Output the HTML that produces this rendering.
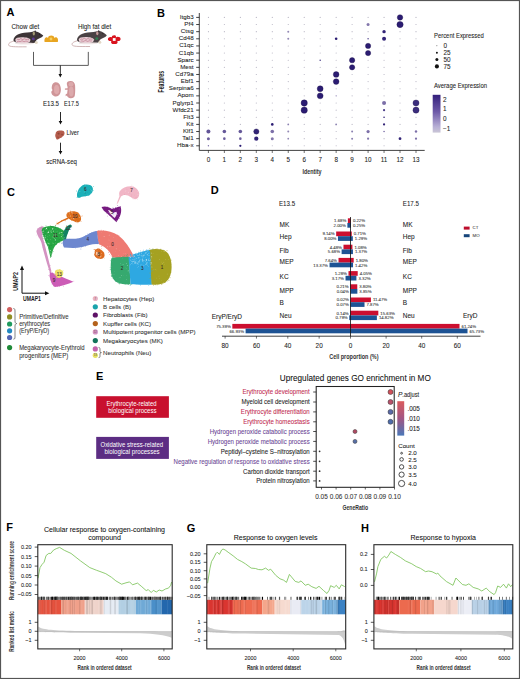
<!DOCTYPE html>
<html><head><meta charset="utf-8"><style>
html,body{margin:0;padding:0;background:#fff;}
svg{display:block;}
text{font-family:"Liberation Sans",sans-serif;}
</style></head><body>
<svg width="520" height="679" viewBox="0 0 520 679">
<rect x="0" y="0" width="520" height="679" fill="#fff"/>
<rect x="0.5" y="0.5" width="519" height="678" fill="none" stroke="#555" stroke-width="1.2"/>
<text x="6.40" y="16.38" font-size="11" text-anchor="start" fill="#000" font-weight="bold">A</text>
<text x="156.90" y="16.88" font-size="11" text-anchor="start" fill="#000" font-weight="bold">B</text>
<text x="7.10" y="195.58" font-size="11" text-anchor="start" fill="#000" font-weight="bold">C</text>
<text x="210.80" y="193.88" font-size="11" text-anchor="start" fill="#000" font-weight="bold">D</text>
<text x="96.00" y="380.18" font-size="11" text-anchor="start" fill="#000" font-weight="bold">E</text>
<text x="6.30" y="530.88" font-size="11" text-anchor="start" fill="#000" font-weight="bold">F</text>
<text x="186.70" y="531.68" font-size="11" text-anchor="start" fill="#000" font-weight="bold">G</text>
<text x="360.90" y="531.68" font-size="11" text-anchor="start" fill="#000" font-weight="bold">H</text>
<g transform="translate(0,0)">
<path d="M13.9,41.1 C10,42 8,43.5 8.7,45.3 C9.5,46.8 14,46.9 26.6,46.8" fill="none" stroke="#c4a2a2" stroke-width="0.8"/>
<path d="M13.5,40.5 C13.5,37.5 16,35 19,34 C22,33 26,32.5 30,32.3 C32,32 34,31 36,31.4 C38.5,31.8 41,33.5 43.3,35.5 C42.5,36.8 41,37.8 39.6,38.2 C38.5,38.6 37.5,39.2 36.5,40 L35,42.8 C31,43.6 25,43.8 20,43.3 C16.5,42.9 14,41.8 13.5,40.5 Z" fill="#3d3436" stroke="none" stroke-width="0.6"/>
<ellipse cx="24.5" cy="43.5" rx="9.5" ry="1.0" fill="#efe6e6"/>
<path d="M15.4,39.6 C15.5,37.9 18,37.2 22,37.2 C26,37.2 29.5,37.9 30.3,39.6 C30.8,41.3 29.5,43 26,43.3 C22,43.6 17.5,43.3 16,42.3 C15.5,41.6 15.4,40.6 15.4,39.6 Z" fill="#e8d0d6" stroke="none" stroke-width="0.6"/>
<path d="M16.8,39.8 C17.8,38.3 19.3,40.8 20.3,38.8 C21.3,37.8 22.3,40.8 23.8,39.1 C24.8,38.1 25.8,40.3 27.3,39.3 C28,38.9 28.6,39.8 29,39.6 M17.2,41.6 C18.7,40.4 19.7,42.6 21.2,41.1 C22.7,40.1 23.7,42.6 25.2,41.3 C26.2,40.6 27.2,41.9 28.4,41.1" fill="none" stroke="#b05a72" stroke-width="0.55"/>
<ellipse cx="33.8" cy="33.6" rx="1.15" ry="2.0" fill="#a39a72"/>
<circle cx="35.20" cy="31.20" r="0.70" fill="#2a2224"/>
<ellipse cx="33.3" cy="38.9" rx="1.5" ry="1.4" fill="#5a3a90"/>
<circle cx="39.40" cy="34.10" r="0.45" fill="#000"/>
<ellipse cx="36.3" cy="42.6" rx="1.5" ry="1.5" fill="#e2d8c6"/>
</g>
<g transform="translate(63.5,-0.3)">
<path d="M13.9,41.1 C10,42 8,43.5 8.7,45.3 C9.5,46.8 14,46.9 26.6,46.8" fill="none" stroke="#c4a2a2" stroke-width="0.8"/>
<path d="M13.5,40.5 C13.5,37.5 16,35 19,34 C22,33 26,32.5 30,32.3 C32,32 34,31 36,31.4 C38.5,31.8 41,33.5 43.3,35.5 C42.5,36.8 41,37.8 39.6,38.2 C38.5,38.6 37.5,39.2 36.5,40 L35,42.8 C31,43.6 25,43.8 20,43.3 C16.5,42.9 14,41.8 13.5,40.5 Z" fill="#4a4244" stroke="none" stroke-width="0.6"/>
<ellipse cx="24.5" cy="43.5" rx="9.5" ry="1.0" fill="#efe6e6"/>
<path d="M15.4,39.6 C15.5,37.9 18,37.2 22,37.2 C26,37.2 29.5,37.9 30.3,39.6 C30.8,41.3 29.5,43 26,43.3 C22,43.6 17.5,43.3 16,42.3 C15.5,41.6 15.4,40.6 15.4,39.6 Z" fill="#e8d0d6" stroke="none" stroke-width="0.6"/>
<path d="M16.8,39.8 C17.8,38.3 19.3,40.8 20.3,38.8 C21.3,37.8 22.3,40.8 23.8,39.1 C24.8,38.1 25.8,40.3 27.3,39.3 C28,38.9 28.6,39.8 29,39.6 M17.2,41.6 C18.7,40.4 19.7,42.6 21.2,41.1 C22.7,40.1 23.7,42.6 25.2,41.3 C26.2,40.6 27.2,41.9 28.4,41.1" fill="none" stroke="#b05a72" stroke-width="0.55"/>
<ellipse cx="33.8" cy="33.6" rx="1.15" ry="2.0" fill="#c49a98"/>
<circle cx="35.20" cy="31.20" r="0.70" fill="#2a2224"/>
<ellipse cx="33.3" cy="38.9" rx="1.5" ry="1.4" fill="#2e7d4e"/>
<circle cx="39.40" cy="34.10" r="0.45" fill="#000"/>
<ellipse cx="36.3" cy="42.6" rx="1.5" ry="1.5" fill="#e2d8c6"/>
</g>
<path d="M44.6,42 C44.2,40.5 44.4,38.3 45.8,37.6 C46.8,37.1 47.6,37.4 48,37.9 C48.2,36.3 49.6,35.5 51.2,35.5 C52.8,35.5 54.2,36.3 54.3,37.9 C54.8,37.4 55.8,37.1 56.8,37.6 C58.1,38.3 58.3,40.5 57.8,42 Z" fill="#e8a521" stroke="none" stroke-width="0.6"/>
<circle cx="51.00" cy="39.00" r="1.40" fill="#f6cf62"/>
<path d="M112,37.4 C111,35.2 116,34.6 116,36.5 L115.8,37.4 C117.5,36.2 120.8,37 120.6,39.2 C120.4,40.8 118.5,41.3 117.3,40.9 C118.2,42.6 117.3,44.2 114.2,44.1 C111.3,44.1 110.6,42.6 111.3,40.9 C110,41.4 107.8,40.7 107.9,39 C108.1,37 110.8,36.4 112,37.4 Z" fill="#d9141f" stroke="none" stroke-width="0.6"/>
<rect x="112.80" y="38.10" width="2.80" height="2.80" fill="#fff"/>
<text x="11.50" y="28.90" font-size="6.4" text-anchor="start" fill="#222" stroke="#222" stroke-width="0.07" textLength="27.70" lengthAdjust="spacingAndGlyphs">Chow diet</text>
<text x="78.00" y="28.90" font-size="6.4" text-anchor="start" fill="#222" stroke="#222" stroke-width="0.07" textLength="33.20" lengthAdjust="spacingAndGlyphs">High fat diet</text>
<path d="M33.5,51.9 L33.5,65.4 L88.3,65.4 L88.3,51.9" fill="none" stroke="#4a4a4a" stroke-width="0.9"/>
<line x1="60.30" y1="65.40" x2="60.30" y2="75.00" stroke="#111" stroke-width="0.9"/>
<path d="M58.5,74.1 L60.3,77.5 L62.099999999999994,74.1 Z" fill="#111" stroke="none" stroke-width="0.6"/>
<line x1="60.50" y1="112.00" x2="60.50" y2="122.00" stroke="#111" stroke-width="0.9"/>
<path d="M58.7,121.1 L60.5,124.5 L62.3,121.1 Z" fill="#111" stroke="none" stroke-width="0.6"/>
<line x1="60.50" y1="142.70" x2="60.50" y2="152.00" stroke="#111" stroke-width="0.9"/>
<path d="M58.7,151.1 L60.5,154.5 L62.3,151.1 Z" fill="#111" stroke="none" stroke-width="0.6"/>
<path d="M56,82.3 C59,82.3 60.9,85.5 60.9,89.5 C60.9,93.5 59,96.5 56,96.5 C53,96.5 51.1,94 51.3,91.5 C52.5,91 52.8,89.5 51.8,88.8 C51.5,85 53,82.3 56,82.3 Z" fill="#cf9598" stroke="none" stroke-width="0.6"/>
<ellipse cx="56.6" cy="89.6" rx="2.6" ry="4.6" fill="#dfaaac"/>
<path d="M66.8,84 C66.5,81.8 68.5,80.8 70.5,80.9 C73,80.8 75,82.5 75.1,85.5 C75.3,89 75.3,93 74.8,95.5 C74.5,97.5 72.5,98.4 70.5,98.2 C68.5,98 67.2,97 67,95.5 L65.6,96.2 L65.7,94.3 L67.2,93.5 C67.3,92 67.5,90.5 67.6,89.8 L64.9,89.7 L64.9,88.4 L67.6,88.3 C67.8,87.5 67.2,86 66.8,84 Z" fill="#cf9598" stroke="none" stroke-width="0.6"/>
<ellipse cx="71.3" cy="91.5" rx="2.3" ry="5" fill="#dcaaac"/>
<ellipse cx="71" cy="84.2" rx="2.4" ry="2.2" fill="#dcaaac"/>
<text x="43.00" y="105.84" font-size="6.5" text-anchor="start" fill="#222" stroke="#222" stroke-width="0.07" textLength="16.00" lengthAdjust="spacingAndGlyphs">E13.5</text>
<text x="64.10" y="105.84" font-size="6.5" text-anchor="start" fill="#222" stroke="#222" stroke-width="0.07" textLength="14.70" lengthAdjust="spacingAndGlyphs">E17.5</text>
<path d="M56.5,131.8 C57.5,130.6 59.5,130.5 61,130.6 C62.8,130.4 64.3,131 64.5,132.8 C64.8,134.6 63.8,136 62.5,136.6 C61.8,137.6 60.8,138.2 59.8,138.3 C59,139 58,139.8 57,139.5 C56,139.2 56.2,138 55.6,137.2 C55,136 55.2,134.5 55.7,133.5 C55.6,132.8 55.9,132.2 56.5,131.8 Z" fill="#b45c4c" stroke="none" stroke-width="0.6"/>
<path d="M57.5,133 C58.5,132.2 60,132.8 59.5,134 C59,135 57.8,134.8 57.5,133 Z M61.5,133.8 C62.5,133.4 63.3,134.5 62.6,135.3 C61.9,135.8 61,135 61.5,133.8 Z M57.6,136.6 C58.4,136.3 59,137.3 58.4,138 C57.7,138.3 57.2,137.3 57.6,136.6 Z" fill="#8e4436" stroke="none" stroke-width="0.6"/>
<text x="66.50" y="135.18" font-size="6.6" text-anchor="start" fill="#222" stroke="#222" stroke-width="0.07" textLength="12.40" lengthAdjust="spacingAndGlyphs">Liver</text>
<text x="46.20" y="163.90" font-size="6.4" text-anchor="start" fill="#222" stroke="#222" stroke-width="0.07" textLength="30.70" lengthAdjust="spacingAndGlyphs">scRNA-seq</text>
<line x1="199.30" y1="13.00" x2="199.30" y2="150.40" stroke="#111" stroke-width="0.8"/>
<line x1="199.30" y1="150.40" x2="424.70" y2="150.40" stroke="#111" stroke-width="0.8"/>
<line x1="196.20" y1="17.40" x2="199.30" y2="17.40" stroke="#111" stroke-width="0.8"/>
<text x="193.60" y="18.93" font-size="6.2" text-anchor="end" fill="#222" stroke="#222" stroke-width="0.07">Itgb3</text>
<line x1="196.20" y1="24.53" x2="199.30" y2="24.53" stroke="#111" stroke-width="0.8"/>
<text x="193.60" y="26.07" font-size="6.2" text-anchor="end" fill="#222" stroke="#222" stroke-width="0.07">Pf4</text>
<line x1="196.20" y1="31.67" x2="199.30" y2="31.67" stroke="#111" stroke-width="0.8"/>
<text x="193.60" y="33.20" font-size="6.2" text-anchor="end" fill="#222" stroke="#222" stroke-width="0.07">Ctsg</text>
<line x1="196.20" y1="38.80" x2="199.30" y2="38.80" stroke="#111" stroke-width="0.8"/>
<text x="193.60" y="40.33" font-size="6.2" text-anchor="end" fill="#222" stroke="#222" stroke-width="0.07">Cd48</text>
<line x1="196.20" y1="45.93" x2="199.30" y2="45.93" stroke="#111" stroke-width="0.8"/>
<text x="193.60" y="47.47" font-size="6.2" text-anchor="end" fill="#222" stroke="#222" stroke-width="0.07">C1qc</text>
<line x1="196.20" y1="53.07" x2="199.30" y2="53.07" stroke="#111" stroke-width="0.8"/>
<text x="193.60" y="54.60" font-size="6.2" text-anchor="end" fill="#222" stroke="#222" stroke-width="0.07">C1qb</text>
<line x1="196.20" y1="60.20" x2="199.30" y2="60.20" stroke="#111" stroke-width="0.8"/>
<text x="193.60" y="61.73" font-size="6.2" text-anchor="end" fill="#222" stroke="#222" stroke-width="0.07">Sparc</text>
<line x1="196.20" y1="67.33" x2="199.30" y2="67.33" stroke="#111" stroke-width="0.8"/>
<text x="193.60" y="68.87" font-size="6.2" text-anchor="end" fill="#222" stroke="#222" stroke-width="0.07">Mest</text>
<line x1="196.20" y1="74.47" x2="199.30" y2="74.47" stroke="#111" stroke-width="0.8"/>
<text x="193.60" y="76.00" font-size="6.2" text-anchor="end" fill="#222" stroke="#222" stroke-width="0.07">Cd79a</text>
<line x1="196.20" y1="81.60" x2="199.30" y2="81.60" stroke="#111" stroke-width="0.8"/>
<text x="193.60" y="83.13" font-size="6.2" text-anchor="end" fill="#222" stroke="#222" stroke-width="0.07">Ebf1</text>
<line x1="196.20" y1="88.73" x2="199.30" y2="88.73" stroke="#111" stroke-width="0.8"/>
<text x="193.60" y="90.27" font-size="6.2" text-anchor="end" fill="#222" stroke="#222" stroke-width="0.07">Serpina6</text>
<line x1="196.20" y1="95.87" x2="199.30" y2="95.87" stroke="#111" stroke-width="0.8"/>
<text x="193.60" y="97.40" font-size="6.2" text-anchor="end" fill="#222" stroke="#222" stroke-width="0.07">Apom</text>
<line x1="196.20" y1="103.00" x2="199.30" y2="103.00" stroke="#111" stroke-width="0.8"/>
<text x="193.60" y="104.53" font-size="6.2" text-anchor="end" fill="#222" stroke="#222" stroke-width="0.07">Pglyrp1</text>
<line x1="196.20" y1="110.13" x2="199.30" y2="110.13" stroke="#111" stroke-width="0.8"/>
<text x="193.60" y="111.67" font-size="6.2" text-anchor="end" fill="#222" stroke="#222" stroke-width="0.07">Wfdc21</text>
<line x1="196.20" y1="117.27" x2="199.30" y2="117.27" stroke="#111" stroke-width="0.8"/>
<text x="193.60" y="118.80" font-size="6.2" text-anchor="end" fill="#222" stroke="#222" stroke-width="0.07">Flt3</text>
<line x1="196.20" y1="124.40" x2="199.30" y2="124.40" stroke="#111" stroke-width="0.8"/>
<text x="193.60" y="125.93" font-size="6.2" text-anchor="end" fill="#222" stroke="#222" stroke-width="0.07">Kit</text>
<line x1="196.20" y1="131.53" x2="199.30" y2="131.53" stroke="#111" stroke-width="0.8"/>
<text x="193.60" y="133.07" font-size="6.2" text-anchor="end" fill="#222" stroke="#222" stroke-width="0.07">Klf1</text>
<line x1="196.20" y1="138.67" x2="199.30" y2="138.67" stroke="#111" stroke-width="0.8"/>
<text x="193.60" y="140.20" font-size="6.2" text-anchor="end" fill="#222" stroke="#222" stroke-width="0.07">Tal1</text>
<line x1="196.20" y1="145.80" x2="199.30" y2="145.80" stroke="#111" stroke-width="0.8"/>
<text x="193.60" y="147.33" font-size="6.2" text-anchor="end" fill="#222" stroke="#222" stroke-width="0.07">Hba-x</text>
<line x1="208.40" y1="150.40" x2="208.40" y2="153.00" stroke="#111" stroke-width="0.6"/>
<text x="208.40" y="161.97" font-size="6.3" text-anchor="middle" fill="#222" stroke="#222" stroke-width="0.07">0</text>
<line x1="224.37" y1="150.40" x2="224.37" y2="153.00" stroke="#111" stroke-width="0.6"/>
<text x="224.37" y="161.97" font-size="6.3" text-anchor="middle" fill="#222" stroke="#222" stroke-width="0.07">1</text>
<line x1="240.34" y1="150.40" x2="240.34" y2="153.00" stroke="#111" stroke-width="0.6"/>
<text x="240.34" y="161.97" font-size="6.3" text-anchor="middle" fill="#222" stroke="#222" stroke-width="0.07">2</text>
<line x1="256.31" y1="150.40" x2="256.31" y2="153.00" stroke="#111" stroke-width="0.6"/>
<text x="256.31" y="161.97" font-size="6.3" text-anchor="middle" fill="#222" stroke="#222" stroke-width="0.07">3</text>
<line x1="272.28" y1="150.40" x2="272.28" y2="153.00" stroke="#111" stroke-width="0.6"/>
<text x="272.28" y="161.97" font-size="6.3" text-anchor="middle" fill="#222" stroke="#222" stroke-width="0.07">4</text>
<line x1="288.25" y1="150.40" x2="288.25" y2="153.00" stroke="#111" stroke-width="0.6"/>
<text x="288.25" y="161.97" font-size="6.3" text-anchor="middle" fill="#222" stroke="#222" stroke-width="0.07">5</text>
<line x1="304.22" y1="150.40" x2="304.22" y2="153.00" stroke="#111" stroke-width="0.6"/>
<text x="304.22" y="161.97" font-size="6.3" text-anchor="middle" fill="#222" stroke="#222" stroke-width="0.07">6</text>
<line x1="320.18" y1="150.40" x2="320.18" y2="153.00" stroke="#111" stroke-width="0.6"/>
<text x="320.18" y="161.97" font-size="6.3" text-anchor="middle" fill="#222" stroke="#222" stroke-width="0.07">7</text>
<line x1="336.15" y1="150.40" x2="336.15" y2="153.00" stroke="#111" stroke-width="0.6"/>
<text x="336.15" y="161.97" font-size="6.3" text-anchor="middle" fill="#222" stroke="#222" stroke-width="0.07">8</text>
<line x1="352.12" y1="150.40" x2="352.12" y2="153.00" stroke="#111" stroke-width="0.6"/>
<text x="352.12" y="161.97" font-size="6.3" text-anchor="middle" fill="#222" stroke="#222" stroke-width="0.07">9</text>
<line x1="368.09" y1="150.40" x2="368.09" y2="153.00" stroke="#111" stroke-width="0.6"/>
<text x="368.09" y="161.97" font-size="6.3" text-anchor="middle" fill="#222" stroke="#222" stroke-width="0.07">10</text>
<line x1="384.06" y1="150.40" x2="384.06" y2="153.00" stroke="#111" stroke-width="0.6"/>
<text x="384.06" y="161.97" font-size="6.3" text-anchor="middle" fill="#222" stroke="#222" stroke-width="0.07">11</text>
<line x1="400.03" y1="150.40" x2="400.03" y2="153.00" stroke="#111" stroke-width="0.6"/>
<text x="400.03" y="161.97" font-size="6.3" text-anchor="middle" fill="#222" stroke="#222" stroke-width="0.07">12</text>
<line x1="416.00" y1="150.40" x2="416.00" y2="153.00" stroke="#111" stroke-width="0.6"/>
<text x="416.00" y="161.97" font-size="6.3" text-anchor="middle" fill="#222" stroke="#222" stroke-width="0.07">13</text>
<text x="302.50" y="173.60" font-size="7.3" text-anchor="start" fill="#333" font-weight="bold" textLength="19.10" lengthAdjust="spacingAndGlyphs">Identity</text>
<text transform="translate(164.4,81.7) rotate(-90)" font-size="8.6" font-weight="bold" text-anchor="middle" fill="#222" textLength="21.6" lengthAdjust="spacingAndGlyphs">Features</text>
<circle cx="208.40" cy="17.40" r="0.55" fill="#b4b1c0"/>
<circle cx="224.37" cy="17.40" r="0.55" fill="#b4b1c0"/>
<circle cx="240.34" cy="17.40" r="0.55" fill="#b4b1c0"/>
<circle cx="256.31" cy="17.40" r="0.55" fill="#b4b1c0"/>
<circle cx="272.28" cy="17.40" r="0.55" fill="#b4b1c0"/>
<circle cx="288.25" cy="17.40" r="0.55" fill="#b4b1c0"/>
<circle cx="304.22" cy="17.40" r="0.55" fill="#b4b1c0"/>
<circle cx="320.18" cy="17.40" r="0.55" fill="#b4b1c0"/>
<circle cx="336.15" cy="17.40" r="0.55" fill="#b4b1c0"/>
<circle cx="352.12" cy="17.40" r="0.55" fill="#b4b1c0"/>
<circle cx="368.09" cy="17.40" r="0.55" fill="#b4b1c0"/>
<circle cx="384.06" cy="17.40" r="0.55" fill="#b4b1c0"/>
<circle cx="400.03" cy="17.40" r="2.75" fill="#2b1c72" stroke="#1c1248" stroke-width="0.35"/>
<circle cx="416.00" cy="17.40" r="0.55" fill="#b4b1c0"/>
<circle cx="208.40" cy="24.53" r="0.55" fill="#b4b1c0"/>
<circle cx="224.37" cy="24.53" r="0.55" fill="#b4b1c0"/>
<circle cx="240.34" cy="24.53" r="0.55" fill="#b4b1c0"/>
<circle cx="256.31" cy="24.53" r="0.55" fill="#b4b1c0"/>
<circle cx="272.28" cy="24.53" r="0.55" fill="#b4b1c0"/>
<circle cx="288.25" cy="24.53" r="0.55" fill="#b4b1c0"/>
<circle cx="304.22" cy="24.53" r="0.55" fill="#b4b1c0"/>
<circle cx="320.18" cy="24.53" r="0.55" fill="#b4b1c0"/>
<circle cx="336.15" cy="24.53" r="0.55" fill="#b4b1c0"/>
<circle cx="352.12" cy="24.53" r="0.55" fill="#b4b1c0"/>
<circle cx="368.09" cy="24.53" r="1.50" fill="#8377ac"/>
<circle cx="384.06" cy="24.53" r="0.55" fill="#b4b1c0"/>
<circle cx="400.03" cy="24.53" r="3.15" fill="#2b1c72" stroke="#1c1248" stroke-width="0.35"/>
<circle cx="416.00" cy="24.53" r="0.55" fill="#b4b1c0"/>
<circle cx="208.40" cy="31.67" r="0.55" fill="#b4b1c0"/>
<circle cx="224.37" cy="31.67" r="0.55" fill="#b4b1c0"/>
<circle cx="240.34" cy="31.67" r="0.55" fill="#b4b1c0"/>
<circle cx="256.31" cy="31.67" r="0.55" fill="#b4b1c0"/>
<circle cx="272.28" cy="31.67" r="0.55" fill="#b4b1c0"/>
<circle cx="288.25" cy="31.67" r="1.00" fill="#9288b4"/>
<circle cx="304.22" cy="31.67" r="0.55" fill="#b4b1c0"/>
<circle cx="320.18" cy="31.67" r="0.55" fill="#b4b1c0"/>
<circle cx="336.15" cy="31.67" r="0.55" fill="#b4b1c0"/>
<circle cx="352.12" cy="31.67" r="0.55" fill="#b4b1c0"/>
<circle cx="368.09" cy="31.67" r="0.55" fill="#b4b1c0"/>
<circle cx="384.06" cy="31.67" r="1.70" fill="#332477"/>
<circle cx="400.03" cy="31.67" r="0.55" fill="#b4b1c0"/>
<circle cx="416.00" cy="31.67" r="0.55" fill="#b4b1c0"/>
<circle cx="208.40" cy="38.80" r="0.55" fill="#b4b1c0"/>
<circle cx="224.37" cy="38.80" r="0.55" fill="#b4b1c0"/>
<circle cx="240.34" cy="38.80" r="0.55" fill="#b4b1c0"/>
<circle cx="256.31" cy="38.80" r="0.55" fill="#b4b1c0"/>
<circle cx="272.28" cy="38.80" r="0.55" fill="#b4b1c0"/>
<circle cx="288.25" cy="38.80" r="1.00" fill="#9288b4"/>
<circle cx="304.22" cy="38.80" r="0.55" fill="#b4b1c0"/>
<circle cx="320.18" cy="38.80" r="0.55" fill="#b4b1c0"/>
<circle cx="336.15" cy="38.80" r="1.30" fill="#2b1c72"/>
<circle cx="352.12" cy="38.80" r="0.55" fill="#b4b1c0"/>
<circle cx="368.09" cy="38.80" r="0.80" fill="#5c4e92"/>
<circle cx="384.06" cy="38.80" r="2.00" fill="#332477"/>
<circle cx="400.03" cy="38.80" r="0.55" fill="#b4b1c0"/>
<circle cx="416.00" cy="38.80" r="0.55" fill="#b4b1c0"/>
<circle cx="208.40" cy="45.93" r="0.55" fill="#b4b1c0"/>
<circle cx="224.37" cy="45.93" r="0.55" fill="#b4b1c0"/>
<circle cx="240.34" cy="45.93" r="0.55" fill="#b4b1c0"/>
<circle cx="256.31" cy="45.93" r="0.55" fill="#b4b1c0"/>
<circle cx="272.28" cy="45.93" r="0.55" fill="#b4b1c0"/>
<circle cx="288.25" cy="45.93" r="0.55" fill="#b4b1c0"/>
<circle cx="304.22" cy="45.93" r="0.55" fill="#b4b1c0"/>
<circle cx="320.18" cy="45.93" r="0.55" fill="#b4b1c0"/>
<circle cx="336.15" cy="45.93" r="0.55" fill="#b4b1c0"/>
<circle cx="352.12" cy="45.93" r="0.55" fill="#b4b1c0"/>
<circle cx="368.09" cy="45.93" r="2.65" fill="#2b1c72" stroke="#1c1248" stroke-width="0.35"/>
<circle cx="384.06" cy="45.93" r="0.55" fill="#b4b1c0"/>
<circle cx="400.03" cy="45.93" r="0.55" fill="#b4b1c0"/>
<circle cx="416.00" cy="45.93" r="0.55" fill="#b4b1c0"/>
<circle cx="208.40" cy="53.07" r="0.55" fill="#b4b1c0"/>
<circle cx="224.37" cy="53.07" r="0.55" fill="#b4b1c0"/>
<circle cx="240.34" cy="53.07" r="0.55" fill="#b4b1c0"/>
<circle cx="256.31" cy="53.07" r="0.55" fill="#b4b1c0"/>
<circle cx="272.28" cy="53.07" r="0.55" fill="#b4b1c0"/>
<circle cx="288.25" cy="53.07" r="0.55" fill="#b4b1c0"/>
<circle cx="304.22" cy="53.07" r="0.55" fill="#b4b1c0"/>
<circle cx="320.18" cy="53.07" r="0.55" fill="#b4b1c0"/>
<circle cx="336.15" cy="53.07" r="0.55" fill="#b4b1c0"/>
<circle cx="352.12" cy="53.07" r="0.55" fill="#b4b1c0"/>
<circle cx="368.09" cy="53.07" r="2.65" fill="#2b1c72" stroke="#1c1248" stroke-width="0.35"/>
<circle cx="384.06" cy="53.07" r="0.55" fill="#b4b1c0"/>
<circle cx="400.03" cy="53.07" r="0.55" fill="#b4b1c0"/>
<circle cx="416.00" cy="53.07" r="0.55" fill="#b4b1c0"/>
<circle cx="208.40" cy="60.20" r="0.55" fill="#b4b1c0"/>
<circle cx="224.37" cy="60.20" r="0.55" fill="#b4b1c0"/>
<circle cx="240.34" cy="60.20" r="0.55" fill="#b4b1c0"/>
<circle cx="256.31" cy="60.20" r="0.55" fill="#b4b1c0"/>
<circle cx="272.28" cy="60.20" r="0.55" fill="#b4b1c0"/>
<circle cx="288.25" cy="60.20" r="0.55" fill="#b4b1c0"/>
<circle cx="304.22" cy="60.20" r="0.55" fill="#b4b1c0"/>
<circle cx="320.18" cy="60.20" r="0.70" fill="#3b2d7d"/>
<circle cx="336.15" cy="60.20" r="0.55" fill="#b4b1c0"/>
<circle cx="352.12" cy="60.20" r="2.65" fill="#2b1c72" stroke="#1c1248" stroke-width="0.35"/>
<circle cx="368.09" cy="60.20" r="0.55" fill="#b4b1c0"/>
<circle cx="384.06" cy="60.20" r="0.55" fill="#b4b1c0"/>
<circle cx="400.03" cy="60.20" r="0.55" fill="#b4b1c0"/>
<circle cx="416.00" cy="60.20" r="0.55" fill="#b4b1c0"/>
<circle cx="208.40" cy="67.33" r="0.55" fill="#b4b1c0"/>
<circle cx="224.37" cy="67.33" r="0.55" fill="#b4b1c0"/>
<circle cx="240.34" cy="67.33" r="0.55" fill="#b4b1c0"/>
<circle cx="256.31" cy="67.33" r="0.55" fill="#b4b1c0"/>
<circle cx="272.28" cy="67.33" r="0.55" fill="#b4b1c0"/>
<circle cx="288.25" cy="67.33" r="0.55" fill="#b4b1c0"/>
<circle cx="304.22" cy="67.33" r="0.55" fill="#b4b1c0"/>
<circle cx="320.18" cy="67.33" r="0.55" fill="#b4b1c0"/>
<circle cx="336.15" cy="67.33" r="0.55" fill="#b4b1c0"/>
<circle cx="352.12" cy="67.33" r="2.65" fill="#2b1c72" stroke="#1c1248" stroke-width="0.35"/>
<circle cx="368.09" cy="67.33" r="0.55" fill="#b4b1c0"/>
<circle cx="384.06" cy="67.33" r="0.55" fill="#b4b1c0"/>
<circle cx="400.03" cy="67.33" r="0.55" fill="#b4b1c0"/>
<circle cx="416.00" cy="67.33" r="0.55" fill="#b4b1c0"/>
<circle cx="208.40" cy="74.47" r="0.55" fill="#b4b1c0"/>
<circle cx="224.37" cy="74.47" r="0.55" fill="#b4b1c0"/>
<circle cx="240.34" cy="74.47" r="0.55" fill="#b4b1c0"/>
<circle cx="256.31" cy="74.47" r="0.55" fill="#b4b1c0"/>
<circle cx="272.28" cy="74.47" r="0.55" fill="#b4b1c0"/>
<circle cx="288.25" cy="74.47" r="0.55" fill="#b4b1c0"/>
<circle cx="304.22" cy="74.47" r="0.55" fill="#b4b1c0"/>
<circle cx="320.18" cy="74.47" r="0.55" fill="#b4b1c0"/>
<circle cx="336.15" cy="74.47" r="2.85" fill="#2b1c72" stroke="#1c1248" stroke-width="0.35"/>
<circle cx="352.12" cy="74.47" r="0.55" fill="#b4b1c0"/>
<circle cx="368.09" cy="74.47" r="0.55" fill="#b4b1c0"/>
<circle cx="384.06" cy="74.47" r="0.55" fill="#b4b1c0"/>
<circle cx="400.03" cy="74.47" r="0.55" fill="#b4b1c0"/>
<circle cx="416.00" cy="74.47" r="0.55" fill="#b4b1c0"/>
<circle cx="208.40" cy="81.60" r="0.55" fill="#b4b1c0"/>
<circle cx="224.37" cy="81.60" r="0.55" fill="#b4b1c0"/>
<circle cx="240.34" cy="81.60" r="0.55" fill="#b4b1c0"/>
<circle cx="256.31" cy="81.60" r="0.55" fill="#b4b1c0"/>
<circle cx="272.28" cy="81.60" r="0.55" fill="#b4b1c0"/>
<circle cx="288.25" cy="81.60" r="0.55" fill="#b4b1c0"/>
<circle cx="304.22" cy="81.60" r="0.55" fill="#b4b1c0"/>
<circle cx="320.18" cy="81.60" r="0.55" fill="#b4b1c0"/>
<circle cx="336.15" cy="81.60" r="2.85" fill="#2b1c72" stroke="#1c1248" stroke-width="0.35"/>
<circle cx="352.12" cy="81.60" r="0.55" fill="#b4b1c0"/>
<circle cx="368.09" cy="81.60" r="0.55" fill="#b4b1c0"/>
<circle cx="384.06" cy="81.60" r="0.55" fill="#b4b1c0"/>
<circle cx="400.03" cy="81.60" r="0.55" fill="#b4b1c0"/>
<circle cx="416.00" cy="81.60" r="0.55" fill="#b4b1c0"/>
<circle cx="208.40" cy="88.73" r="0.55" fill="#b4b1c0"/>
<circle cx="224.37" cy="88.73" r="0.55" fill="#b4b1c0"/>
<circle cx="240.34" cy="88.73" r="0.55" fill="#b4b1c0"/>
<circle cx="256.31" cy="88.73" r="0.55" fill="#b4b1c0"/>
<circle cx="272.28" cy="88.73" r="0.55" fill="#b4b1c0"/>
<circle cx="288.25" cy="88.73" r="0.55" fill="#b4b1c0"/>
<circle cx="304.22" cy="88.73" r="0.55" fill="#b4b1c0"/>
<circle cx="320.18" cy="88.73" r="2.95" fill="#2b1c72" stroke="#1c1248" stroke-width="0.35"/>
<circle cx="336.15" cy="88.73" r="0.55" fill="#b4b1c0"/>
<circle cx="352.12" cy="88.73" r="0.55" fill="#b4b1c0"/>
<circle cx="368.09" cy="88.73" r="0.55" fill="#b4b1c0"/>
<circle cx="384.06" cy="88.73" r="0.55" fill="#b4b1c0"/>
<circle cx="400.03" cy="88.73" r="0.55" fill="#b4b1c0"/>
<circle cx="416.00" cy="88.73" r="0.55" fill="#b4b1c0"/>
<circle cx="208.40" cy="95.87" r="0.55" fill="#b4b1c0"/>
<circle cx="224.37" cy="95.87" r="0.55" fill="#b4b1c0"/>
<circle cx="240.34" cy="95.87" r="0.55" fill="#b4b1c0"/>
<circle cx="256.31" cy="95.87" r="0.55" fill="#b4b1c0"/>
<circle cx="272.28" cy="95.87" r="0.55" fill="#b4b1c0"/>
<circle cx="288.25" cy="95.87" r="0.55" fill="#b4b1c0"/>
<circle cx="304.22" cy="95.87" r="0.55" fill="#b4b1c0"/>
<circle cx="320.18" cy="95.87" r="2.95" fill="#2b1c72" stroke="#1c1248" stroke-width="0.35"/>
<circle cx="336.15" cy="95.87" r="0.60" fill="#7c6fa8"/>
<circle cx="352.12" cy="95.87" r="0.55" fill="#b4b1c0"/>
<circle cx="368.09" cy="95.87" r="0.55" fill="#b4b1c0"/>
<circle cx="384.06" cy="95.87" r="0.55" fill="#b4b1c0"/>
<circle cx="400.03" cy="95.87" r="0.55" fill="#b4b1c0"/>
<circle cx="416.00" cy="95.87" r="0.55" fill="#b4b1c0"/>
<circle cx="208.40" cy="103.00" r="0.55" fill="#b4b1c0"/>
<circle cx="224.37" cy="103.00" r="0.55" fill="#b4b1c0"/>
<circle cx="240.34" cy="103.00" r="0.55" fill="#b4b1c0"/>
<circle cx="256.31" cy="103.00" r="0.55" fill="#b4b1c0"/>
<circle cx="272.28" cy="103.00" r="0.55" fill="#b4b1c0"/>
<circle cx="288.25" cy="103.00" r="0.55" fill="#b4b1c0"/>
<circle cx="304.22" cy="103.00" r="3.15" fill="#2b1c72" stroke="#1c1248" stroke-width="0.35"/>
<circle cx="320.18" cy="103.00" r="0.55" fill="#b4b1c0"/>
<circle cx="336.15" cy="103.00" r="0.55" fill="#b4b1c0"/>
<circle cx="352.12" cy="103.00" r="0.55" fill="#b4b1c0"/>
<circle cx="368.09" cy="103.00" r="0.55" fill="#b4b1c0"/>
<circle cx="384.06" cy="103.00" r="2.00" fill="#7c6fa8"/>
<circle cx="400.03" cy="103.00" r="0.55" fill="#b4b1c0"/>
<circle cx="416.00" cy="103.00" r="3.05" fill="#3b2d7d" stroke="#1c1248" stroke-width="0.35"/>
<circle cx="208.40" cy="110.13" r="0.55" fill="#b4b1c0"/>
<circle cx="224.37" cy="110.13" r="0.55" fill="#b4b1c0"/>
<circle cx="240.34" cy="110.13" r="0.55" fill="#b4b1c0"/>
<circle cx="256.31" cy="110.13" r="0.55" fill="#b4b1c0"/>
<circle cx="272.28" cy="110.13" r="0.55" fill="#b4b1c0"/>
<circle cx="288.25" cy="110.13" r="0.55" fill="#b4b1c0"/>
<circle cx="304.22" cy="110.13" r="3.15" fill="#2b1c72" stroke="#1c1248" stroke-width="0.35"/>
<circle cx="320.18" cy="110.13" r="0.55" fill="#b4b1c0"/>
<circle cx="336.15" cy="110.13" r="0.55" fill="#b4b1c0"/>
<circle cx="352.12" cy="110.13" r="0.55" fill="#b4b1c0"/>
<circle cx="368.09" cy="110.13" r="0.55" fill="#b4b1c0"/>
<circle cx="384.06" cy="110.13" r="1.10" fill="#4b3d88"/>
<circle cx="400.03" cy="110.13" r="0.55" fill="#b4b1c0"/>
<circle cx="416.00" cy="110.13" r="3.05" fill="#3b2d7d" stroke="#1c1248" stroke-width="0.35"/>
<circle cx="208.40" cy="117.27" r="0.55" fill="#b4b1c0"/>
<circle cx="224.37" cy="117.27" r="0.55" fill="#b4b1c0"/>
<circle cx="240.34" cy="117.27" r="0.55" fill="#b4b1c0"/>
<circle cx="256.31" cy="117.27" r="0.55" fill="#b4b1c0"/>
<circle cx="272.28" cy="117.27" r="0.55" fill="#b4b1c0"/>
<circle cx="288.25" cy="117.27" r="0.55" fill="#b4b1c0"/>
<circle cx="304.22" cy="117.27" r="0.55" fill="#b4b1c0"/>
<circle cx="320.18" cy="117.27" r="0.55" fill="#b4b1c0"/>
<circle cx="336.15" cy="117.27" r="0.55" fill="#b4b1c0"/>
<circle cx="352.12" cy="117.27" r="0.55" fill="#b4b1c0"/>
<circle cx="368.09" cy="117.27" r="0.55" fill="#b4b1c0"/>
<circle cx="384.06" cy="117.27" r="0.80" fill="#332477"/>
<circle cx="400.03" cy="117.27" r="0.55" fill="#b4b1c0"/>
<circle cx="416.00" cy="117.27" r="0.55" fill="#b4b1c0"/>
<circle cx="208.40" cy="124.40" r="0.55" fill="#b4b1c0"/>
<circle cx="224.37" cy="124.40" r="0.55" fill="#b4b1c0"/>
<circle cx="240.34" cy="124.40" r="0.55" fill="#b4b1c0"/>
<circle cx="256.31" cy="124.40" r="0.55" fill="#b4b1c0"/>
<circle cx="272.28" cy="124.40" r="1.30" fill="#2b1c72"/>
<circle cx="288.25" cy="124.40" r="0.90" fill="#8a80b0"/>
<circle cx="304.22" cy="124.40" r="0.55" fill="#b4b1c0"/>
<circle cx="320.18" cy="124.40" r="0.55" fill="#b4b1c0"/>
<circle cx="336.15" cy="124.40" r="0.90" fill="#8a80b0"/>
<circle cx="352.12" cy="124.40" r="0.55" fill="#b4b1c0"/>
<circle cx="368.09" cy="124.40" r="0.55" fill="#b4b1c0"/>
<circle cx="384.06" cy="124.40" r="1.10" fill="#332477"/>
<circle cx="400.03" cy="124.40" r="0.55" fill="#b4b1c0"/>
<circle cx="416.00" cy="124.40" r="0.55" fill="#b4b1c0"/>
<circle cx="208.40" cy="131.53" r="2.00" fill="#625497"/>
<circle cx="224.37" cy="131.53" r="1.80" fill="#655899"/>
<circle cx="240.34" cy="131.53" r="1.80" fill="#655899"/>
<circle cx="256.31" cy="131.53" r="2.65" fill="#332477" stroke="#1c1248" stroke-width="0.35"/>
<circle cx="272.28" cy="131.53" r="1.80" fill="#7c6fa8"/>
<circle cx="288.25" cy="131.53" r="1.00" fill="#9288b4"/>
<circle cx="304.22" cy="131.53" r="0.55" fill="#b4b1c0"/>
<circle cx="320.18" cy="131.53" r="0.55" fill="#b4b1c0"/>
<circle cx="336.15" cy="131.53" r="0.55" fill="#b4b1c0"/>
<circle cx="352.12" cy="131.53" r="1.00" fill="#8a80b0"/>
<circle cx="368.09" cy="131.53" r="1.60" fill="#7c6fa8"/>
<circle cx="384.06" cy="131.53" r="0.80" fill="#7c6fa8"/>
<circle cx="400.03" cy="131.53" r="0.55" fill="#b4b1c0"/>
<circle cx="416.00" cy="131.53" r="1.20" fill="#7c6fa8"/>
<circle cx="208.40" cy="138.67" r="1.50" fill="#6c5e9d"/>
<circle cx="224.37" cy="138.67" r="1.30" fill="#6c5e9d"/>
<circle cx="240.34" cy="138.67" r="1.30" fill="#6c5e9d"/>
<circle cx="256.31" cy="138.67" r="2.10" fill="#332477"/>
<circle cx="272.28" cy="138.67" r="1.50" fill="#8377ac"/>
<circle cx="288.25" cy="138.67" r="0.90" fill="#9288b4"/>
<circle cx="304.22" cy="138.67" r="0.55" fill="#b4b1c0"/>
<circle cx="320.18" cy="138.67" r="0.55" fill="#b4b1c0"/>
<circle cx="336.15" cy="138.67" r="0.55" fill="#b4b1c0"/>
<circle cx="352.12" cy="138.67" r="1.00" fill="#8a80b0"/>
<circle cx="368.09" cy="138.67" r="1.10" fill="#8377ac"/>
<circle cx="384.06" cy="138.67" r="0.55" fill="#b4b1c0"/>
<circle cx="400.03" cy="138.67" r="1.40" fill="#332477"/>
<circle cx="416.00" cy="138.67" r="1.10" fill="#7c6fa8"/>
<circle cx="208.40" cy="145.80" r="0.70" fill="#7c6fa8"/>
<circle cx="224.37" cy="145.80" r="0.55" fill="#b4b1c0"/>
<circle cx="240.34" cy="145.80" r="1.10" fill="#2b1c72"/>
<circle cx="256.31" cy="145.80" r="0.55" fill="#b4b1c0"/>
<circle cx="272.28" cy="145.80" r="0.55" fill="#b4b1c0"/>
<circle cx="288.25" cy="145.80" r="0.55" fill="#b4b1c0"/>
<circle cx="304.22" cy="145.80" r="0.55" fill="#b4b1c0"/>
<circle cx="320.18" cy="145.80" r="0.55" fill="#b4b1c0"/>
<circle cx="336.15" cy="145.80" r="0.55" fill="#b4b1c0"/>
<circle cx="352.12" cy="145.80" r="0.55" fill="#b4b1c0"/>
<circle cx="368.09" cy="145.80" r="0.55" fill="#b4b1c0"/>
<circle cx="384.06" cy="145.80" r="0.55" fill="#b4b1c0"/>
<circle cx="400.03" cy="145.80" r="0.55" fill="#b4b1c0"/>
<circle cx="416.00" cy="145.80" r="0.55" fill="#b4b1c0"/>
<text x="434.00" y="38.07" font-size="6.3" text-anchor="start" fill="#222" stroke="#222" stroke-width="0.07" textLength="49.80" lengthAdjust="spacingAndGlyphs">Percent Expressed</text>
<circle cx="436.90" cy="45.70" r="0.45" fill="#111"/>
<text x="443.40" y="48.00" font-size="6.4" text-anchor="start" fill="#222" stroke="#222" stroke-width="0.07">0</text>
<circle cx="436.90" cy="52.70" r="0.95" fill="#111"/>
<text x="443.40" y="55.00" font-size="6.4" text-anchor="start" fill="#222" stroke="#222" stroke-width="0.07">25</text>
<circle cx="436.90" cy="59.60" r="1.50" fill="#111"/>
<text x="443.40" y="61.90" font-size="6.4" text-anchor="start" fill="#222" stroke="#222" stroke-width="0.07">50</text>
<circle cx="436.90" cy="66.40" r="2.05" fill="#111"/>
<text x="443.40" y="68.70" font-size="6.4" text-anchor="start" fill="#222" stroke="#222" stroke-width="0.07">75</text>
<text x="434.00" y="88.47" font-size="6.3" text-anchor="start" fill="#222" stroke="#222" stroke-width="0.07" textLength="53.00" lengthAdjust="spacingAndGlyphs">Average Expression</text>
<defs><linearGradient id="bgr" x1="0" y1="0" x2="0" y2="1"><stop offset="0" stop-color="#34207c"/><stop offset="0.45" stop-color="#6e5aa8"/><stop offset="0.85" stop-color="#b8b0d6"/><stop offset="1" stop-color="#cac6d6"/></linearGradient></defs>
<rect x="432.70" y="94.80" width="7.80" height="37.80" fill="url(#bgr)"/>
<text x="443.00" y="102.10" font-size="6.4" text-anchor="start" fill="#222" stroke="#222" stroke-width="0.07">2</text>
<text x="443.00" y="111.30" font-size="6.4" text-anchor="start" fill="#222" stroke="#222" stroke-width="0.07">1</text>
<text x="443.00" y="120.90" font-size="6.4" text-anchor="start" fill="#222" stroke="#222" stroke-width="0.07">0</text>
<text x="443.00" y="130.80" font-size="6.4" text-anchor="start" fill="#222" stroke="#222" stroke-width="0.07">−1</text>
<path d="M111.5,258.5 C115,256.5 122,256.3 129,256 L130.5,284.3 C126,284.8 121,284 117.5,282.5 C113,280.5 111.2,276 110.8,270 C110.6,265 110.8,261 111.5,258.5 Z" fill="#36a96f" stroke="none" stroke-width="0.6"/>
<path d="M128.5,256.2 C132,254.5 136,253.8 141,252.3 C145,251 148.5,250 152.5,249.8 L151.8,284.5 C145,285 137,284.8 130.5,284.3 Z" fill="#2ea8e2" stroke="none" stroke-width="0.6"/>
<path d="M150,249.8 C154,248.5 159,248.8 164,250.3 C169,252.5 171.8,259 171.6,267.5 C171.4,275.5 168.5,281.5 163,283.6 C158.5,285 154,284.8 151.5,284.5 C151,275 150.5,262 150,249.8 Z" fill="#a5a121" stroke="none" stroke-width="0.6"/>
<path d="M96.5,231 C104,229.8 112,231.5 118.5,235.5 C124,239.5 128.5,246 132.5,253.5 L133,256.5 C126,256.8 118,257 112.5,257.5 C111,253 107,247.5 98.5,244 Z" fill="#ee7a72" stroke="none" stroke-width="0.6"/>
<path d="M64,238.8 C70,238.3 76,239.8 82,237.3 C88,234.5 92,231.5 97,231 L98.5,244 C93,243.5 88,245 82,247 C76,248.5 70,248 64,247.5 C62.3,245 62.3,241 64,238.8 Z" fill="#6d87cf" stroke="none" stroke-width="0.6"/>
<path d="M95,250 C97,248 100,248 101,250 C103,251 105,253 104.5,256 C104,258.5 101,259.5 98,258.5 C95,257.5 93.5,255 94.5,252.5 Z" fill="#dd6a1e" stroke="none" stroke-width="0.6"/>
<path d="M67,213.5 C69,211 74,210.8 77,212 C80,213.5 81.5,217 81,220 C80,222.5 77,223 74.5,221.5 C72,220.5 69.5,219.5 68,218 C66,216.5 66,215 67,213.5 Z" fill="#dc6d1a" stroke="none" stroke-width="0.6"/>
<path d="M68,217.5 C64,219 60,221 56,224 L57,224.6 C61,222 64.5,220.3 68.5,219 Z" fill="#dc6d1a" stroke="none" stroke-width="0.6"/>
<path d="M36.5,231 C37,228.5 40,226.5 43,226.5 L44.5,230 C42,232 41.5,236 43.5,240 C45.5,247 48,258 51.5,271.5 L49.8,272.5 C46.5,262 43,250 41.5,243 C40,238 36.5,235 36.5,231 Z" fill="#d493c2" stroke="none" stroke-width="0.6"/>
<path d="M50,272 C55,273.5 62,277 73.5,281.7 C68,284 61,286.5 55,287 C52.5,286 50.5,281 49.5,276 Z" fill="#cc5cb6" stroke="none" stroke-width="0.6"/>
<path d="M55,271 C57,269 61,269 63,271.5 C64,274 62,277.5 59,278 C56.5,278 54.5,274 55,271 Z" fill="#eee26a" stroke="none" stroke-width="0.6"/>
<path d="M42,229 C44,226.5 50,225.5 55,226.5 C59,227.5 63,229 64,232 C65,235 64.5,238 63,240.5 C60,242 57,243 55,246 C53,249 52,253 50.8,258 C49.5,255 49,250 48,247 C46,243 44.5,240 43.5,236 C42.5,233.5 41.5,231 42,229 Z" fill="#27a744" stroke="none" stroke-width="0.6"/>
<path d="M63,233 C64,230 66,227 68,225.5 L70.5,224.5 L72.2,226 L70,228 C68.5,231 67,235 66,239 L64,240 Z" fill="#138163" stroke="none" stroke-width="0.6"/>
<path d="M77,194 C78,190 80,186 84,184.8 C88,184 92,185 92.8,188 C93.5,191 92,194 89,195.5 C86,196.5 83,196 81,197 C79,198.5 77,198 77,196 Z" fill="#1cb0b8" stroke="none" stroke-width="0.6"/>
<path d="M120,191 C122,188 126,186.2 131,186.2 C135,186.5 138,189 139.2,193 C139.5,196 138,199 135.5,199.2 C133,199 131,197 128,195.5 C125,194.5 122.5,195 121,196.5 L118,203 L116.5,204.6 L119.5,196 C119,194 119,192.5 120,191 Z" fill="#f1b6c6" stroke="none" stroke-width="0.6"/>
<path d="M101.5,207 C105,205.5 109,207 112,209 C115,208 118,206.5 120.5,206.5 C122,210 121,216 118,219.5 L116.5,222.3 C113,219 108,214 103.5,210.5 Z" fill="#761a80" stroke="none" stroke-width="0.6"/>
<path d="M96,252 C98,251 100,253 99,255 C98,256.5 96,255.5 96,254 Z" fill="#f6c9a6" stroke="none" stroke-width="0.6"/>
<path d="M108,210 C110,210 112,212 113.5,213 C114.5,212 116,211.5 117,212.5 C117,215 115.5,217 114.5,218 C112,216 109.5,213 108,210 Z" fill="#f5e9f6" stroke="none" stroke-width="0.6"/>
<circle cx="148.6" cy="266.5" r="0.34" fill="#d8eefa" fill-opacity="0.69"/>
<circle cx="147.7" cy="265.4" r="0.34" fill="#ffffff" fill-opacity="0.51"/>
<circle cx="149.6" cy="253.2" r="0.26" fill="#8fd0f0" fill-opacity="0.57"/>
<circle cx="143.5" cy="260.3" r="0.52" fill="#8fd0f0" fill-opacity="0.61"/>
<circle cx="137.8" cy="262.1" r="0.30" fill="#d8eefa" fill-opacity="0.73"/>
<circle cx="144.6" cy="255.5" r="0.54" fill="#8fd0f0" fill-opacity="0.56"/>
<circle cx="145.6" cy="257.2" r="0.26" fill="#ffffff" fill-opacity="0.51"/>
<circle cx="142.3" cy="259.8" r="0.48" fill="#d8eefa" fill-opacity="0.71"/>
<circle cx="145.7" cy="261.4" r="0.48" fill="#8fd0f0" fill-opacity="0.73"/>
<circle cx="152.0" cy="267.5" r="0.38" fill="#8fd0f0" fill-opacity="0.58"/>
<circle cx="129.3" cy="256.7" r="0.31" fill="#8fd0f0" fill-opacity="0.56"/>
<circle cx="143.2" cy="255.3" r="0.54" fill="#ffffff" fill-opacity="0.68"/>
<circle cx="149.3" cy="260.8" r="0.37" fill="#d8eefa" fill-opacity="0.63"/>
<circle cx="150.0" cy="263.0" r="0.34" fill="#d8eefa" fill-opacity="0.93"/>
<circle cx="140.7" cy="264.9" r="0.30" fill="#d8eefa" fill-opacity="0.56"/>
<circle cx="134.2" cy="260.3" r="0.26" fill="#d8eefa" fill-opacity="0.88"/>
<circle cx="143.6" cy="266.1" r="0.54" fill="#8fd0f0" fill-opacity="0.78"/>
<circle cx="151.6" cy="258.6" r="0.26" fill="#8fd0f0" fill-opacity="0.77"/>
<circle cx="142.7" cy="261.0" r="0.29" fill="#ffffff" fill-opacity="0.63"/>
<circle cx="136.0" cy="262.7" r="0.50" fill="#d8eefa" fill-opacity="0.55"/>
<circle cx="135.7" cy="263.0" r="0.48" fill="#d8eefa" fill-opacity="0.52"/>
<circle cx="135.9" cy="257.6" r="0.42" fill="#8fd0f0" fill-opacity="0.70"/>
<circle cx="134.2" cy="256.4" r="0.36" fill="#d8eefa" fill-opacity="0.58"/>
<circle cx="145.3" cy="253.4" r="0.38" fill="#d8eefa" fill-opacity="0.64"/>
<circle cx="149.0" cy="255.7" r="0.34" fill="#ffffff" fill-opacity="0.92"/>
<circle cx="132.9" cy="259.5" r="0.36" fill="#d8eefa" fill-opacity="0.75"/>
<circle cx="131.6" cy="260.0" r="0.26" fill="#d8eefa" fill-opacity="0.61"/>
<circle cx="135.0" cy="261.9" r="0.59" fill="#ffffff" fill-opacity="0.72"/>
<circle cx="138.6" cy="264.1" r="0.58" fill="#8fd0f0" fill-opacity="0.54"/>
<circle cx="141.0" cy="259.9" r="0.43" fill="#8fd0f0" fill-opacity="0.78"/>
<circle cx="136.7" cy="258.6" r="0.29" fill="#ffffff" fill-opacity="0.92"/>
<circle cx="135.0" cy="259.2" r="0.59" fill="#8fd0f0" fill-opacity="0.53"/>
<circle cx="138.7" cy="266.3" r="0.34" fill="#d8eefa" fill-opacity="0.71"/>
<circle cx="149.0" cy="252.8" r="0.35" fill="#8fd0f0" fill-opacity="0.52"/>
<circle cx="136.1" cy="260.8" r="0.33" fill="#ffffff" fill-opacity="0.56"/>
<circle cx="133.1" cy="261.3" r="0.57" fill="#ffffff" fill-opacity="0.81"/>
<circle cx="130.4" cy="256.0" r="0.41" fill="#d8eefa" fill-opacity="0.79"/>
<circle cx="137.4" cy="267.2" r="0.30" fill="#ffffff" fill-opacity="0.58"/>
<circle cx="130.2" cy="264.7" r="0.47" fill="#d8eefa" fill-opacity="0.59"/>
<circle cx="139.6" cy="254.1" r="0.54" fill="#ffffff" fill-opacity="0.52"/>
<circle cx="147.7" cy="251.1" r="0.59" fill="#8fd0f0" fill-opacity="0.60"/>
<circle cx="134.3" cy="256.1" r="0.52" fill="#d8eefa" fill-opacity="0.68"/>
<circle cx="137.3" cy="263.7" r="0.60" fill="#d8eefa" fill-opacity="0.55"/>
<circle cx="151.9" cy="264.2" r="0.29" fill="#d8eefa" fill-opacity="0.56"/>
<circle cx="140.9" cy="265.3" r="0.37" fill="#8fd0f0" fill-opacity="0.53"/>
<circle cx="133.0" cy="259.2" r="0.32" fill="#d8eefa" fill-opacity="0.95"/>
<circle cx="142.6" cy="260.8" r="0.59" fill="#ffffff" fill-opacity="0.53"/>
<circle cx="145.4" cy="264.3" r="0.44" fill="#d8eefa" fill-opacity="0.55"/>
<circle cx="142.5" cy="259.1" r="0.55" fill="#d8eefa" fill-opacity="0.51"/>
<circle cx="132.6" cy="262.4" r="0.37" fill="#8fd0f0" fill-opacity="0.88"/>
<circle cx="147.1" cy="254.8" r="0.40" fill="#d8eefa" fill-opacity="0.71"/>
<circle cx="139.7" cy="257.8" r="0.44" fill="#d8eefa" fill-opacity="0.57"/>
<circle cx="149.0" cy="258.3" r="0.41" fill="#d8eefa" fill-opacity="0.59"/>
<circle cx="134.7" cy="256.3" r="0.46" fill="#8fd0f0" fill-opacity="0.88"/>
<circle cx="149.3" cy="260.8" r="0.31" fill="#ffffff" fill-opacity="0.64"/>
<circle cx="146.0" cy="252.8" r="0.54" fill="#ffffff" fill-opacity="0.52"/>
<circle cx="148.5" cy="260.0" r="0.59" fill="#d8eefa" fill-opacity="0.78"/>
<circle cx="136.5" cy="265.1" r="0.31" fill="#8fd0f0" fill-opacity="0.51"/>
<circle cx="151.1" cy="262.9" r="0.55" fill="#d8eefa" fill-opacity="0.95"/>
<circle cx="146.7" cy="260.1" r="0.49" fill="#8fd0f0" fill-opacity="0.81"/>
<circle cx="141.4" cy="253.8" r="0.35" fill="#d8eefa" fill-opacity="0.74"/>
<circle cx="142.1" cy="256.2" r="0.40" fill="#ffffff" fill-opacity="0.77"/>
<circle cx="143.6" cy="256.1" r="0.33" fill="#d8eefa" fill-opacity="0.73"/>
<circle cx="144.2" cy="254.1" r="0.38" fill="#d8eefa" fill-opacity="0.77"/>
<circle cx="131.9" cy="261.4" r="0.50" fill="#8fd0f0" fill-opacity="0.92"/>
<circle cx="139.5" cy="260.7" r="0.55" fill="#d8eefa" fill-opacity="0.63"/>
<circle cx="134.9" cy="263.2" r="0.59" fill="#d8eefa" fill-opacity="0.58"/>
<circle cx="147.0" cy="262.2" r="0.46" fill="#ffffff" fill-opacity="0.83"/>
<circle cx="133.0" cy="264.4" r="0.37" fill="#8fd0f0" fill-opacity="0.61"/>
<circle cx="132.0" cy="263.7" r="0.40" fill="#d8eefa" fill-opacity="0.70"/>
<circle cx="144.0" cy="265.3" r="0.42" fill="#8fd0f0" fill-opacity="0.85"/>
<circle cx="137.1" cy="258.0" r="0.31" fill="#8fd0f0" fill-opacity="0.74"/>
<circle cx="133.3" cy="255.4" r="0.40" fill="#8fd0f0" fill-opacity="0.52"/>
<circle cx="144.1" cy="260.5" r="0.40" fill="#8fd0f0" fill-opacity="0.88"/>
<circle cx="146.7" cy="263.8" r="0.52" fill="#ffffff" fill-opacity="0.61"/>
<circle cx="147.3" cy="254.8" r="0.38" fill="#ffffff" fill-opacity="0.94"/>
<circle cx="133.2" cy="257.1" r="0.38" fill="#ffffff" fill-opacity="0.52"/>
<circle cx="138.2" cy="255.7" r="0.42" fill="#ffffff" fill-opacity="0.69"/>
<circle cx="131.1" cy="255.7" r="0.55" fill="#8fd0f0" fill-opacity="0.75"/>
<circle cx="151.7" cy="257.5" r="0.25" fill="#d8eefa" fill-opacity="0.73"/>
<circle cx="139.9" cy="255.6" r="0.39" fill="#d8eefa" fill-opacity="0.91"/>
<circle cx="136.8" cy="254.1" r="0.49" fill="#ffffff" fill-opacity="0.76"/>
<circle cx="146.0" cy="259.4" r="0.30" fill="#ffffff" fill-opacity="0.50"/>
<circle cx="134.5" cy="259.1" r="0.27" fill="#ffffff" fill-opacity="0.56"/>
<circle cx="143.6" cy="261.9" r="0.28" fill="#d8eefa" fill-opacity="0.70"/>
<circle cx="151.9" cy="266.5" r="0.32" fill="#ffffff" fill-opacity="0.74"/>
<circle cx="130.6" cy="260.1" r="0.57" fill="#8fd0f0" fill-opacity="0.70"/>
<circle cx="131.3" cy="263.4" r="0.38" fill="#8fd0f0" fill-opacity="0.88"/>
<circle cx="138.5" cy="257.8" r="0.57" fill="#d8eefa" fill-opacity="0.65"/>
<circle cx="140.0" cy="259.2" r="0.45" fill="#8fd0f0" fill-opacity="0.90"/>
<circle cx="151.4" cy="253.5" r="0.38" fill="#d8eefa" fill-opacity="0.56"/>
<circle cx="142.0" cy="264.5" r="0.36" fill="#8fd0f0" fill-opacity="0.59"/>
<circle cx="133.0" cy="256.0" r="0.54" fill="#8fd0f0" fill-opacity="0.90"/>
<circle cx="148.3" cy="253.7" r="0.40" fill="#d8eefa" fill-opacity="0.67"/>
<circle cx="151.7" cy="256.8" r="0.42" fill="#ffffff" fill-opacity="0.71"/>
<circle cx="146.0" cy="252.5" r="0.30" fill="#ffffff" fill-opacity="0.73"/>
<circle cx="146.1" cy="264.6" r="0.40" fill="#8fd0f0" fill-opacity="0.93"/>
<circle cx="143.0" cy="257.3" r="0.35" fill="#d8eefa" fill-opacity="0.54"/>
<circle cx="130.5" cy="257.4" r="0.59" fill="#8fd0f0" fill-opacity="0.89"/>
<circle cx="141.4" cy="264.5" r="0.27" fill="#8fd0f0" fill-opacity="0.95"/>
<circle cx="147.1" cy="264.0" r="0.27" fill="#ffffff" fill-opacity="0.65"/>
<circle cx="150.6" cy="260.0" r="0.57" fill="#8fd0f0" fill-opacity="0.90"/>
<circle cx="138.9" cy="261.9" r="0.54" fill="#d8eefa" fill-opacity="0.79"/>
<circle cx="146.4" cy="259.9" r="0.56" fill="#ffffff" fill-opacity="0.90"/>
<circle cx="137.4" cy="255.4" r="0.32" fill="#d8eefa" fill-opacity="0.93"/>
<circle cx="135.6" cy="258.3" r="0.27" fill="#8fd0f0" fill-opacity="0.51"/>
<circle cx="141.4" cy="255.6" r="0.58" fill="#8fd0f0" fill-opacity="0.61"/>
<circle cx="129.3" cy="256.3" r="0.54" fill="#ffffff" fill-opacity="0.60"/>
<circle cx="138.9" cy="261.6" r="0.41" fill="#8fd0f0" fill-opacity="0.68"/>
<circle cx="141.6" cy="253.1" r="0.37" fill="#d8eefa" fill-opacity="0.80"/>
<circle cx="47.2" cy="229.4" r="0.32" fill="#7fd08a" fill-opacity="0.80"/>
<circle cx="50.8" cy="231.1" r="0.56" fill="#7fd08a" fill-opacity="0.84"/>
<circle cx="59.2" cy="233.2" r="0.48" fill="#ffffff" fill-opacity="0.71"/>
<circle cx="54.0" cy="234.9" r="0.60" fill="#ffffff" fill-opacity="0.54"/>
<circle cx="45.8" cy="229.5" r="0.43" fill="#ffffff" fill-opacity="0.55"/>
<circle cx="60.0" cy="232.3" r="0.59" fill="#7fd08a" fill-opacity="0.89"/>
<circle cx="48.9" cy="246.1" r="0.45" fill="#ffffff" fill-opacity="0.91"/>
<circle cx="53.3" cy="231.8" r="0.28" fill="#ffffff" fill-opacity="0.90"/>
<circle cx="52.6" cy="229.0" r="0.51" fill="#ffffff" fill-opacity="0.80"/>
<circle cx="54.3" cy="235.7" r="0.34" fill="#1d7f33" fill-opacity="0.65"/>
<circle cx="53.4" cy="239.3" r="0.36" fill="#1d7f33" fill-opacity="0.88"/>
<circle cx="55.4" cy="239.9" r="0.60" fill="#ffffff" fill-opacity="0.58"/>
<circle cx="45.5" cy="235.8" r="0.33" fill="#ffffff" fill-opacity="0.93"/>
<circle cx="48.2" cy="243.2" r="0.49" fill="#ffffff" fill-opacity="0.80"/>
<circle cx="52.5" cy="237.0" r="0.34" fill="#1d7f33" fill-opacity="0.80"/>
<circle cx="51.2" cy="232.6" r="0.42" fill="#ffffff" fill-opacity="0.86"/>
<circle cx="56.2" cy="234.9" r="0.39" fill="#1d7f33" fill-opacity="0.75"/>
<circle cx="49.9" cy="249.9" r="0.44" fill="#7fd08a" fill-opacity="0.69"/>
<circle cx="49.1" cy="243.9" r="0.39" fill="#ffffff" fill-opacity="0.84"/>
<circle cx="43.3" cy="233.4" r="0.26" fill="#ffffff" fill-opacity="0.66"/>
<circle cx="47.3" cy="236.7" r="0.35" fill="#7fd08a" fill-opacity="0.76"/>
<circle cx="45.9" cy="240.8" r="0.32" fill="#1d7f33" fill-opacity="0.80"/>
<circle cx="51.2" cy="256.2" r="0.38" fill="#1d7f33" fill-opacity="0.82"/>
<circle cx="48.5" cy="232.2" r="0.58" fill="#ffffff" fill-opacity="0.95"/>
<circle cx="51.9" cy="230.5" r="0.31" fill="#1d7f33" fill-opacity="0.60"/>
<circle cx="50.5" cy="256.8" r="0.26" fill="#ffffff" fill-opacity="0.63"/>
<circle cx="49.4" cy="226.4" r="0.49" fill="#7fd08a" fill-opacity="0.92"/>
<circle cx="42.9" cy="231.5" r="0.42" fill="#ffffff" fill-opacity="0.93"/>
<circle cx="59.6" cy="237.7" r="0.53" fill="#7fd08a" fill-opacity="0.57"/>
<circle cx="48.5" cy="229.2" r="0.60" fill="#1d7f33" fill-opacity="0.71"/>
<circle cx="46.6" cy="228.0" r="0.37" fill="#7fd08a" fill-opacity="0.81"/>
<circle cx="43.1" cy="231.5" r="0.41" fill="#1d7f33" fill-opacity="0.85"/>
<circle cx="57.2" cy="230.9" r="0.51" fill="#7fd08a" fill-opacity="0.60"/>
<circle cx="59.4" cy="239.2" r="0.37" fill="#1d7f33" fill-opacity="0.75"/>
<circle cx="47.4" cy="239.2" r="0.56" fill="#7fd08a" fill-opacity="0.57"/>
<circle cx="47.4" cy="232.8" r="0.49" fill="#ffffff" fill-opacity="0.58"/>
<circle cx="45.1" cy="227.8" r="0.47" fill="#1d7f33" fill-opacity="0.65"/>
<circle cx="53.1" cy="229.1" r="0.26" fill="#1d7f33" fill-opacity="0.51"/>
<circle cx="49.5" cy="247.1" r="0.40" fill="#1d7f33" fill-opacity="0.56"/>
<circle cx="57.0" cy="227.5" r="0.26" fill="#ffffff" fill-opacity="0.77"/>
<circle cx="62.2" cy="230.2" r="0.33" fill="#1d7f33" fill-opacity="0.64"/>
<circle cx="43.2" cy="231.5" r="0.47" fill="#ffffff" fill-opacity="0.83"/>
<circle cx="56.3" cy="244.3" r="0.57" fill="#1d7f33" fill-opacity="0.80"/>
<circle cx="61.7" cy="229.8" r="0.45" fill="#7fd08a" fill-opacity="0.62"/>
<circle cx="61.8" cy="232.5" r="0.37" fill="#1d7f33" fill-opacity="0.51"/>
<circle cx="57.1" cy="236.7" r="0.30" fill="#1d7f33" fill-opacity="0.89"/>
<circle cx="52.6" cy="242.9" r="0.32" fill="#7fd08a" fill-opacity="0.87"/>
<circle cx="55.3" cy="241.7" r="0.28" fill="#1d7f33" fill-opacity="0.77"/>
<circle cx="45.0" cy="237.7" r="0.60" fill="#ffffff" fill-opacity="0.75"/>
<circle cx="60.6" cy="228.8" r="0.30" fill="#ffffff" fill-opacity="0.74"/>
<circle cx="54.2" cy="238.3" r="0.37" fill="#ffffff" fill-opacity="0.82"/>
<circle cx="59.7" cy="236.0" r="0.27" fill="#1d7f33" fill-opacity="0.57"/>
<circle cx="47.2" cy="241.6" r="0.31" fill="#1d7f33" fill-opacity="0.53"/>
<circle cx="51.7" cy="253.5" r="0.42" fill="#7fd08a" fill-opacity="0.59"/>
<circle cx="59.5" cy="228.3" r="0.42" fill="#7fd08a" fill-opacity="0.74"/>
<circle cx="61.8" cy="232.4" r="0.51" fill="#ffffff" fill-opacity="0.90"/>
<circle cx="51.4" cy="251.6" r="0.35" fill="#7fd08a" fill-opacity="0.52"/>
<circle cx="45.9" cy="230.9" r="0.37" fill="#1d7f33" fill-opacity="0.88"/>
<circle cx="53.1" cy="236.9" r="0.55" fill="#ffffff" fill-opacity="0.59"/>
<circle cx="48.9" cy="243.5" r="0.49" fill="#7fd08a" fill-opacity="0.86"/>
<circle cx="52.9" cy="248.9" r="0.26" fill="#ffffff" fill-opacity="0.88"/>
<circle cx="52.8" cy="228.5" r="0.58" fill="#ffffff" fill-opacity="0.59"/>
<circle cx="50.0" cy="250.6" r="0.57" fill="#ffffff" fill-opacity="0.95"/>
<circle cx="51.9" cy="230.6" r="0.25" fill="#ffffff" fill-opacity="0.93"/>
<circle cx="59.3" cy="237.7" r="0.43" fill="#1d7f33" fill-opacity="0.69"/>
<circle cx="56.9" cy="230.4" r="0.28" fill="#1d7f33" fill-opacity="0.65"/>
<circle cx="43.7" cy="230.7" r="0.31" fill="#ffffff" fill-opacity="0.73"/>
<circle cx="60.2" cy="231.8" r="0.44" fill="#1d7f33" fill-opacity="0.53"/>
<circle cx="62.3" cy="238.0" r="0.30" fill="#ffffff" fill-opacity="0.90"/>
<circle cx="54.9" cy="237.3" r="0.59" fill="#1d7f33" fill-opacity="0.65"/>
<circle cx="55.9" cy="229.1" r="0.37" fill="#7fd08a" fill-opacity="0.56"/>
<circle cx="51.0" cy="256.0" r="0.45" fill="#1d7f33" fill-opacity="0.79"/>
<circle cx="49.3" cy="235.7" r="0.27" fill="#ffffff" fill-opacity="0.57"/>
<circle cx="63.5" cy="231.2" r="0.52" fill="#1d7f33" fill-opacity="0.79"/>
<circle cx="55.1" cy="241.9" r="0.52" fill="#1d7f33" fill-opacity="0.66"/>
<circle cx="51.1" cy="245.2" r="0.52" fill="#1d7f33" fill-opacity="0.66"/>
<circle cx="48.9" cy="233.5" r="0.41" fill="#1d7f33" fill-opacity="0.70"/>
<circle cx="49.3" cy="246.1" r="0.59" fill="#1d7f33" fill-opacity="0.76"/>
<circle cx="50.9" cy="238.9" r="0.26" fill="#1d7f33" fill-opacity="0.76"/>
<circle cx="60.4" cy="235.2" r="0.32" fill="#1d7f33" fill-opacity="0.81"/>
<circle cx="51.2" cy="226.5" r="0.50" fill="#1d7f33" fill-opacity="0.70"/>
<circle cx="56.0" cy="231.1" r="0.37" fill="#7fd08a" fill-opacity="0.57"/>
<circle cx="55.5" cy="236.1" r="0.59" fill="#7fd08a" fill-opacity="0.82"/>
<circle cx="43.9" cy="234.3" r="0.44" fill="#1d7f33" fill-opacity="0.63"/>
<circle cx="45.2" cy="233.7" r="0.38" fill="#1d7f33" fill-opacity="0.57"/>
<circle cx="57.3" cy="243.6" r="0.28" fill="#ffffff" fill-opacity="0.86"/>
<circle cx="63.6" cy="234.5" r="0.36" fill="#ffffff" fill-opacity="0.58"/>
<circle cx="53.8" cy="231.1" r="0.28" fill="#7fd08a" fill-opacity="0.51"/>
<circle cx="49.0" cy="230.0" r="0.25" fill="#ffffff" fill-opacity="0.89"/>
<circle cx="53.3" cy="231.0" r="0.49" fill="#ffffff" fill-opacity="0.60"/>
<circle cx="43.4" cy="231.5" r="0.34" fill="#1d7f33" fill-opacity="0.68"/>
<circle cx="61.7" cy="234.3" r="0.33" fill="#7fd08a" fill-opacity="0.93"/>
<circle cx="50.7" cy="247.9" r="0.40" fill="#1d7f33" fill-opacity="0.54"/>
<circle cx="61.4" cy="236.6" r="0.53" fill="#ffffff" fill-opacity="0.58"/>
<circle cx="50.6" cy="239.6" r="0.39" fill="#7fd08a" fill-opacity="0.95"/>
<circle cx="45.3" cy="231.1" r="0.40" fill="#1d7f33" fill-opacity="0.52"/>
<circle cx="47.1" cy="243.8" r="0.33" fill="#7fd08a" fill-opacity="0.65"/>
<circle cx="52.7" cy="249.0" r="0.37" fill="#1d7f33" fill-opacity="0.56"/>
<circle cx="50.5" cy="253.1" r="0.37" fill="#ffffff" fill-opacity="0.84"/>
<circle cx="62.5" cy="235.8" r="0.45" fill="#7fd08a" fill-opacity="0.66"/>
<circle cx="55.5" cy="227.3" r="0.45" fill="#1d7f33" fill-opacity="0.83"/>
<circle cx="56.2" cy="234.3" r="0.39" fill="#ffffff" fill-opacity="0.70"/>
<circle cx="56.0" cy="236.9" r="0.43" fill="#ffffff" fill-opacity="0.54"/>
<circle cx="55.6" cy="242.9" r="0.29" fill="#ffffff" fill-opacity="0.71"/>
<circle cx="64.2" cy="237.4" r="0.51" fill="#7fd08a" fill-opacity="0.64"/>
<circle cx="53.2" cy="243.5" r="0.48" fill="#7fd08a" fill-opacity="0.90"/>
<circle cx="55.4" cy="234.1" r="0.50" fill="#7fd08a" fill-opacity="0.90"/>
<circle cx="46.4" cy="228.4" r="0.59" fill="#ffffff" fill-opacity="0.82"/>
<circle cx="57.7" cy="229.8" r="0.40" fill="#1d7f33" fill-opacity="0.67"/>
<circle cx="52.7" cy="230.7" r="0.33" fill="#1d7f33" fill-opacity="0.57"/>
<circle cx="50.0" cy="254.5" r="0.40" fill="#ffffff" fill-opacity="0.65"/>
<circle cx="48.6" cy="238.5" r="0.26" fill="#1d7f33" fill-opacity="0.87"/>
<circle cx="55.6" cy="227.2" r="0.49" fill="#1d7f33" fill-opacity="0.58"/>
<circle cx="48.6" cy="248.1" r="0.42" fill="#1d7f33" fill-opacity="0.66"/>
<circle cx="51.8" cy="231.7" r="0.40" fill="#7fd08a" fill-opacity="0.74"/>
<circle cx="63.0" cy="234.9" r="0.48" fill="#7fd08a" fill-opacity="0.89"/>
<circle cx="59.0" cy="239.1" r="0.25" fill="#1d7f33" fill-opacity="0.69"/>
<circle cx="49.2" cy="245.9" r="0.38" fill="#1d7f33" fill-opacity="0.84"/>
<circle cx="47.7" cy="242.4" r="0.32" fill="#7fd08a" fill-opacity="0.66"/>
<circle cx="45.6" cy="229.1" r="0.34" fill="#1d7f33" fill-opacity="0.93"/>
<circle cx="119.2" cy="250.6" r="0.22" fill="#ffffff" fill-opacity="0.69"/>
<circle cx="125.5" cy="256.0" r="0.28" fill="#f7b0aa" fill-opacity="0.46"/>
<circle cx="123.5" cy="255.4" r="0.21" fill="#f7b0aa" fill-opacity="0.41"/>
<circle cx="113.6" cy="237.3" r="0.39" fill="#f7b0aa" fill-opacity="0.73"/>
<circle cx="116.3" cy="246.1" r="0.31" fill="#f7b0aa" fill-opacity="0.46"/>
<circle cx="104.1" cy="236.4" r="0.44" fill="#ffffff" fill-opacity="0.72"/>
<circle cx="132.4" cy="254.1" r="0.28" fill="#ffffff" fill-opacity="0.45"/>
<circle cx="116.2" cy="248.8" r="0.38" fill="#ffffff" fill-opacity="0.65"/>
<circle cx="121.7" cy="256.6" r="0.40" fill="#ffffff" fill-opacity="0.47"/>
<circle cx="109.7" cy="235.1" r="0.29" fill="#ffffff" fill-opacity="0.74"/>
<circle cx="101.8" cy="232.4" r="0.27" fill="#f7b0aa" fill-opacity="0.77"/>
<circle cx="107.5" cy="246.8" r="0.36" fill="#ffffff" fill-opacity="0.79"/>
<circle cx="108.8" cy="239.0" r="0.31" fill="#f7b0aa" fill-opacity="0.68"/>
<circle cx="108.0" cy="243.6" r="0.28" fill="#f7b0aa" fill-opacity="0.52"/>
<circle cx="123.9" cy="253.3" r="0.30" fill="#ffffff" fill-opacity="0.45"/>
<circle cx="109.9" cy="246.2" r="0.41" fill="#ffffff" fill-opacity="0.65"/>
<circle cx="96.8" cy="231.9" r="0.32" fill="#f7b0aa" fill-opacity="0.47"/>
<circle cx="130.4" cy="255.9" r="0.32" fill="#f7b0aa" fill-opacity="0.43"/>
<circle cx="109.1" cy="240.2" r="0.40" fill="#f7b0aa" fill-opacity="0.68"/>
<circle cx="115.7" cy="251.5" r="0.37" fill="#f7b0aa" fill-opacity="0.55"/>
<circle cx="125.6" cy="253.7" r="0.38" fill="#f7b0aa" fill-opacity="0.73"/>
<circle cx="99.8" cy="239.8" r="0.27" fill="#f7b0aa" fill-opacity="0.78"/>
<circle cx="118.8" cy="255.3" r="0.29" fill="#ffffff" fill-opacity="0.63"/>
<circle cx="116.4" cy="239.0" r="0.20" fill="#f7b0aa" fill-opacity="0.53"/>
<circle cx="108.1" cy="235.4" r="0.27" fill="#f7b0aa" fill-opacity="0.73"/>
<circle cx="126.4" cy="279.4" r="0.28" fill="#ffffff" fill-opacity="0.55"/>
<circle cx="120.3" cy="263.4" r="0.26" fill="#ffffff" fill-opacity="0.73"/>
<circle cx="120.0" cy="277.6" r="0.42" fill="#ffffff" fill-opacity="0.48"/>
<circle cx="118.1" cy="277.9" r="0.24" fill="#7fcfa4" fill-opacity="0.62"/>
<circle cx="116.1" cy="278.8" r="0.37" fill="#7fcfa4" fill-opacity="0.55"/>
<circle cx="125.2" cy="267.8" r="0.33" fill="#7fcfa4" fill-opacity="0.45"/>
<circle cx="121.4" cy="275.4" r="0.45" fill="#ffffff" fill-opacity="0.47"/>
<circle cx="114.5" cy="271.7" r="0.35" fill="#7fcfa4" fill-opacity="0.44"/>
<circle cx="126.6" cy="263.6" r="0.31" fill="#ffffff" fill-opacity="0.76"/>
<circle cx="126.6" cy="275.5" r="0.37" fill="#7fcfa4" fill-opacity="0.58"/>
<circle cx="127.4" cy="265.5" r="0.41" fill="#ffffff" fill-opacity="0.61"/>
<circle cx="126.6" cy="268.7" r="0.32" fill="#7fcfa4" fill-opacity="0.78"/>
<circle cx="112.6" cy="261.6" r="0.25" fill="#7fcfa4" fill-opacity="0.58"/>
<circle cx="123.3" cy="264.3" r="0.38" fill="#ffffff" fill-opacity="0.41"/>
<circle cx="129.5" cy="272.7" r="0.33" fill="#7fcfa4" fill-opacity="0.64"/>
<circle cx="114.7" cy="274.6" r="0.29" fill="#7fcfa4" fill-opacity="0.60"/>
<circle cx="117.9" cy="282.5" r="0.28" fill="#7fcfa4" fill-opacity="0.79"/>
<circle cx="128.7" cy="270.6" r="0.43" fill="#7fcfa4" fill-opacity="0.64"/>
<circle cx="123.5" cy="275.8" r="0.27" fill="#7fcfa4" fill-opacity="0.66"/>
<circle cx="126.7" cy="283.8" r="0.32" fill="#7fcfa4" fill-opacity="0.60"/>
<circle cx="111.3" cy="266.3" r="0.36" fill="#7fcfa4" fill-opacity="0.53"/>
<circle cx="122.6" cy="264.7" r="0.36" fill="#7fcfa4" fill-opacity="0.68"/>
<circle cx="122.4" cy="258.6" r="0.27" fill="#7fcfa4" fill-opacity="0.79"/>
<circle cx="128.1" cy="270.9" r="0.38" fill="#ffffff" fill-opacity="0.77"/>
<circle cx="113.0" cy="274.8" r="0.27" fill="#ffffff" fill-opacity="0.65"/>
<circle cx="157.0" cy="254.4" r="0.24" fill="#d2cf6a" fill-opacity="0.57"/>
<circle cx="164.1" cy="251.6" r="0.44" fill="#ffffff" fill-opacity="0.71"/>
<circle cx="161.6" cy="262.1" r="0.34" fill="#d2cf6a" fill-opacity="0.54"/>
<circle cx="151.3" cy="267.1" r="0.29" fill="#d2cf6a" fill-opacity="0.63"/>
<circle cx="150.8" cy="264.5" r="0.31" fill="#ffffff" fill-opacity="0.78"/>
<circle cx="151.5" cy="252.2" r="0.32" fill="#ffffff" fill-opacity="0.42"/>
<circle cx="159.2" cy="278.5" r="0.38" fill="#d2cf6a" fill-opacity="0.51"/>
<circle cx="152.7" cy="257.0" r="0.30" fill="#d2cf6a" fill-opacity="0.41"/>
<circle cx="163.6" cy="282.8" r="0.32" fill="#ffffff" fill-opacity="0.64"/>
<circle cx="162.5" cy="263.2" r="0.32" fill="#ffffff" fill-opacity="0.71"/>
<circle cx="168.5" cy="259.3" r="0.23" fill="#ffffff" fill-opacity="0.56"/>
<circle cx="153.1" cy="253.2" r="0.43" fill="#d2cf6a" fill-opacity="0.43"/>
<circle cx="156.7" cy="278.1" r="0.31" fill="#d2cf6a" fill-opacity="0.75"/>
<circle cx="153.9" cy="269.8" r="0.40" fill="#d2cf6a" fill-opacity="0.68"/>
<circle cx="163.8" cy="262.3" r="0.45" fill="#d2cf6a" fill-opacity="0.78"/>
<circle cx="161.8" cy="251.2" r="0.24" fill="#ffffff" fill-opacity="0.46"/>
<circle cx="151.3" cy="256.3" r="0.36" fill="#ffffff" fill-opacity="0.59"/>
<circle cx="164.7" cy="264.3" r="0.35" fill="#d2cf6a" fill-opacity="0.51"/>
<circle cx="156.8" cy="269.9" r="0.24" fill="#d2cf6a" fill-opacity="0.64"/>
<circle cx="159.8" cy="259.7" r="0.28" fill="#ffffff" fill-opacity="0.68"/>
<circle cx="167.2" cy="274.0" r="0.33" fill="#ffffff" fill-opacity="0.58"/>
<circle cx="155.3" cy="269.5" r="0.42" fill="#d2cf6a" fill-opacity="0.56"/>
<circle cx="161.3" cy="280.3" r="0.30" fill="#d2cf6a" fill-opacity="0.65"/>
<circle cx="165.8" cy="259.3" r="0.22" fill="#ffffff" fill-opacity="0.79"/>
<circle cx="159.0" cy="276.0" r="0.31" fill="#ffffff" fill-opacity="0.54"/>
<circle cx="67.6" cy="214.0" r="0.31" fill="#f6b583" fill-opacity="0.73"/>
<circle cx="75.8" cy="216.4" r="0.35" fill="#ffffff" fill-opacity="0.74"/>
<circle cx="73.0" cy="216.8" r="0.32" fill="#ffffff" fill-opacity="0.51"/>
<circle cx="67.7" cy="213.9" r="0.42" fill="#f6b583" fill-opacity="0.56"/>
<circle cx="66.6" cy="214.2" r="0.48" fill="#f6b583" fill-opacity="0.78"/>
<circle cx="71.9" cy="212.5" r="0.50" fill="#ffffff" fill-opacity="0.58"/>
<circle cx="71.9" cy="218.6" r="0.48" fill="#f6b583" fill-opacity="0.65"/>
<circle cx="71.3" cy="218.9" r="0.39" fill="#f6b583" fill-opacity="0.64"/>
<circle cx="73.7" cy="218.5" r="0.49" fill="#ffffff" fill-opacity="0.76"/>
<circle cx="79.6" cy="217.7" r="0.37" fill="#ffffff" fill-opacity="0.85"/>
<circle cx="80.3" cy="216.7" r="0.26" fill="#ffffff" fill-opacity="0.57"/>
<circle cx="74.9" cy="219.3" r="0.49" fill="#f6b583" fill-opacity="0.55"/>
<circle cx="79.3" cy="214.4" r="0.30" fill="#ffffff" fill-opacity="0.70"/>
<circle cx="76.7" cy="221.8" r="0.37" fill="#ffffff" fill-opacity="0.65"/>
<circle cx="78.8" cy="216.9" r="0.28" fill="#f6b583" fill-opacity="0.76"/>
<circle cx="69.3" cy="212.9" r="0.43" fill="#ffffff" fill-opacity="0.79"/>
<circle cx="74.1" cy="216.9" r="0.37" fill="#f6b583" fill-opacity="0.83"/>
<circle cx="73.8" cy="219.0" r="0.36" fill="#ffffff" fill-opacity="0.58"/>
<circle cx="69.6" cy="214.0" r="0.36" fill="#ffffff" fill-opacity="0.58"/>
<circle cx="66.5" cy="215.1" r="0.25" fill="#ffffff" fill-opacity="0.76"/>
<circle cx="70.3" cy="216.0" r="0.46" fill="#ffffff" fill-opacity="0.89"/>
<circle cx="72.2" cy="213.1" r="0.44" fill="#ffffff" fill-opacity="0.70"/>
<circle cx="76.1" cy="222.1" r="0.33" fill="#f6b583" fill-opacity="0.80"/>
<circle cx="77.6" cy="215.1" r="0.41" fill="#ffffff" fill-opacity="0.62"/>
<circle cx="68.9" cy="216.1" r="0.32" fill="#ffffff" fill-opacity="0.80"/>
<circle cx="99.0" cy="252.4" r="0.36" fill="#f6c9a6" fill-opacity="0.58"/>
<circle cx="94.3" cy="253.7" r="0.44" fill="#ffffff" fill-opacity="0.57"/>
<circle cx="100.0" cy="254.9" r="0.40" fill="#ffffff" fill-opacity="0.52"/>
<circle cx="94.6" cy="252.4" r="0.39" fill="#ffffff" fill-opacity="0.80"/>
<circle cx="101.5" cy="253.2" r="0.43" fill="#ffffff" fill-opacity="0.55"/>
<circle cx="96.7" cy="249.7" r="0.43" fill="#ffffff" fill-opacity="0.56"/>
<circle cx="99.5" cy="258.1" r="0.38" fill="#f6c9a6" fill-opacity="0.84"/>
<circle cx="100.3" cy="256.5" r="0.38" fill="#ffffff" fill-opacity="0.85"/>
<circle cx="98.2" cy="256.2" r="0.28" fill="#f6c9a6" fill-opacity="0.68"/>
<circle cx="95.3" cy="251.5" r="0.35" fill="#ffffff" fill-opacity="0.65"/>
<circle cx="101.2" cy="256.0" r="0.40" fill="#ffffff" fill-opacity="0.67"/>
<circle cx="98.6" cy="249.4" r="0.30" fill="#f6c9a6" fill-opacity="0.61"/>
<circle cx="97.0" cy="250.7" r="0.45" fill="#f6c9a6" fill-opacity="0.75"/>
<circle cx="97.1" cy="256.9" r="0.28" fill="#ffffff" fill-opacity="0.51"/>
<circle cx="98.1" cy="253.6" r="0.45" fill="#f6c9a6" fill-opacity="0.70"/>
<circle cx="94.4" cy="252.9" r="0.43" fill="#ffffff" fill-opacity="0.73"/>
<circle cx="100.4" cy="249.8" r="0.27" fill="#ffffff" fill-opacity="0.54"/>
<circle cx="100.2" cy="257.8" r="0.44" fill="#f6c9a6" fill-opacity="0.88"/>
<circle cx="95.1" cy="254.1" r="0.39" fill="#ffffff" fill-opacity="0.77"/>
<circle cx="99.4" cy="258.1" r="0.29" fill="#f6c9a6" fill-opacity="0.51"/>
<circle cx="129.5" cy="194.1" r="0.20" fill="#ffffff" fill-opacity="0.53"/>
<circle cx="129.6" cy="190.0" r="0.28" fill="#ffffff" fill-opacity="0.50"/>
<circle cx="131.4" cy="189.1" r="0.30" fill="#ffffff" fill-opacity="0.56"/>
<circle cx="128.3" cy="192.2" r="0.42" fill="#ffffff" fill-opacity="0.69"/>
<circle cx="136.1" cy="197.3" r="0.45" fill="#e08aa0" fill-opacity="0.61"/>
<circle cx="125.2" cy="191.4" r="0.35" fill="#ffffff" fill-opacity="0.47"/>
<circle cx="131.8" cy="194.6" r="0.37" fill="#e08aa0" fill-opacity="0.45"/>
<circle cx="130.4" cy="187.0" r="0.34" fill="#e08aa0" fill-opacity="0.62"/>
<circle cx="137.9" cy="191.8" r="0.32" fill="#ffffff" fill-opacity="0.62"/>
<circle cx="126.4" cy="187.4" r="0.22" fill="#e08aa0" fill-opacity="0.73"/>
<circle cx="131.5" cy="196.0" r="0.42" fill="#e08aa0" fill-opacity="0.61"/>
<circle cx="135.9" cy="189.0" r="0.21" fill="#ffffff" fill-opacity="0.46"/>
<circle cx="129.4" cy="193.1" r="0.35" fill="#e08aa0" fill-opacity="0.46"/>
<circle cx="130.2" cy="188.3" r="0.42" fill="#e08aa0" fill-opacity="0.54"/>
<circle cx="134.1" cy="188.0" r="0.26" fill="#e08aa0" fill-opacity="0.57"/>
<circle cx="138.0" cy="194.2" r="0.36" fill="#ffffff" fill-opacity="0.70"/>
<circle cx="125.9" cy="190.7" r="0.28" fill="#ffffff" fill-opacity="0.67"/>
<circle cx="126.9" cy="189.2" r="0.36" fill="#e08aa0" fill-opacity="0.41"/>
<circle cx="134.2" cy="195.0" r="0.23" fill="#e08aa0" fill-opacity="0.57"/>
<circle cx="124.4" cy="194.2" r="0.41" fill="#e08aa0" fill-opacity="0.76"/>
<circle cx="84.2" cy="192.0" r="0.44" fill="#ffffff" fill-opacity="0.49"/>
<circle cx="91.8" cy="190.7" r="0.43" fill="#ffffff" fill-opacity="0.59"/>
<circle cx="85.1" cy="192.4" r="0.45" fill="#0d7d86" fill-opacity="0.57"/>
<circle cx="79.9" cy="191.4" r="0.34" fill="#ffffff" fill-opacity="0.71"/>
<circle cx="87.1" cy="195.1" r="0.27" fill="#ffffff" fill-opacity="0.52"/>
<circle cx="78.4" cy="195.3" r="0.20" fill="#0d7d86" fill-opacity="0.70"/>
<circle cx="88.1" cy="185.1" r="0.23" fill="#ffffff" fill-opacity="0.68"/>
<circle cx="87.4" cy="192.7" r="0.20" fill="#0d7d86" fill-opacity="0.72"/>
<circle cx="85.4" cy="185.3" r="0.24" fill="#ffffff" fill-opacity="0.58"/>
<circle cx="80.0" cy="187.8" r="0.25" fill="#ffffff" fill-opacity="0.57"/>
<circle cx="84.0" cy="195.8" r="0.30" fill="#0d7d86" fill-opacity="0.57"/>
<circle cx="85.3" cy="193.1" r="0.25" fill="#0d7d86" fill-opacity="0.75"/>
<circle cx="85.0" cy="193.4" r="0.44" fill="#0d7d86" fill-opacity="0.80"/>
<circle cx="84.3" cy="188.2" r="0.20" fill="#ffffff" fill-opacity="0.56"/>
<circle cx="90.4" cy="194.0" r="0.41" fill="#ffffff" fill-opacity="0.42"/>
<circle cx="82.0" cy="187.6" r="0.24" fill="#0d7d86" fill-opacity="0.50"/>
<circle cx="89.2" cy="189.9" r="0.39" fill="#0d7d86" fill-opacity="0.73"/>
<circle cx="90.5" cy="189.7" r="0.30" fill="#ffffff" fill-opacity="0.44"/>
<circle cx="110.8" cy="216.9" r="0.38" fill="#ffffff" fill-opacity="0.79"/>
<circle cx="114.6" cy="208.7" r="0.33" fill="#ffffff" fill-opacity="0.77"/>
<circle cx="115.1" cy="216.0" r="0.37" fill="#ffffff" fill-opacity="0.72"/>
<circle cx="112.5" cy="216.9" r="0.27" fill="#ffffff" fill-opacity="0.60"/>
<circle cx="108.1" cy="212.8" r="0.31" fill="#ffffff" fill-opacity="0.72"/>
<circle cx="113.7" cy="209.0" r="0.36" fill="#b060c0" fill-opacity="0.80"/>
<circle cx="109.4" cy="213.1" r="0.30" fill="#ffffff" fill-opacity="0.86"/>
<circle cx="113.2" cy="214.0" r="0.40" fill="#b060c0" fill-opacity="0.89"/>
<circle cx="108.5" cy="212.2" r="0.36" fill="#b060c0" fill-opacity="0.73"/>
<circle cx="115.1" cy="217.1" r="0.20" fill="#ffffff" fill-opacity="0.86"/>
<circle cx="103.7" cy="210.1" r="0.40" fill="#ffffff" fill-opacity="0.86"/>
<circle cx="108.6" cy="214.5" r="0.33" fill="#b060c0" fill-opacity="0.82"/>
<circle cx="117.4" cy="214.3" r="0.38" fill="#ffffff" fill-opacity="0.62"/>
<circle cx="110.0" cy="214.7" r="0.43" fill="#b060c0" fill-opacity="0.75"/>
<circle cx="105.6" cy="210.9" r="0.23" fill="#b060c0" fill-opacity="0.73"/>
<circle cx="108.7" cy="209.4" r="0.22" fill="#b060c0" fill-opacity="0.63"/>
<circle cx="116.2" cy="220.9" r="0.37" fill="#ffffff" fill-opacity="0.77"/>
<circle cx="116.7" cy="211.8" r="0.38" fill="#b060c0" fill-opacity="0.78"/>
<circle cx="117.9" cy="216.6" r="0.39" fill="#b060c0" fill-opacity="0.65"/>
<circle cx="110.9" cy="216.4" r="0.21" fill="#b060c0" fill-opacity="0.75"/>
<circle cx="119.1" cy="209.0" r="0.32" fill="#ffffff" fill-opacity="0.77"/>
<circle cx="111.6" cy="217.5" r="0.29" fill="#ffffff" fill-opacity="0.85"/>
<circle cx="110.3" cy="260.8" r="0.42" fill="#36a96f"/>
<circle cx="112.1" cy="278.6" r="0.27" fill="#36a96f"/>
<circle cx="130.4" cy="284.7" r="0.31" fill="#36a96f"/>
<circle cx="120.8" cy="257.2" r="0.40" fill="#36a96f"/>
<circle cx="124.6" cy="256.0" r="0.46" fill="#36a96f"/>
<circle cx="110.1" cy="267.5" r="0.36" fill="#36a96f"/>
<circle cx="122.9" cy="256.7" r="0.40" fill="#36a96f"/>
<circle cx="129.6" cy="264.5" r="0.35" fill="#36a96f"/>
<circle cx="127.3" cy="254.7" r="0.37" fill="#36a96f"/>
<circle cx="111.6" cy="258.2" r="0.39" fill="#36a96f"/>
<circle cx="112.2" cy="257.6" r="0.29" fill="#36a96f"/>
<circle cx="111.3" cy="275.7" r="0.49" fill="#36a96f"/>
<circle cx="120.5" cy="283.2" r="0.31" fill="#36a96f"/>
<circle cx="119.7" cy="283.2" r="0.46" fill="#36a96f"/>
<circle cx="119.3" cy="283.9" r="0.39" fill="#36a96f"/>
<circle cx="110.2" cy="269.5" r="0.44" fill="#36a96f"/>
<circle cx="112.6" cy="257.0" r="0.33" fill="#36a96f"/>
<circle cx="111.0" cy="273.7" r="0.27" fill="#36a96f"/>
<circle cx="128.4" cy="284.3" r="0.27" fill="#36a96f"/>
<circle cx="128.7" cy="284.4" r="0.42" fill="#36a96f"/>
<circle cx="111.4" cy="276.0" r="0.47" fill="#36a96f"/>
<circle cx="114.6" cy="279.8" r="0.36" fill="#36a96f"/>
<circle cx="131.1" cy="284.5" r="0.46" fill="#36a96f"/>
<circle cx="111.8" cy="276.6" r="0.46" fill="#36a96f"/>
<circle cx="111.2" cy="261.0" r="0.34" fill="#36a96f"/>
<circle cx="117.2" cy="282.4" r="0.27" fill="#36a96f"/>
<circle cx="123.8" cy="256.3" r="0.32" fill="#36a96f"/>
<circle cx="118.9" cy="283.5" r="0.41" fill="#36a96f"/>
<circle cx="125.1" cy="284.3" r="0.39" fill="#36a96f"/>
<circle cx="126.3" cy="283.4" r="0.44" fill="#36a96f"/>
<circle cx="115.5" cy="281.3" r="0.36" fill="#36a96f"/>
<circle cx="121.3" cy="282.2" r="0.38" fill="#36a96f"/>
<circle cx="111.7" cy="261.6" r="0.38" fill="#36a96f"/>
<circle cx="113.5" cy="257.1" r="0.42" fill="#36a96f"/>
<circle cx="127.1" cy="256.1" r="0.30" fill="#36a96f"/>
<circle cx="122.9" cy="257.2" r="0.28" fill="#36a96f"/>
<circle cx="111.9" cy="260.7" r="0.40" fill="#36a96f"/>
<circle cx="126.8" cy="255.7" r="0.41" fill="#36a96f"/>
<circle cx="112.4" cy="257.9" r="0.44" fill="#36a96f"/>
<circle cx="111.5" cy="259.5" r="0.42" fill="#36a96f"/>
<circle cx="140.2" cy="252.2" r="0.50" fill="#2ea8e2"/>
<circle cx="151.7" cy="283.9" r="0.37" fill="#2ea8e2"/>
<circle cx="136.2" cy="284.0" r="0.34" fill="#2ea8e2"/>
<circle cx="143.0" cy="252.0" r="0.26" fill="#2ea8e2"/>
<circle cx="140.3" cy="250.8" r="0.34" fill="#2ea8e2"/>
<circle cx="143.4" cy="250.1" r="0.44" fill="#2ea8e2"/>
<circle cx="140.5" cy="253.3" r="0.29" fill="#2ea8e2"/>
<circle cx="131.0" cy="255.5" r="0.46" fill="#2ea8e2"/>
<circle cx="130.2" cy="269.5" r="0.37" fill="#2ea8e2"/>
<circle cx="130.8" cy="255.2" r="0.49" fill="#2ea8e2"/>
<circle cx="146.2" cy="250.4" r="0.29" fill="#2ea8e2"/>
<circle cx="145.9" cy="250.7" r="0.36" fill="#2ea8e2"/>
<circle cx="130.4" cy="254.5" r="0.50" fill="#2ea8e2"/>
<circle cx="151.2" cy="271.9" r="0.45" fill="#2ea8e2"/>
<circle cx="149.7" cy="284.5" r="0.36" fill="#2ea8e2"/>
<circle cx="133.0" cy="254.1" r="0.47" fill="#2ea8e2"/>
<circle cx="141.2" cy="251.3" r="0.30" fill="#2ea8e2"/>
<circle cx="150.8" cy="284.7" r="0.40" fill="#2ea8e2"/>
<circle cx="138.8" cy="252.7" r="0.37" fill="#2ea8e2"/>
<circle cx="136.1" cy="253.0" r="0.29" fill="#2ea8e2"/>
<circle cx="143.3" cy="251.6" r="0.42" fill="#2ea8e2"/>
<circle cx="140.6" cy="285.1" r="0.44" fill="#2ea8e2"/>
<circle cx="142.7" cy="251.2" r="0.36" fill="#2ea8e2"/>
<circle cx="146.9" cy="250.1" r="0.45" fill="#2ea8e2"/>
<circle cx="132.8" cy="283.8" r="0.33" fill="#2ea8e2"/>
<circle cx="146.9" cy="249.6" r="0.39" fill="#2ea8e2"/>
<circle cx="148.2" cy="249.8" r="0.28" fill="#2ea8e2"/>
<circle cx="136.0" cy="253.6" r="0.32" fill="#2ea8e2"/>
<circle cx="147.7" cy="250.6" r="0.32" fill="#2ea8e2"/>
<circle cx="146.7" cy="251.1" r="0.27" fill="#2ea8e2"/>
<circle cx="152.7" cy="249.2" r="0.34" fill="#2ea8e2"/>
<circle cx="140.3" cy="252.3" r="0.46" fill="#2ea8e2"/>
<circle cx="139.4" cy="252.9" r="0.45" fill="#2ea8e2"/>
<circle cx="135.1" cy="253.8" r="0.25" fill="#2ea8e2"/>
<circle cx="152.1" cy="270.7" r="0.46" fill="#2ea8e2"/>
<circle cx="148.8" cy="285.7" r="0.38" fill="#2ea8e2"/>
<circle cx="149.7" cy="249.8" r="0.36" fill="#2ea8e2"/>
<circle cx="132.6" cy="255.0" r="0.27" fill="#2ea8e2"/>
<circle cx="138.4" cy="252.1" r="0.38" fill="#2ea8e2"/>
<circle cx="130.2" cy="285.3" r="0.49" fill="#2ea8e2"/>
<circle cx="157.8" cy="248.8" r="0.39" fill="#a5a121"/>
<circle cx="156.1" cy="248.4" r="0.36" fill="#a5a121"/>
<circle cx="152.9" cy="249.0" r="0.40" fill="#a5a121"/>
<circle cx="151.8" cy="266.7" r="0.27" fill="#a5a121"/>
<circle cx="161.8" cy="284.5" r="0.49" fill="#a5a121"/>
<circle cx="149.5" cy="250.6" r="0.48" fill="#a5a121"/>
<circle cx="171.7" cy="260.1" r="0.39" fill="#a5a121"/>
<circle cx="150.6" cy="275.5" r="0.31" fill="#a5a121"/>
<circle cx="155.5" cy="284.8" r="0.44" fill="#a5a121"/>
<circle cx="171.1" cy="272.1" r="0.39" fill="#a5a121"/>
<circle cx="167.0" cy="250.7" r="0.49" fill="#a5a121"/>
<circle cx="169.9" cy="275.1" r="0.42" fill="#a5a121"/>
<circle cx="157.2" cy="284.0" r="0.44" fill="#a5a121"/>
<circle cx="170.0" cy="277.8" r="0.49" fill="#a5a121"/>
<circle cx="160.8" cy="249.7" r="0.27" fill="#a5a121"/>
<circle cx="150.8" cy="258.5" r="0.33" fill="#a5a121"/>
<circle cx="150.3" cy="263.6" r="0.47" fill="#a5a121"/>
<circle cx="150.7" cy="251.1" r="0.44" fill="#a5a121"/>
<circle cx="158.0" cy="283.9" r="0.43" fill="#a5a121"/>
<circle cx="150.8" cy="278.0" r="0.39" fill="#a5a121"/>
<circle cx="150.2" cy="266.8" r="0.31" fill="#a5a121"/>
<circle cx="161.0" cy="249.2" r="0.49" fill="#a5a121"/>
<circle cx="149.7" cy="278.3" r="0.25" fill="#a5a121"/>
<circle cx="153.2" cy="249.1" r="0.45" fill="#a5a121"/>
<circle cx="150.0" cy="273.0" r="0.38" fill="#a5a121"/>
<circle cx="163.0" cy="249.9" r="0.37" fill="#a5a121"/>
<circle cx="167.0" cy="253.1" r="0.31" fill="#a5a121"/>
<circle cx="168.0" cy="253.9" r="0.34" fill="#a5a121"/>
<circle cx="169.7" cy="259.5" r="0.27" fill="#a5a121"/>
<circle cx="160.2" cy="249.1" r="0.32" fill="#a5a121"/>
<circle cx="169.9" cy="271.5" r="0.33" fill="#a5a121"/>
<circle cx="149.8" cy="248.6" r="0.41" fill="#a5a121"/>
<circle cx="168.9" cy="280.3" r="0.48" fill="#a5a121"/>
<circle cx="160.6" cy="250.1" r="0.48" fill="#a5a121"/>
<circle cx="171.0" cy="264.4" r="0.28" fill="#a5a121"/>
<circle cx="167.2" cy="281.4" r="0.27" fill="#a5a121"/>
<circle cx="153.6" cy="285.3" r="0.37" fill="#a5a121"/>
<circle cx="165.3" cy="282.5" r="0.37" fill="#a5a121"/>
<circle cx="157.1" cy="285.0" r="0.35" fill="#a5a121"/>
<circle cx="164.2" cy="250.3" r="0.38" fill="#a5a121"/>
<circle cx="124.4" cy="256.3" r="0.48" fill="#ee7a72"/>
<circle cx="126.9" cy="245.0" r="0.45" fill="#ee7a72"/>
<circle cx="114.9" cy="234.7" r="0.39" fill="#ee7a72"/>
<circle cx="101.1" cy="245.5" r="0.27" fill="#ee7a72"/>
<circle cx="102.6" cy="245.8" r="0.39" fill="#ee7a72"/>
<circle cx="120.8" cy="257.3" r="0.32" fill="#ee7a72"/>
<circle cx="98.6" cy="230.5" r="0.28" fill="#ee7a72"/>
<circle cx="109.6" cy="254.4" r="0.45" fill="#ee7a72"/>
<circle cx="133.7" cy="257.0" r="0.40" fill="#ee7a72"/>
<circle cx="118.3" cy="237.2" r="0.37" fill="#ee7a72"/>
<circle cx="122.9" cy="257.0" r="0.34" fill="#ee7a72"/>
<circle cx="111.9" cy="254.2" r="0.42" fill="#ee7a72"/>
<circle cx="111.9" cy="256.4" r="0.34" fill="#ee7a72"/>
<circle cx="106.8" cy="248.1" r="0.48" fill="#ee7a72"/>
<circle cx="123.7" cy="240.8" r="0.41" fill="#ee7a72"/>
<circle cx="108.7" cy="252.5" r="0.39" fill="#ee7a72"/>
<circle cx="98.9" cy="230.7" r="0.27" fill="#ee7a72"/>
<circle cx="101.2" cy="230.1" r="0.47" fill="#ee7a72"/>
<circle cx="109.0" cy="251.0" r="0.36" fill="#ee7a72"/>
<circle cx="112.2" cy="233.6" r="0.46" fill="#ee7a72"/>
<circle cx="127.1" cy="245.8" r="0.38" fill="#ee7a72"/>
<circle cx="103.6" cy="230.8" r="0.49" fill="#ee7a72"/>
<circle cx="111.0" cy="255.5" r="0.33" fill="#ee7a72"/>
<circle cx="118.9" cy="235.6" r="0.46" fill="#ee7a72"/>
<circle cx="113.7" cy="233.6" r="0.28" fill="#ee7a72"/>
<circle cx="110.8" cy="253.0" r="0.27" fill="#ee7a72"/>
<circle cx="101.3" cy="246.3" r="0.46" fill="#ee7a72"/>
<circle cx="117.3" cy="234.9" r="0.38" fill="#ee7a72"/>
<circle cx="99.8" cy="244.1" r="0.42" fill="#ee7a72"/>
<circle cx="129.1" cy="256.8" r="0.36" fill="#ee7a72"/>
<circle cx="98.3" cy="243.2" r="0.49" fill="#6d87cf"/>
<circle cx="80.9" cy="249.0" r="0.45" fill="#6d87cf"/>
<circle cx="89.8" cy="233.3" r="0.39" fill="#6d87cf"/>
<circle cx="75.6" cy="248.1" r="0.31" fill="#6d87cf"/>
<circle cx="97.1" cy="244.0" r="0.26" fill="#6d87cf"/>
<circle cx="64.3" cy="239.5" r="0.42" fill="#6d87cf"/>
<circle cx="85.7" cy="246.6" r="0.38" fill="#6d87cf"/>
<circle cx="88.0" cy="235.1" r="0.36" fill="#6d87cf"/>
<circle cx="62.6" cy="243.5" r="0.25" fill="#6d87cf"/>
<circle cx="63.6" cy="238.8" r="0.43" fill="#6d87cf"/>
<circle cx="87.9" cy="233.8" r="0.30" fill="#6d87cf"/>
<circle cx="61.7" cy="243.4" r="0.45" fill="#6d87cf"/>
<circle cx="85.4" cy="235.3" r="0.39" fill="#6d87cf"/>
<circle cx="63.2" cy="240.3" r="0.42" fill="#6d87cf"/>
<circle cx="82.9" cy="246.4" r="0.42" fill="#6d87cf"/>
<circle cx="84.2" cy="236.2" r="0.32" fill="#6d87cf"/>
<circle cx="81.5" cy="247.0" r="0.43" fill="#6d87cf"/>
<circle cx="63.2" cy="240.3" r="0.33" fill="#6d87cf"/>
<circle cx="69.1" cy="239.0" r="0.27" fill="#6d87cf"/>
<circle cx="95.9" cy="231.7" r="0.46" fill="#6d87cf"/>
<circle cx="77.2" cy="238.5" r="0.27" fill="#6d87cf"/>
<circle cx="90.0" cy="233.7" r="0.34" fill="#6d87cf"/>
<circle cx="64.1" cy="238.9" r="0.31" fill="#6d87cf"/>
<circle cx="72.1" cy="240.3" r="0.32" fill="#6d87cf"/>
<circle cx="75.0" cy="247.5" r="0.40" fill="#6d87cf"/>
<circle cx="62.9" cy="242.1" r="0.38" fill="#6d87cf"/>
<circle cx="81.2" cy="239.1" r="0.43" fill="#6d87cf"/>
<circle cx="98.2" cy="242.5" r="0.44" fill="#6d87cf"/>
<circle cx="98.3" cy="242.0" r="0.38" fill="#6d87cf"/>
<circle cx="91.7" cy="232.7" r="0.42" fill="#6d87cf"/>
<circle cx="94.2" cy="249.5" r="0.50" fill="#dd6a1e"/>
<circle cx="96.3" cy="257.6" r="0.33" fill="#dd6a1e"/>
<circle cx="104.5" cy="258.0" r="0.30" fill="#dd6a1e"/>
<circle cx="101.7" cy="250.2" r="0.48" fill="#dd6a1e"/>
<circle cx="103.3" cy="252.1" r="0.30" fill="#dd6a1e"/>
<circle cx="97.7" cy="258.2" r="0.30" fill="#dd6a1e"/>
<circle cx="103.8" cy="252.3" r="0.41" fill="#dd6a1e"/>
<circle cx="96.2" cy="249.7" r="0.47" fill="#dd6a1e"/>
<circle cx="96.1" cy="250.1" r="0.42" fill="#dd6a1e"/>
<circle cx="94.5" cy="254.4" r="0.37" fill="#dd6a1e"/>
<circle cx="97.4" cy="249.3" r="0.42" fill="#dd6a1e"/>
<circle cx="101.5" cy="251.3" r="0.37" fill="#dd6a1e"/>
<circle cx="101.7" cy="248.8" r="0.29" fill="#dd6a1e"/>
<circle cx="95.8" cy="251.7" r="0.46" fill="#dd6a1e"/>
<circle cx="82.1" cy="215.9" r="0.45" fill="#dc6d1a"/>
<circle cx="70.8" cy="211.4" r="0.47" fill="#dc6d1a"/>
<circle cx="81.0" cy="221.4" r="0.42" fill="#dc6d1a"/>
<circle cx="77.9" cy="222.8" r="0.35" fill="#dc6d1a"/>
<circle cx="81.1" cy="216.2" r="0.28" fill="#dc6d1a"/>
<circle cx="77.9" cy="212.4" r="0.48" fill="#dc6d1a"/>
<circle cx="67.0" cy="214.1" r="0.45" fill="#dc6d1a"/>
<circle cx="79.0" cy="214.0" r="0.30" fill="#dc6d1a"/>
<circle cx="74.1" cy="211.3" r="0.42" fill="#dc6d1a"/>
<circle cx="67.9" cy="212.8" r="0.43" fill="#dc6d1a"/>
<circle cx="69.1" cy="218.1" r="0.36" fill="#dc6d1a"/>
<circle cx="71.8" cy="220.2" r="0.46" fill="#dc6d1a"/>
<circle cx="70.3" cy="210.9" r="0.31" fill="#dc6d1a"/>
<circle cx="71.5" cy="219.4" r="0.40" fill="#dc6d1a"/>
<circle cx="61.3" cy="221.0" r="0.39" fill="#dc6d1a"/>
<circle cx="55.8" cy="225.1" r="0.40" fill="#dc6d1a"/>
<circle cx="68.2" cy="217.8" r="0.39" fill="#dc6d1a"/>
<circle cx="58.9" cy="224.0" r="0.42" fill="#dc6d1a"/>
<circle cx="65.3" cy="220.7" r="0.47" fill="#dc6d1a"/>
<circle cx="66.7" cy="218.2" r="0.45" fill="#dc6d1a"/>
<circle cx="61.5" cy="220.6" r="0.40" fill="#dc6d1a"/>
<circle cx="64.7" cy="220.1" r="0.33" fill="#dc6d1a"/>
<circle cx="57.0" cy="222.1" r="0.38" fill="#dc6d1a"/>
<circle cx="60.8" cy="221.4" r="0.31" fill="#dc6d1a"/>
<circle cx="58.3" cy="222.4" r="0.26" fill="#dc6d1a"/>
<circle cx="63.1" cy="219.9" r="0.42" fill="#dc6d1a"/>
<circle cx="65.7" cy="219.4" r="0.38" fill="#dc6d1a"/>
<circle cx="66.6" cy="218.3" r="0.38" fill="#dc6d1a"/>
<circle cx="50.4" cy="271.6" r="0.28" fill="#d493c2"/>
<circle cx="39.2" cy="227.9" r="0.38" fill="#d493c2"/>
<circle cx="36.5" cy="235.0" r="0.30" fill="#d493c2"/>
<circle cx="50.3" cy="265.4" r="0.37" fill="#d493c2"/>
<circle cx="41.7" cy="234.3" r="0.38" fill="#d493c2"/>
<circle cx="39.8" cy="227.4" r="0.25" fill="#d493c2"/>
<circle cx="42.6" cy="234.6" r="0.38" fill="#d493c2"/>
<circle cx="43.1" cy="233.7" r="0.30" fill="#d493c2"/>
<circle cx="41.7" cy="232.2" r="0.29" fill="#d493c2"/>
<circle cx="42.6" cy="247.0" r="0.37" fill="#d493c2"/>
<circle cx="49.4" cy="272.3" r="0.33" fill="#d493c2"/>
<circle cx="37.1" cy="231.2" r="0.47" fill="#d493c2"/>
<circle cx="37.7" cy="228.4" r="0.46" fill="#d493c2"/>
<circle cx="43.0" cy="226.2" r="0.28" fill="#d493c2"/>
<circle cx="38.8" cy="236.9" r="0.28" fill="#d493c2"/>
<circle cx="42.2" cy="227.0" r="0.29" fill="#d493c2"/>
<circle cx="41.9" cy="236.2" r="0.31" fill="#d493c2"/>
<circle cx="43.1" cy="238.3" r="0.27" fill="#d493c2"/>
<circle cx="44.6" cy="242.3" r="0.34" fill="#d493c2"/>
<circle cx="47.2" cy="257.1" r="0.34" fill="#d493c2"/>
<circle cx="40.6" cy="227.3" r="0.46" fill="#d493c2"/>
<circle cx="47.3" cy="263.1" r="0.43" fill="#d493c2"/>
<circle cx="41.7" cy="226.1" r="0.45" fill="#d493c2"/>
<circle cx="41.0" cy="238.3" r="0.47" fill="#d493c2"/>
<circle cx="48.6" cy="269.5" r="0.48" fill="#d493c2"/>
<circle cx="52.4" cy="272.7" r="0.33" fill="#cc5cb6"/>
<circle cx="57.6" cy="286.6" r="0.47" fill="#cc5cb6"/>
<circle cx="52.5" cy="273.9" r="0.34" fill="#cc5cb6"/>
<circle cx="61.5" cy="284.8" r="0.42" fill="#cc5cb6"/>
<circle cx="53.6" cy="285.9" r="0.29" fill="#cc5cb6"/>
<circle cx="63.6" cy="286.2" r="0.36" fill="#cc5cb6"/>
<circle cx="48.8" cy="275.7" r="0.38" fill="#cc5cb6"/>
<circle cx="73.9" cy="281.1" r="0.30" fill="#cc5cb6"/>
<circle cx="59.5" cy="286.3" r="0.35" fill="#cc5cb6"/>
<circle cx="52.0" cy="283.9" r="0.37" fill="#cc5cb6"/>
<circle cx="53.8" cy="285.5" r="0.34" fill="#cc5cb6"/>
<circle cx="51.2" cy="282.8" r="0.29" fill="#cc5cb6"/>
<circle cx="52.4" cy="273.6" r="0.25" fill="#cc5cb6"/>
<circle cx="50.9" cy="279.8" r="0.43" fill="#cc5cb6"/>
<circle cx="59.9" cy="269.5" r="0.35" fill="#eee26a"/>
<circle cx="63.0" cy="274.1" r="0.27" fill="#eee26a"/>
<circle cx="60.2" cy="276.4" r="0.30" fill="#eee26a"/>
<circle cx="62.5" cy="270.5" r="0.29" fill="#eee26a"/>
<circle cx="61.6" cy="271.1" r="0.46" fill="#eee26a"/>
<circle cx="60.5" cy="275.8" r="0.45" fill="#eee26a"/>
<circle cx="60.7" cy="269.7" r="0.40" fill="#eee26a"/>
<circle cx="59.4" cy="269.5" r="0.46" fill="#eee26a"/>
<circle cx="54.4" cy="274.6" r="0.48" fill="#eee26a"/>
<circle cx="59.7" cy="269.4" r="0.31" fill="#eee26a"/>
<circle cx="55.4" cy="275.8" r="0.40" fill="#eee26a"/>
<circle cx="56.8" cy="277.4" r="0.50" fill="#eee26a"/>
<circle cx="62.6" cy="274.8" r="0.41" fill="#eee26a"/>
<circle cx="63.5" cy="270.8" r="0.36" fill="#eee26a"/>
<circle cx="49.5" cy="250.4" r="0.49" fill="#27a744"/>
<circle cx="52.1" cy="252.1" r="0.37" fill="#27a744"/>
<circle cx="60.7" cy="240.2" r="0.44" fill="#27a744"/>
<circle cx="42.7" cy="228.2" r="0.35" fill="#27a744"/>
<circle cx="50.9" cy="254.2" r="0.49" fill="#27a744"/>
<circle cx="61.4" cy="240.8" r="0.39" fill="#27a744"/>
<circle cx="62.3" cy="240.6" r="0.39" fill="#27a744"/>
<circle cx="45.8" cy="240.4" r="0.29" fill="#27a744"/>
<circle cx="48.0" cy="245.3" r="0.29" fill="#27a744"/>
<circle cx="52.2" cy="253.4" r="0.26" fill="#27a744"/>
<circle cx="42.2" cy="234.3" r="0.42" fill="#27a744"/>
<circle cx="44.0" cy="227.4" r="0.33" fill="#27a744"/>
<circle cx="59.9" cy="242.8" r="0.26" fill="#27a744"/>
<circle cx="44.2" cy="237.2" r="0.26" fill="#27a744"/>
<circle cx="53.3" cy="251.6" r="0.33" fill="#27a744"/>
<circle cx="43.9" cy="227.2" r="0.46" fill="#27a744"/>
<circle cx="59.2" cy="242.7" r="0.44" fill="#27a744"/>
<circle cx="62.1" cy="230.9" r="0.44" fill="#27a744"/>
<circle cx="41.7" cy="230.8" r="0.37" fill="#27a744"/>
<circle cx="43.3" cy="238.6" r="0.26" fill="#27a744"/>
<circle cx="50.7" cy="225.8" r="0.39" fill="#27a744"/>
<circle cx="64.0" cy="240.0" r="0.46" fill="#27a744"/>
<circle cx="41.1" cy="228.0" r="0.33" fill="#27a744"/>
<circle cx="50.5" cy="257.1" r="0.45" fill="#27a744"/>
<circle cx="50.6" cy="255.1" r="0.49" fill="#27a744"/>
<circle cx="64.2" cy="232.2" r="0.46" fill="#27a744"/>
<circle cx="49.9" cy="226.5" r="0.41" fill="#27a744"/>
<circle cx="56.0" cy="244.0" r="0.37" fill="#27a744"/>
<circle cx="46.7" cy="225.9" r="0.25" fill="#27a744"/>
<circle cx="42.7" cy="236.0" r="0.30" fill="#27a744"/>
<circle cx="64.0" cy="231.5" r="0.36" fill="#27a744"/>
<circle cx="63.2" cy="230.2" r="0.35" fill="#27a744"/>
<circle cx="55.4" cy="225.7" r="0.47" fill="#27a744"/>
<circle cx="49.1" cy="250.8" r="0.43" fill="#27a744"/>
<circle cx="61.0" cy="242.1" r="0.29" fill="#27a744"/>
<circle cx="43.4" cy="236.2" r="0.43" fill="#27a744"/>
<circle cx="51.8" cy="250.6" r="0.46" fill="#27a744"/>
<circle cx="60.6" cy="228.8" r="0.29" fill="#27a744"/>
<circle cx="42.2" cy="231.5" r="0.26" fill="#27a744"/>
<circle cx="64.1" cy="238.7" r="0.43" fill="#27a744"/>
<circle cx="42.8" cy="237.9" r="0.31" fill="#27a744"/>
<circle cx="49.9" cy="226.1" r="0.42" fill="#27a744"/>
<circle cx="45.9" cy="225.5" r="0.29" fill="#27a744"/>
<circle cx="45.7" cy="242.5" r="0.33" fill="#27a744"/>
<circle cx="48.5" cy="248.9" r="0.44" fill="#27a744"/>
<circle cx="57.8" cy="242.7" r="0.47" fill="#27a744"/>
<circle cx="63.2" cy="230.3" r="0.27" fill="#27a744"/>
<circle cx="63.2" cy="238.7" r="0.49" fill="#27a744"/>
<circle cx="44.3" cy="236.9" r="0.33" fill="#27a744"/>
<circle cx="48.8" cy="226.8" r="0.35" fill="#27a744"/>
<circle cx="66.8" cy="225.6" r="0.34" fill="#138163"/>
<circle cx="65.8" cy="238.4" r="0.37" fill="#138163"/>
<circle cx="65.9" cy="227.6" r="0.26" fill="#138163"/>
<circle cx="66.5" cy="233.8" r="0.34" fill="#138163"/>
<circle cx="70.0" cy="224.9" r="0.37" fill="#138163"/>
<circle cx="71.8" cy="227.1" r="0.32" fill="#138163"/>
<circle cx="62.6" cy="236.1" r="0.30" fill="#138163"/>
<circle cx="67.5" cy="233.3" r="0.33" fill="#138163"/>
<circle cx="65.9" cy="227.3" r="0.27" fill="#138163"/>
<circle cx="66.5" cy="227.9" r="0.25" fill="#138163"/>
<circle cx="65.8" cy="228.0" r="0.32" fill="#138163"/>
<circle cx="63.4" cy="239.8" r="0.49" fill="#138163"/>
<circle cx="65.3" cy="237.8" r="0.37" fill="#138163"/>
<circle cx="67.7" cy="231.4" r="0.37" fill="#138163"/>
<circle cx="84.2" cy="186.1" r="0.37" fill="#1cb0b8"/>
<circle cx="91.4" cy="186.2" r="0.48" fill="#1cb0b8"/>
<circle cx="93.4" cy="186.7" r="0.39" fill="#1cb0b8"/>
<circle cx="77.0" cy="197.7" r="0.35" fill="#1cb0b8"/>
<circle cx="80.0" cy="197.8" r="0.32" fill="#1cb0b8"/>
<circle cx="85.1" cy="196.6" r="0.34" fill="#1cb0b8"/>
<circle cx="78.6" cy="193.8" r="0.43" fill="#1cb0b8"/>
<circle cx="84.7" cy="184.7" r="0.30" fill="#1cb0b8"/>
<circle cx="88.9" cy="195.6" r="0.41" fill="#1cb0b8"/>
<circle cx="76.6" cy="191.1" r="0.49" fill="#1cb0b8"/>
<circle cx="86.8" cy="195.7" r="0.25" fill="#1cb0b8"/>
<circle cx="82.2" cy="196.2" r="0.34" fill="#1cb0b8"/>
<circle cx="93.7" cy="190.6" r="0.31" fill="#1cb0b8"/>
<circle cx="83.9" cy="196.0" r="0.40" fill="#1cb0b8"/>
<circle cx="128.3" cy="189.0" r="0.33" fill="#f1b6c6"/>
<circle cx="126.8" cy="187.2" r="0.43" fill="#f1b6c6"/>
<circle cx="117.3" cy="201.1" r="0.33" fill="#f1b6c6"/>
<circle cx="132.0" cy="197.6" r="0.31" fill="#f1b6c6"/>
<circle cx="139.1" cy="191.0" r="0.31" fill="#f1b6c6"/>
<circle cx="134.1" cy="199.1" r="0.30" fill="#f1b6c6"/>
<circle cx="119.6" cy="193.1" r="0.25" fill="#f1b6c6"/>
<circle cx="133.1" cy="199.0" r="0.37" fill="#f1b6c6"/>
<circle cx="133.4" cy="186.7" r="0.33" fill="#f1b6c6"/>
<circle cx="131.9" cy="185.1" r="0.40" fill="#f1b6c6"/>
<circle cx="119.8" cy="191.9" r="0.31" fill="#f1b6c6"/>
<circle cx="119.1" cy="195.3" r="0.27" fill="#f1b6c6"/>
<circle cx="132.7" cy="198.4" r="0.32" fill="#f1b6c6"/>
<circle cx="137.2" cy="199.5" r="0.37" fill="#f1b6c6"/>
<circle cx="117.6" cy="205.3" r="0.38" fill="#761a80"/>
<circle cx="109.3" cy="215.2" r="0.29" fill="#761a80"/>
<circle cx="119.2" cy="218.8" r="0.29" fill="#761a80"/>
<circle cx="118.9" cy="218.8" r="0.34" fill="#761a80"/>
<circle cx="119.3" cy="214.9" r="0.33" fill="#761a80"/>
<circle cx="112.9" cy="207.9" r="0.36" fill="#761a80"/>
<circle cx="120.3" cy="206.7" r="0.41" fill="#761a80"/>
<circle cx="107.3" cy="216.0" r="0.31" fill="#761a80"/>
<circle cx="113.2" cy="208.3" r="0.48" fill="#761a80"/>
<circle cx="106.6" cy="213.3" r="0.26" fill="#761a80"/>
<circle cx="115.3" cy="220.6" r="0.38" fill="#761a80"/>
<circle cx="117.5" cy="219.2" r="0.48" fill="#761a80"/>
<circle cx="115.6" cy="207.4" r="0.41" fill="#761a80"/>
<circle cx="107.8" cy="207.0" r="0.41" fill="#761a80"/>
<text x="112.50" y="245.96" font-size="4.6" text-anchor="middle" fill="#3a2a2a" stroke="#3a2a2a" stroke-width="0.07">0</text>
<text x="162.00" y="269.46" font-size="4.6" text-anchor="middle" fill="#3a2a2a" stroke="#3a2a2a" stroke-width="0.07">1</text>
<text x="122.00" y="270.46" font-size="4.6" text-anchor="middle" fill="#3a2a2a" stroke="#3a2a2a" stroke-width="0.07">2</text>
<text x="142.30" y="270.46" font-size="4.6" text-anchor="middle" fill="#3a2a2a" stroke="#3a2a2a" stroke-width="0.07">3</text>
<text x="87.70" y="241.36" font-size="4.6" text-anchor="middle" fill="#3a2a2a" stroke="#3a2a2a" stroke-width="0.07">4</text>
<text x="112.00" y="214.16" font-size="4.6" text-anchor="middle" fill="#3a2a2a" stroke="#3a2a2a" stroke-width="0.07">5</text>
<text x="85.40" y="191.16" font-size="4.6" text-anchor="middle" fill="#3a2a2a" stroke="#3a2a2a" stroke-width="0.07">6</text>
<text x="131.50" y="192.16" font-size="4.6" text-anchor="middle" fill="#3a2a2a" stroke="#3a2a2a" stroke-width="0.07">7</text>
<text x="98.50" y="255.66" font-size="4.6" text-anchor="middle" fill="#3a2a2a" stroke="#3a2a2a" stroke-width="0.07">8</text>
<text x="54.00" y="282.16" font-size="4.6" text-anchor="middle" fill="#3a2a2a" stroke="#3a2a2a" stroke-width="0.07">9</text>
<text x="75.00" y="218.16" font-size="4.6" text-anchor="middle" fill="#3a2a2a" stroke="#3a2a2a" stroke-width="0.07">10</text>
<text x="55.50" y="236.66" font-size="4.6" text-anchor="middle" fill="#3a2a2a" stroke="#3a2a2a" stroke-width="0.07">11</text>
<text x="68.20" y="230.26" font-size="4.6" text-anchor="middle" fill="#3a2a2a" stroke="#3a2a2a" stroke-width="0.07">12</text>
<text x="59.20" y="275.66" font-size="4.6" text-anchor="middle" fill="#3a2a2a" stroke="#3a2a2a" stroke-width="0.07">13</text>
<line x1="22.00" y1="268.00" x2="22.00" y2="293.20" stroke="#111" stroke-width="1.0"/>
<line x1="22.00" y1="293.20" x2="46.00" y2="293.20" stroke="#111" stroke-width="1.0"/>
<path d="M20,270 L22,265.6 L24,270 Z" fill="#111" stroke="none" stroke-width="0.6"/>
<path d="M45,291.2 L49.4,293.2 L45,295.2 Z" fill="#111" stroke="none" stroke-width="0.6"/>
<text transform="translate(17.9,281.4) rotate(-90)" font-size="6.4" font-weight="bold" text-anchor="middle" fill="#222" textLength="18.5" lengthAdjust="spacingAndGlyphs">UMAP2</text>
<text x="22.90" y="301.20" font-size="6.4" text-anchor="start" fill="#222" font-weight="bold" textLength="18.10" lengthAdjust="spacingAndGlyphs">UMAP1</text>
<circle cx="9.60" cy="309.60" r="2.60" fill="#d2605f"/>
<circle cx="9.60" cy="316.90" r="2.60" fill="#8f8d22"/>
<circle cx="9.60" cy="324.00" r="2.60" fill="#1f9a5e"/>
<circle cx="9.60" cy="330.80" r="2.60" fill="#2289c2"/>
<circle cx="9.60" cy="337.50" r="2.60" fill="#5364b4"/>
<path d="M13.4,308.5 C15.2,308.5 15,310 15,313 L15,321 C15,322.5 15.6,323.5 16.6,323.6 C15.6,323.7 15,324.6 15,326 L15,335 C15,338 15.2,339.2 13.4,339.2" fill="none" stroke="#333" stroke-width="0.6"/>
<text x="19.20" y="318.87" font-size="6.3" text-anchor="start" fill="#333" stroke="#333" stroke-width="0.07" textLength="49.50" lengthAdjust="spacingAndGlyphs">Primitive/Definitive</text>
<text x="19.20" y="325.97" font-size="6.3" text-anchor="start" fill="#333" stroke="#333" stroke-width="0.07" textLength="31.00" lengthAdjust="spacingAndGlyphs">erythrocytes</text>
<text x="19.20" y="333.07" font-size="6.3" text-anchor="start" fill="#333" stroke="#333" stroke-width="0.07" textLength="30.00" lengthAdjust="spacingAndGlyphs">(EryP/EryD)</text>
<circle cx="9.60" cy="347.60" r="2.60" fill="#1f8a38"/>
<text x="19.20" y="349.97" font-size="6.3" text-anchor="start" fill="#333" stroke="#333" stroke-width="0.07" textLength="65.40" lengthAdjust="spacingAndGlyphs">Megakaryocyte-Erythroid</text>
<text x="19.20" y="357.67" font-size="6.3" text-anchor="start" fill="#333" stroke="#333" stroke-width="0.07" textLength="49.00" lengthAdjust="spacingAndGlyphs">progenitors (MEP)</text>
<circle cx="95.30" cy="298.50" r="2.60" fill="#eab4c4"/>
<text x="95.30" y="299.51" font-size="2.8" text-anchor="middle" fill="#8a6070" stroke="#8a6070" stroke-width="0.07">7</text>
<text x="103.10" y="300.71" font-size="6.15" text-anchor="start" fill="#333" stroke="#333" stroke-width="0.07">Hepatocytes (Hep)</text>
<circle cx="95.30" cy="306.80" r="2.60" fill="#1aa3ab"/>
<text x="103.10" y="309.01" font-size="6.15" text-anchor="start" fill="#333" stroke="#333" stroke-width="0.07">B cells (B)</text>
<circle cx="95.30" cy="315.00" r="2.60" fill="#5e1266"/>
<text x="103.10" y="317.21" font-size="6.15" text-anchor="start" fill="#333" stroke="#333" stroke-width="0.07">Fibroblasts (Fib)</text>
<circle cx="95.30" cy="323.60" r="2.60" fill="#b4621c"/>
<text x="103.10" y="325.81" font-size="6.15" text-anchor="start" fill="#333" stroke="#333" stroke-width="0.07">Kupffer cells (KC)</text>
<circle cx="95.30" cy="331.90" r="2.60" fill="#d292c2"/>
<text x="95.30" y="332.91" font-size="2.8" text-anchor="middle" fill="#8a6070" stroke="#8a6070" stroke-width="0.07">12</text>
<text x="103.10" y="334.11" font-size="6.15" text-anchor="start" fill="#333" stroke="#333" stroke-width="0.07">Multipotent progenitor cells (MPP)</text>
<circle cx="95.30" cy="340.60" r="2.60" fill="#12735a"/>
<text x="103.10" y="342.81" font-size="6.15" text-anchor="start" fill="#333" stroke="#333" stroke-width="0.07">Megakaryocytes (MK)</text>
<circle cx="95.30" cy="348.90" r="2.60" fill="#c462ac"/>
<circle cx="95.30" cy="355.30" r="2.60" fill="#e8e262"/>
<text x="95.30" y="356.31" font-size="2.8" text-anchor="middle" fill="#666" stroke="#666" stroke-width="0.07">13</text>
<path d="M98.6,347.4 C100,347.4 100,348.5 100,350 L100,351.5 C100,352.3 100.5,352.6 101.4,352.6 C100.5,352.6 100,353 100,353.8 L100,355.5 C100,357 100,357.6 98.6,357.6" fill="none" stroke="#333" stroke-width="0.6"/>
<text x="103.10" y="355.11" font-size="6.15" text-anchor="start" fill="#333" stroke="#333" stroke-width="0.07">Neutrophils (Neu)</text>
<rect x="347.87" y="218.30" width="3.02" height="4.70" fill="#cc0f2f"/>
<text x="346.27" y="222.20" font-size="4.3" text-anchor="end" fill="#333" stroke="#333" stroke-width="0.07">1.68%</text>
<text x="352.89" y="222.20" font-size="4.3" text-anchor="start" fill="#333" stroke="#333" stroke-width="0.07">0.22%</text>
<rect x="347.37" y="223.00" width="3.58" height="4.70" fill="#1d5394"/>
<text x="345.76" y="226.90" font-size="4.3" text-anchor="end" fill="#333" stroke="#333" stroke-width="0.07">2.00%</text>
<text x="352.94" y="226.90" font-size="4.3" text-anchor="start" fill="#333" stroke="#333" stroke-width="0.07">0.25%</text>
<rect x="336.17" y="231.50" width="15.59" height="4.70" fill="#cc0f2f"/>
<text x="334.57" y="235.40" font-size="4.3" text-anchor="end" fill="#333" stroke="#333" stroke-width="0.07">9.14%</text>
<text x="353.76" y="235.40" font-size="4.3" text-anchor="start" fill="#333" stroke="#333" stroke-width="0.07">0.71%</text>
<rect x="337.96" y="236.20" width="14.84" height="4.70" fill="#1d5394"/>
<text x="336.36" y="240.10" font-size="4.3" text-anchor="end" fill="#333" stroke="#333" stroke-width="0.07">8.00%</text>
<text x="354.80" y="240.10" font-size="4.3" text-anchor="start" fill="#333" stroke="#333" stroke-width="0.07">1.29%</text>
<rect x="343.48" y="244.70" width="8.94" height="4.70" fill="#cc0f2f"/>
<text x="341.88" y="248.60" font-size="4.3" text-anchor="end" fill="#333" stroke="#333" stroke-width="0.07">4.48%</text>
<text x="354.42" y="248.60" font-size="4.3" text-anchor="start" fill="#333" stroke="#333" stroke-width="0.07">1.08%</text>
<rect x="341.60" y="249.40" width="11.34" height="4.70" fill="#1d5394"/>
<text x="340.00" y="253.30" font-size="4.3" text-anchor="end" fill="#333" stroke="#333" stroke-width="0.07">5.68%</text>
<text x="354.94" y="253.30" font-size="4.3" text-anchor="start" fill="#333" stroke="#333" stroke-width="0.07">1.37%</text>
<rect x="338.52" y="257.90" width="15.18" height="4.70" fill="#cc0f2f"/>
<text x="336.92" y="261.80" font-size="4.3" text-anchor="end" fill="#333" stroke="#333" stroke-width="0.07">7.64%</text>
<text x="355.70" y="261.80" font-size="4.3" text-anchor="start" fill="#333" stroke="#333" stroke-width="0.07">1.80%</text>
<rect x="329.54" y="262.60" width="23.49" height="4.70" fill="#1d5394"/>
<text x="327.94" y="266.50" font-size="4.3" text-anchor="end" fill="#333" stroke="#333" stroke-width="0.07">13.37%</text>
<text x="355.03" y="266.50" font-size="4.3" text-anchor="start" fill="#333" stroke="#333" stroke-width="0.07">1.42%</text>
<rect x="348.49" y="271.10" width="9.22" height="4.70" fill="#cc0f2f"/>
<text x="346.89" y="275.00" font-size="4.3" text-anchor="end" fill="#333" stroke="#333" stroke-width="0.07">1.28%</text>
<text x="359.71" y="275.00" font-size="4.3" text-anchor="start" fill="#333" stroke="#333" stroke-width="0.07">4.05%</text>
<rect x="345.53" y="275.80" width="10.88" height="4.70" fill="#1d5394"/>
<text x="343.93" y="279.70" font-size="4.3" text-anchor="end" fill="#333" stroke="#333" stroke-width="0.07">3.17%</text>
<text x="358.41" y="279.70" font-size="4.3" text-anchor="start" fill="#333" stroke="#333" stroke-width="0.07">3.32%</text>
<rect x="350.17" y="284.30" width="7.09" height="4.70" fill="#cc0f2f"/>
<text x="348.57" y="288.20" font-size="4.3" text-anchor="end" fill="#333" stroke="#333" stroke-width="0.07">0.21%</text>
<text x="359.26" y="288.20" font-size="4.3" text-anchor="start" fill="#333" stroke="#333" stroke-width="0.07">3.80%</text>
<rect x="350.44" y="289.00" width="6.92" height="4.70" fill="#1d5394"/>
<text x="348.84" y="292.90" font-size="4.3" text-anchor="end" fill="#333" stroke="#333" stroke-width="0.07">0.04%</text>
<text x="359.35" y="292.90" font-size="4.3" text-anchor="start" fill="#333" stroke="#333" stroke-width="0.07">3.85%</text>
<rect x="350.47" y="297.50" width="20.45" height="4.70" fill="#cc0f2f"/>
<text x="348.87" y="301.40" font-size="4.3" text-anchor="end" fill="#333" stroke="#333" stroke-width="0.07">0.02%</text>
<text x="372.92" y="301.40" font-size="4.3" text-anchor="start" fill="#333" stroke="#333" stroke-width="0.07">11.47%</text>
<rect x="350.39" y="302.20" width="14.12" height="4.70" fill="#1d5394"/>
<text x="348.79" y="306.10" font-size="4.3" text-anchor="end" fill="#333" stroke="#333" stroke-width="0.07">0.07%</text>
<text x="366.51" y="306.10" font-size="4.3" text-anchor="start" fill="#333" stroke="#333" stroke-width="0.07">7.87%</text>
<rect x="350.28" y="310.70" width="28.04" height="4.70" fill="#cc0f2f"/>
<text x="348.68" y="314.60" font-size="4.3" text-anchor="end" fill="#333" stroke="#333" stroke-width="0.07">0.14%</text>
<text x="380.32" y="314.60" font-size="4.3" text-anchor="start" fill="#333" stroke="#333" stroke-width="0.07">15.63%</text>
<rect x="349.26" y="315.40" width="27.62" height="4.70" fill="#1d5394"/>
<text x="347.66" y="319.30" font-size="4.3" text-anchor="end" fill="#333" stroke="#333" stroke-width="0.07">0.79%</text>
<text x="378.88" y="319.30" font-size="4.3" text-anchor="start" fill="#333" stroke="#333" stroke-width="0.07">14.82%</text>
<rect x="232.33" y="323.90" width="227.18" height="4.70" fill="#cc0f2f"/>
<text x="230.73" y="327.80" font-size="4.3" text-anchor="end" fill="#333" stroke="#333" stroke-width="0.07">75.39%</text>
<text x="461.51" y="327.80" font-size="4.3" text-anchor="start" fill="#333" stroke="#333" stroke-width="0.07">61.24%</text>
<rect x="245.59" y="328.60" width="221.91" height="4.70" fill="#1d5394"/>
<text x="243.99" y="332.50" font-size="4.3" text-anchor="end" fill="#333" stroke="#333" stroke-width="0.07">66.93%</text>
<text x="469.50" y="332.50" font-size="4.3" text-anchor="start" fill="#333" stroke="#333" stroke-width="0.07">65.73%</text>
<line x1="350.50" y1="217.00" x2="350.50" y2="336.20" stroke="#111" stroke-width="0.8"/>
<line x1="222.00" y1="336.20" x2="480.50" y2="336.20" stroke="#111" stroke-width="0.8"/>
<line x1="225.10" y1="336.20" x2="225.10" y2="338.60" stroke="#111" stroke-width="0.6"/>
<text x="225.10" y="347.70" font-size="6.4" text-anchor="middle" fill="#222" stroke="#222" stroke-width="0.07">80</text>
<line x1="256.45" y1="336.20" x2="256.45" y2="338.60" stroke="#111" stroke-width="0.6"/>
<text x="256.45" y="347.70" font-size="6.4" text-anchor="middle" fill="#222" stroke="#222" stroke-width="0.07">60</text>
<line x1="287.80" y1="336.20" x2="287.80" y2="338.60" stroke="#111" stroke-width="0.6"/>
<text x="287.80" y="347.70" font-size="6.4" text-anchor="middle" fill="#222" stroke="#222" stroke-width="0.07">40</text>
<line x1="319.15" y1="336.20" x2="319.15" y2="338.60" stroke="#111" stroke-width="0.6"/>
<text x="319.15" y="347.70" font-size="6.4" text-anchor="middle" fill="#222" stroke="#222" stroke-width="0.07">20</text>
<line x1="350.50" y1="336.20" x2="350.50" y2="338.60" stroke="#111" stroke-width="0.6"/>
<text x="350.50" y="347.70" font-size="6.4" text-anchor="middle" fill="#222" stroke="#222" stroke-width="0.07">0</text>
<line x1="386.10" y1="336.20" x2="386.10" y2="338.60" stroke="#111" stroke-width="0.6"/>
<text x="386.10" y="347.70" font-size="6.4" text-anchor="middle" fill="#222" stroke="#222" stroke-width="0.07">20</text>
<line x1="421.70" y1="336.20" x2="421.70" y2="338.60" stroke="#111" stroke-width="0.6"/>
<text x="421.70" y="347.70" font-size="6.4" text-anchor="middle" fill="#222" stroke="#222" stroke-width="0.07">40</text>
<line x1="457.30" y1="336.20" x2="457.30" y2="338.60" stroke="#111" stroke-width="0.6"/>
<text x="457.30" y="347.70" font-size="6.4" text-anchor="middle" fill="#222" stroke="#222" stroke-width="0.07">60</text>
<text x="329.20" y="359.00" font-size="7.6" text-anchor="start" fill="#333" font-weight="bold" textLength="49.30" lengthAdjust="spacingAndGlyphs">Cell proportion (%)</text>
<text x="279.60" y="226.64" font-size="6.5" text-anchor="start" fill="#222" stroke="#222" stroke-width="0.07">MK</text>
<text x="402.80" y="226.64" font-size="6.5" text-anchor="start" fill="#222" stroke="#222" stroke-width="0.07">MK</text>
<text x="279.60" y="238.84" font-size="6.5" text-anchor="start" fill="#222" stroke="#222" stroke-width="0.07">Hep</text>
<text x="402.80" y="238.84" font-size="6.5" text-anchor="start" fill="#222" stroke="#222" stroke-width="0.07">Hep</text>
<text x="279.60" y="252.74" font-size="6.5" text-anchor="start" fill="#222" stroke="#222" stroke-width="0.07">Fib</text>
<text x="402.80" y="252.74" font-size="6.5" text-anchor="start" fill="#222" stroke="#222" stroke-width="0.07">Fib</text>
<text x="279.60" y="264.34" font-size="6.5" text-anchor="start" fill="#222" stroke="#222" stroke-width="0.07">MEP</text>
<text x="402.80" y="264.34" font-size="6.5" text-anchor="start" fill="#222" stroke="#222" stroke-width="0.07">MEP</text>
<text x="279.60" y="278.84" font-size="6.5" text-anchor="start" fill="#222" stroke="#222" stroke-width="0.07">KC</text>
<text x="402.80" y="278.84" font-size="6.5" text-anchor="start" fill="#222" stroke="#222" stroke-width="0.07">KC</text>
<text x="279.60" y="293.34" font-size="6.5" text-anchor="start" fill="#222" stroke="#222" stroke-width="0.07">MPP</text>
<text x="402.80" y="293.34" font-size="6.5" text-anchor="start" fill="#222" stroke="#222" stroke-width="0.07">MPP</text>
<text x="279.60" y="305.34" font-size="6.5" text-anchor="start" fill="#222" stroke="#222" stroke-width="0.07">B</text>
<text x="402.80" y="305.34" font-size="6.5" text-anchor="start" fill="#222" stroke="#222" stroke-width="0.07">B</text>
<text x="279.60" y="317.54" font-size="6.5" text-anchor="start" fill="#222" stroke="#222" stroke-width="0.07">Neu</text>
<text x="402.80" y="317.54" font-size="6.5" text-anchor="start" fill="#222" stroke="#222" stroke-width="0.07">Neu</text>
<text x="279.00" y="206.22" font-size="7" text-anchor="start" fill="#222" stroke="#222" stroke-width="0.07" textLength="16.10" lengthAdjust="spacingAndGlyphs">E13.5</text>
<text x="402.80" y="206.32" font-size="7" text-anchor="start" fill="#222" stroke="#222" stroke-width="0.07" textLength="16.10" lengthAdjust="spacingAndGlyphs">E17.5</text>
<text x="211.70" y="319.34" font-size="6.5" text-anchor="start" fill="#222" stroke="#222" stroke-width="0.07">EryP/EryD</text>
<text x="462.90" y="318.04" font-size="6.5" text-anchor="start" fill="#222" stroke="#222" stroke-width="0.07">EryD</text>
<rect x="463.80" y="226.60" width="5.80" height="3.00" fill="#bd0d2c"/>
<text x="472.60" y="229.48" font-size="4.4" text-anchor="start" fill="#444" stroke="#444" stroke-width="0.07">CT</text>
<rect x="463.80" y="234.20" width="5.80" height="3.00" fill="#17457a"/>
<text x="472.60" y="237.38" font-size="4.4" text-anchor="start" fill="#444" stroke="#444" stroke-width="0.07">MO</text>
<rect x="96.20" y="396.20" width="72.70" height="21.60" fill="#c8102e"/>
<text x="131.60" y="405.50" font-size="6.5" text-anchor="middle" fill="#fff" textLength="50.00" lengthAdjust="spacingAndGlyphs">Erythrocyte-related</text>
<text x="132.40" y="412.80" font-size="6.5" text-anchor="middle" fill="#fff" textLength="48.40" lengthAdjust="spacingAndGlyphs">biological process</text>
<rect x="96.20" y="436.90" width="72.70" height="22.00" fill="#5c2d83"/>
<text x="131.75" y="446.60" font-size="6.5" text-anchor="middle" fill="#fff" textLength="62.50" lengthAdjust="spacingAndGlyphs">Oxidative stress-related</text>
<text x="132.15" y="453.50" font-size="6.5" text-anchor="middle" fill="#fff" textLength="55.10" lengthAdjust="spacingAndGlyphs">biological processes</text>
<text x="309.70" y="394.32" font-size="6.45" text-anchor="end" fill="#c22c52" stroke="#c22c52" stroke-width="0.07" textLength="67.25" lengthAdjust="spacingAndGlyphs">Erythrocyte development</text>
<line x1="313.20" y1="392.00" x2="316.20" y2="392.00" stroke="#222" stroke-width="0.8"/>
<text x="309.70" y="404.32" font-size="6.45" text-anchor="end" fill="#222" stroke="#222" stroke-width="0.07" textLength="68.26" lengthAdjust="spacingAndGlyphs">Myeloid cell development</text>
<line x1="313.20" y1="402.00" x2="316.20" y2="402.00" stroke="#222" stroke-width="0.8"/>
<text x="309.70" y="414.22" font-size="6.45" text-anchor="end" fill="#c22c52" stroke="#c22c52" stroke-width="0.07" textLength="68.83" lengthAdjust="spacingAndGlyphs">Erythrocyte differentiation</text>
<line x1="313.20" y1="411.90" x2="316.20" y2="411.90" stroke="#222" stroke-width="0.8"/>
<text x="309.70" y="424.12" font-size="6.45" text-anchor="end" fill="#c22c52" stroke="#c22c52" stroke-width="0.07" textLength="66.56" lengthAdjust="spacingAndGlyphs">Erythrocyte homeostasis</text>
<line x1="313.20" y1="421.80" x2="316.20" y2="421.80" stroke="#222" stroke-width="0.8"/>
<text x="309.70" y="433.82" font-size="6.45" text-anchor="end" fill="#6b4595" stroke="#6b4595" stroke-width="0.07" textLength="100.03" lengthAdjust="spacingAndGlyphs">Hydrogen peroxide catabolic process</text>
<line x1="313.20" y1="431.50" x2="316.20" y2="431.50" stroke="#222" stroke-width="0.8"/>
<text x="309.70" y="443.72" font-size="6.45" text-anchor="end" fill="#6b4595" stroke="#6b4595" stroke-width="0.07" textLength="102.06" lengthAdjust="spacingAndGlyphs">Hydrogen peroxide metabolic process</text>
<line x1="313.20" y1="441.40" x2="316.20" y2="441.40" stroke="#222" stroke-width="0.8"/>
<text x="309.70" y="453.62" font-size="6.45" text-anchor="end" fill="#222" stroke="#222" stroke-width="0.07" textLength="88.88" lengthAdjust="spacingAndGlyphs">Peptidyl–cysteine S–nitrosylation</text>
<line x1="313.20" y1="451.30" x2="316.20" y2="451.30" stroke="#222" stroke-width="0.8"/>
<text x="309.70" y="463.62" font-size="6.45" text-anchor="end" fill="#6b4595" stroke="#6b4595" stroke-width="0.07" textLength="136.19" lengthAdjust="spacingAndGlyphs">Negative regulation of response to oxidative stress</text>
<line x1="313.20" y1="461.30" x2="316.20" y2="461.30" stroke="#222" stroke-width="0.8"/>
<text x="309.70" y="473.52" font-size="6.45" text-anchor="end" fill="#222" stroke="#222" stroke-width="0.07" textLength="66.58" lengthAdjust="spacingAndGlyphs">Carbon dioxide transport</text>
<line x1="313.20" y1="471.20" x2="316.20" y2="471.20" stroke="#222" stroke-width="0.8"/>
<text x="309.70" y="483.22" font-size="6.45" text-anchor="end" fill="#222" stroke="#222" stroke-width="0.07" textLength="53.39" lengthAdjust="spacingAndGlyphs">Protein nitrosylation</text>
<line x1="313.20" y1="480.90" x2="316.20" y2="480.90" stroke="#222" stroke-width="0.8"/>
<rect x="316.2" y="386.5" width="78.0" height="100.80000000000001" fill="none" stroke="#222" stroke-width="1.05"/>
<line x1="321.50" y1="487.30" x2="321.50" y2="489.50" stroke="#222" stroke-width="0.7"/>
<text x="321.50" y="499.02" font-size="7.0" text-anchor="middle" fill="#333" stroke="#333" stroke-width="0.07" textLength="12.60" lengthAdjust="spacingAndGlyphs">0.05</text>
<line x1="336.10" y1="487.30" x2="336.10" y2="489.50" stroke="#222" stroke-width="0.7"/>
<text x="336.10" y="499.02" font-size="7.0" text-anchor="middle" fill="#333" stroke="#333" stroke-width="0.07" textLength="12.60" lengthAdjust="spacingAndGlyphs">0.06</text>
<line x1="350.70" y1="487.30" x2="350.70" y2="489.50" stroke="#222" stroke-width="0.7"/>
<text x="350.70" y="499.02" font-size="7.0" text-anchor="middle" fill="#333" stroke="#333" stroke-width="0.07" textLength="12.60" lengthAdjust="spacingAndGlyphs">0.07</text>
<line x1="365.30" y1="487.30" x2="365.30" y2="489.50" stroke="#222" stroke-width="0.7"/>
<text x="365.30" y="499.02" font-size="7.0" text-anchor="middle" fill="#333" stroke="#333" stroke-width="0.07" textLength="12.60" lengthAdjust="spacingAndGlyphs">0.08</text>
<line x1="379.90" y1="487.30" x2="379.90" y2="489.50" stroke="#222" stroke-width="0.7"/>
<text x="379.90" y="499.02" font-size="7.0" text-anchor="middle" fill="#333" stroke="#333" stroke-width="0.07" textLength="12.60" lengthAdjust="spacingAndGlyphs">0.09</text>
<line x1="394.50" y1="487.30" x2="394.50" y2="489.50" stroke="#222" stroke-width="0.7"/>
<text x="394.50" y="499.02" font-size="7.0" text-anchor="middle" fill="#333" stroke="#333" stroke-width="0.07" textLength="12.60" lengthAdjust="spacingAndGlyphs">0.10</text>
<text x="342.50" y="510.20" font-size="7.6" text-anchor="start" fill="#333" font-weight="bold" textLength="25.60" lengthAdjust="spacingAndGlyphs">GeneRatio</text>
<text x="279.80" y="381.40" font-size="8.2" text-anchor="start" fill="#111" stroke="#111" stroke-width="0.07" textLength="151.00" lengthAdjust="spacingAndGlyphs">Upregulated genes GO enrichment in MO</text>
<circle cx="390.50" cy="392.00" r="2.50" fill="#d0505a" stroke="#333" stroke-width="0.5"/>
<circle cx="390.50" cy="402.00" r="2.50" fill="#b9526a" stroke="#333" stroke-width="0.5"/>
<circle cx="390.50" cy="411.90" r="2.50" fill="#5a6aa8" stroke="#333" stroke-width="0.5"/>
<circle cx="390.50" cy="421.80" r="2.50" fill="#4e6cac" stroke="#333" stroke-width="0.5"/>
<circle cx="355.00" cy="431.50" r="2.00" fill="#b04a62" stroke="#333" stroke-width="0.5"/>
<circle cx="355.00" cy="441.40" r="2.00" fill="#5870a8" stroke="#333" stroke-width="0.5"/>
<circle cx="319.60" cy="451.30" r="0.90" fill="#333"/>
<circle cx="319.60" cy="461.30" r="0.90" fill="#333"/>
<circle cx="319.60" cy="471.20" r="0.90" fill="#333"/>
<circle cx="319.60" cy="480.90" r="0.90" fill="#333"/>
<text x="398.10" y="396.80" font-size="6.6" text-anchor="start" fill="#222" stroke="#222" stroke-width="0.07" font-style="italic">P</text>
<text x="402.30" y="396.80" font-size="6.6" text-anchor="start" fill="#222" stroke="#222" stroke-width="0.07" textLength="16.80" lengthAdjust="spacingAndGlyphs">.adjust</text>
<defs><linearGradient id="pgr" x1="0" y1="0" x2="0" y2="1"><stop offset="0" stop-color="#da5c5e"/><stop offset="0.5" stop-color="#a25684"/><stop offset="1" stop-color="#4a78b8"/></linearGradient></defs>
<rect x="397.30" y="401.20" width="6.90" height="34.40" fill="url(#pgr)"/>
<text x="407.40" y="410.80" font-size="6.4" text-anchor="start" fill="#222" stroke="#222" stroke-width="0.07">.005</text>
<text x="407.40" y="420.70" font-size="6.4" text-anchor="start" fill="#222" stroke="#222" stroke-width="0.07">.010</text>
<text x="407.40" y="430.70" font-size="6.4" text-anchor="start" fill="#222" stroke="#222" stroke-width="0.07">.015</text>
<text x="398.20" y="447.60" font-size="6.2" text-anchor="start" fill="#222" stroke="#222" stroke-width="0.07">Count</text>
<circle cx="401.60" cy="453.20" r="0.90" fill="none" stroke="#222" stroke-width="0.8"/>
<text x="408.20" y="455.43" font-size="6.2" text-anchor="start" fill="#222" stroke="#222" stroke-width="0.07">2.0</text>
<circle cx="401.60" cy="459.40" r="1.80" fill="none" stroke="#222" stroke-width="0.8"/>
<text x="408.20" y="461.63" font-size="6.2" text-anchor="start" fill="#222" stroke="#222" stroke-width="0.07">2.5</text>
<circle cx="401.60" cy="466.90" r="2.20" fill="none" stroke="#222" stroke-width="0.8"/>
<text x="408.20" y="469.13" font-size="6.2" text-anchor="start" fill="#222" stroke="#222" stroke-width="0.07">3.0</text>
<circle cx="401.60" cy="474.60" r="2.60" fill="none" stroke="#222" stroke-width="0.8"/>
<text x="408.20" y="476.83" font-size="6.2" text-anchor="start" fill="#222" stroke="#222" stroke-width="0.07">3.5</text>
<circle cx="401.60" cy="483.50" r="3.10" fill="none" stroke="#222" stroke-width="0.8"/>
<text x="408.20" y="485.73" font-size="6.2" text-anchor="start" fill="#222" stroke="#222" stroke-width="0.07">4.0</text>
<rect x="37.70" y="599.80" width="23.40" height="14.50" fill="#e5523e"/>
<rect x="37.70" y="599.8" width="0.92" height="14.5" fill="#ffffff" fill-opacity="0.06"/>
<rect x="38.62" y="599.8" width="1.14" height="14.5" fill="#ffffff" fill-opacity="0.13"/>
<rect x="39.76" y="599.8" width="0.81" height="14.5" fill="#000000" fill-opacity="0.06"/>
<rect x="40.57" y="599.8" width="0.69" height="14.5" fill="#ffffff" fill-opacity="0.14"/>
<rect x="43.16" y="599.8" width="0.65" height="14.5" fill="#ffffff" fill-opacity="0.08"/>
<rect x="43.81" y="599.8" width="0.74" height="14.5" fill="#000000" fill-opacity="0.10"/>
<rect x="44.55" y="599.8" width="1.28" height="14.5" fill="#ffffff" fill-opacity="0.08"/>
<rect x="45.83" y="599.8" width="1.15" height="14.5" fill="#ffffff" fill-opacity="0.11"/>
<rect x="49.45" y="599.8" width="1.52" height="14.5" fill="#ffffff" fill-opacity="0.12"/>
<rect x="50.98" y="599.8" width="1.30" height="14.5" fill="#000000" fill-opacity="0.10"/>
<rect x="54.64" y="599.8" width="0.72" height="14.5" fill="#000000" fill-opacity="0.06"/>
<rect x="55.36" y="599.8" width="1.09" height="14.5" fill="#ffffff" fill-opacity="0.12"/>
<rect x="61.10" y="599.80" width="23.70" height="14.50" fill="#f0a08a"/>
<rect x="62.64" y="599.8" width="1.26" height="14.5" fill="#000000" fill-opacity="0.11"/>
<rect x="65.50" y="599.8" width="0.88" height="14.5" fill="#000000" fill-opacity="0.05"/>
<rect x="66.39" y="599.8" width="1.06" height="14.5" fill="#ffffff" fill-opacity="0.09"/>
<rect x="67.45" y="599.8" width="0.82" height="14.5" fill="#ffffff" fill-opacity="0.09"/>
<rect x="69.78" y="599.8" width="0.77" height="14.5" fill="#000000" fill-opacity="0.13"/>
<rect x="71.97" y="599.8" width="0.88" height="14.5" fill="#000000" fill-opacity="0.11"/>
<rect x="72.85" y="599.8" width="0.98" height="14.5" fill="#ffffff" fill-opacity="0.07"/>
<rect x="73.83" y="599.8" width="0.83" height="14.5" fill="#000000" fill-opacity="0.12"/>
<rect x="74.66" y="599.8" width="0.78" height="14.5" fill="#ffffff" fill-opacity="0.09"/>
<rect x="79.08" y="599.8" width="1.28" height="14.5" fill="#000000" fill-opacity="0.09"/>
<rect x="81.35" y="599.8" width="1.00" height="14.5" fill="#ffffff" fill-opacity="0.09"/>
<rect x="84.80" y="599.80" width="18.90" height="14.50" fill="#efd3ca"/>
<rect x="84.80" y="599.8" width="1.21" height="14.5" fill="#ffffff" fill-opacity="0.11"/>
<rect x="86.01" y="599.8" width="0.75" height="14.5" fill="#000000" fill-opacity="0.10"/>
<rect x="86.76" y="599.8" width="1.07" height="14.5" fill="#000000" fill-opacity="0.14"/>
<rect x="88.90" y="599.8" width="0.69" height="14.5" fill="#000000" fill-opacity="0.12"/>
<rect x="90.67" y="599.8" width="1.12" height="14.5" fill="#000000" fill-opacity="0.06"/>
<rect x="91.78" y="599.8" width="1.14" height="14.5" fill="#000000" fill-opacity="0.14"/>
<rect x="94.39" y="599.8" width="0.86" height="14.5" fill="#ffffff" fill-opacity="0.08"/>
<rect x="98.39" y="599.8" width="1.36" height="14.5" fill="#ffffff" fill-opacity="0.12"/>
<rect x="99.75" y="599.8" width="1.34" height="14.5" fill="#000000" fill-opacity="0.08"/>
<rect x="101.09" y="599.8" width="0.63" height="14.5" fill="#000000" fill-opacity="0.09"/>
<rect x="103.70" y="599.80" width="14.80" height="14.50" fill="#e6ecf4"/>
<rect x="103.70" y="599.8" width="1.32" height="14.5" fill="#000000" fill-opacity="0.06"/>
<rect x="109.79" y="599.8" width="1.43" height="14.5" fill="#000000" fill-opacity="0.12"/>
<rect x="114.29" y="599.8" width="1.57" height="14.5" fill="#000000" fill-opacity="0.12"/>
<rect x="115.86" y="599.8" width="0.68" height="14.5" fill="#ffffff" fill-opacity="0.05"/>
<rect x="118.50" y="599.80" width="17.50" height="14.50" fill="#b2cfe3"/>
<rect x="119.70" y="599.8" width="1.54" height="14.5" fill="#ffffff" fill-opacity="0.05"/>
<rect x="124.87" y="599.8" width="0.63" height="14.5" fill="#ffffff" fill-opacity="0.12"/>
<rect x="126.42" y="599.8" width="1.43" height="14.5" fill="#000000" fill-opacity="0.13"/>
<rect x="130.24" y="599.8" width="1.48" height="14.5" fill="#ffffff" fill-opacity="0.10"/>
<rect x="131.72" y="599.8" width="0.62" height="14.5" fill="#ffffff" fill-opacity="0.10"/>
<rect x="132.33" y="599.8" width="1.38" height="14.5" fill="#ffffff" fill-opacity="0.09"/>
<rect x="136.00" y="599.80" width="14.80" height="14.50" fill="#6fa9d6"/>
<rect x="137.86" y="599.8" width="0.85" height="14.5" fill="#ffffff" fill-opacity="0.10"/>
<rect x="139.87" y="599.8" width="1.51" height="14.5" fill="#ffffff" fill-opacity="0.11"/>
<rect x="144.81" y="599.8" width="1.54" height="14.5" fill="#ffffff" fill-opacity="0.13"/>
<rect x="146.36" y="599.8" width="0.74" height="14.5" fill="#000000" fill-opacity="0.08"/>
<rect x="147.09" y="599.8" width="1.27" height="14.5" fill="#ffffff" fill-opacity="0.11"/>
<rect x="150.80" y="599.80" width="10.80" height="14.50" fill="#4a8fc9"/>
<rect x="150.80" y="599.8" width="1.26" height="14.5" fill="#ffffff" fill-opacity="0.14"/>
<rect x="155.47" y="599.8" width="0.76" height="14.5" fill="#000000" fill-opacity="0.08"/>
<rect x="156.23" y="599.8" width="0.80" height="14.5" fill="#000000" fill-opacity="0.05"/>
<rect x="157.03" y="599.8" width="1.15" height="14.5" fill="#ffffff" fill-opacity="0.08"/>
<rect x="158.18" y="599.8" width="1.12" height="14.5" fill="#ffffff" fill-opacity="0.06"/>
<rect x="159.30" y="599.8" width="1.52" height="14.5" fill="#ffffff" fill-opacity="0.06"/>
<rect x="161.60" y="599.80" width="10.40" height="14.50" fill="#2367ad"/>
<rect x="167.20" y="599.8" width="0.93" height="14.5" fill="#ffffff" fill-opacity="0.09"/>
<rect x="171.38" y="599.8" width="0.62" height="14.5" fill="#000000" fill-opacity="0.13"/>
<rect x="38.40" y="596.80" width="0.50" height="3.00" fill="#000"/>
<rect x="38.85" y="596.80" width="0.50" height="3.00" fill="#000"/>
<rect x="39.75" y="596.80" width="0.50" height="3.00" fill="#111"/>
<rect x="40.65" y="596.80" width="1.20" height="3.00" fill="#111"/>
<rect x="41.10" y="596.80" width="1.20" height="3.00" fill="#111"/>
<rect x="41.55" y="596.80" width="0.40" height="3.00" fill="#333"/>
<rect x="42.00" y="596.80" width="0.40" height="3.00" fill="#777"/>
<rect x="42.45" y="596.80" width="0.50" height="3.00" fill="#777"/>
<rect x="42.90" y="596.80" width="0.90" height="3.00" fill="#000"/>
<rect x="43.35" y="596.80" width="0.90" height="3.00" fill="#555"/>
<rect x="43.80" y="596.80" width="0.90" height="3.00" fill="#777"/>
<rect x="44.25" y="596.80" width="0.50" height="3.00" fill="#111"/>
<rect x="44.70" y="596.80" width="0.50" height="3.00" fill="#555"/>
<rect x="46.05" y="596.80" width="0.40" height="3.00" fill="#000"/>
<rect x="46.50" y="596.80" width="0.70" height="3.00" fill="#555"/>
<rect x="46.95" y="596.80" width="0.40" height="3.00" fill="#555"/>
<rect x="47.40" y="596.80" width="0.70" height="3.00" fill="#777"/>
<rect x="47.85" y="596.80" width="0.70" height="3.00" fill="#000"/>
<rect x="48.30" y="596.80" width="0.50" height="3.00" fill="#333"/>
<rect x="48.75" y="596.80" width="0.70" height="3.00" fill="#333"/>
<rect x="50.10" y="596.80" width="0.50" height="3.00" fill="#000"/>
<rect x="51.00" y="596.80" width="0.70" height="3.00" fill="#111"/>
<rect x="51.45" y="596.80" width="0.90" height="3.00" fill="#000"/>
<rect x="51.90" y="596.80" width="1.20" height="3.00" fill="#111"/>
<rect x="52.35" y="596.80" width="0.40" height="3.00" fill="#000"/>
<rect x="52.80" y="596.80" width="0.40" height="3.00" fill="#111"/>
<rect x="53.25" y="596.80" width="0.40" height="3.00" fill="#555"/>
<rect x="53.70" y="596.80" width="0.70" height="3.00" fill="#111"/>
<rect x="54.15" y="596.80" width="1.20" height="3.00" fill="#111"/>
<rect x="54.60" y="596.80" width="1.20" height="3.00" fill="#555"/>
<rect x="55.05" y="596.80" width="0.90" height="3.00" fill="#111"/>
<rect x="55.50" y="596.80" width="1.20" height="3.00" fill="#111"/>
<rect x="55.95" y="596.80" width="1.20" height="3.00" fill="#555"/>
<rect x="56.40" y="596.80" width="1.20" height="3.00" fill="#111"/>
<rect x="56.85" y="596.80" width="1.20" height="3.00" fill="#777"/>
<rect x="57.30" y="596.80" width="0.40" height="3.00" fill="#777"/>
<rect x="57.75" y="596.80" width="0.50" height="3.00" fill="#000"/>
<rect x="58.20" y="596.80" width="0.50" height="3.00" fill="#333"/>
<rect x="59.10" y="596.80" width="0.90" height="3.00" fill="#777"/>
<rect x="59.55" y="596.80" width="0.40" height="3.00" fill="#777"/>
<rect x="60.00" y="596.80" width="0.90" height="3.00" fill="#333"/>
<rect x="60.45" y="596.80" width="0.40" height="3.00" fill="#777"/>
<rect x="60.90" y="596.80" width="0.40" height="3.00" fill="#777"/>
<rect x="61.35" y="596.80" width="0.90" height="3.00" fill="#333"/>
<rect x="61.80" y="596.80" width="0.70" height="3.00" fill="#111"/>
<rect x="62.25" y="596.80" width="0.50" height="3.00" fill="#111"/>
<rect x="62.70" y="596.80" width="0.90" height="3.00" fill="#555"/>
<rect x="63.15" y="596.80" width="0.40" height="3.00" fill="#555"/>
<rect x="63.60" y="596.80" width="0.70" height="3.00" fill="#000"/>
<rect x="64.05" y="596.80" width="0.50" height="3.00" fill="#000"/>
<rect x="64.50" y="596.80" width="0.70" height="3.00" fill="#333"/>
<rect x="64.95" y="596.80" width="0.70" height="3.00" fill="#777"/>
<rect x="65.40" y="596.80" width="0.40" height="3.00" fill="#555"/>
<rect x="65.85" y="596.80" width="0.70" height="3.00" fill="#000"/>
<rect x="66.30" y="596.80" width="0.90" height="3.00" fill="#333"/>
<rect x="66.75" y="596.80" width="0.70" height="3.00" fill="#555"/>
<rect x="67.20" y="596.80" width="0.40" height="3.00" fill="#777"/>
<rect x="67.65" y="596.80" width="0.40" height="3.00" fill="#555"/>
<rect x="68.10" y="596.80" width="0.90" height="3.00" fill="#000"/>
<rect x="68.55" y="596.80" width="0.90" height="3.00" fill="#333"/>
<rect x="69.00" y="596.80" width="0.50" height="3.00" fill="#000"/>
<rect x="69.45" y="596.80" width="0.50" height="3.00" fill="#777"/>
<rect x="69.90" y="596.80" width="0.70" height="3.00" fill="#111"/>
<rect x="70.35" y="596.80" width="1.20" height="3.00" fill="#333"/>
<rect x="70.80" y="596.80" width="0.70" height="3.00" fill="#111"/>
<rect x="71.25" y="596.80" width="0.90" height="3.00" fill="#555"/>
<rect x="71.70" y="596.80" width="0.40" height="3.00" fill="#555"/>
<rect x="72.15" y="596.80" width="0.90" height="3.00" fill="#333"/>
<rect x="72.60" y="596.80" width="0.90" height="3.00" fill="#333"/>
<rect x="73.05" y="596.80" width="0.40" height="3.00" fill="#333"/>
<rect x="73.50" y="596.80" width="0.70" height="3.00" fill="#555"/>
<rect x="73.95" y="596.80" width="0.50" height="3.00" fill="#000"/>
<rect x="74.40" y="596.80" width="0.70" height="3.00" fill="#333"/>
<rect x="74.85" y="596.80" width="0.90" height="3.00" fill="#555"/>
<rect x="75.75" y="596.80" width="0.70" height="3.00" fill="#555"/>
<rect x="76.20" y="596.80" width="0.40" height="3.00" fill="#333"/>
<rect x="76.65" y="596.80" width="0.70" height="3.00" fill="#111"/>
<rect x="77.10" y="596.80" width="0.70" height="3.00" fill="#555"/>
<rect x="77.55" y="596.80" width="0.50" height="3.00" fill="#333"/>
<rect x="78.00" y="596.80" width="0.90" height="3.00" fill="#000"/>
<rect x="78.45" y="596.80" width="0.90" height="3.00" fill="#777"/>
<rect x="78.90" y="596.80" width="0.40" height="3.00" fill="#000"/>
<rect x="79.80" y="596.80" width="1.20" height="3.00" fill="#111"/>
<rect x="80.25" y="596.80" width="0.70" height="3.00" fill="#555"/>
<rect x="80.70" y="596.80" width="1.20" height="3.00" fill="#111"/>
<rect x="81.15" y="596.80" width="0.90" height="3.00" fill="#333"/>
<rect x="81.60" y="596.80" width="0.70" height="3.00" fill="#333"/>
<rect x="82.05" y="596.80" width="0.50" height="3.00" fill="#333"/>
<rect x="82.50" y="596.80" width="0.90" height="3.00" fill="#000"/>
<rect x="82.95" y="596.80" width="0.50" height="3.00" fill="#000"/>
<rect x="83.40" y="596.80" width="0.90" height="3.00" fill="#777"/>
<rect x="83.85" y="596.80" width="0.70" height="3.00" fill="#555"/>
<rect x="84.30" y="596.80" width="1.20" height="3.00" fill="#111"/>
<rect x="84.75" y="596.80" width="0.50" height="3.00" fill="#333"/>
<rect x="85.20" y="596.80" width="0.70" height="3.00" fill="#111"/>
<rect x="85.65" y="596.80" width="1.20" height="3.00" fill="#111"/>
<rect x="86.10" y="596.80" width="0.90" height="3.00" fill="#555"/>
<rect x="86.55" y="596.80" width="1.20" height="3.00" fill="#111"/>
<rect x="87.00" y="596.80" width="0.70" height="3.00" fill="#000"/>
<rect x="87.45" y="596.80" width="1.20" height="3.00" fill="#333"/>
<rect x="87.90" y="596.80" width="1.20" height="3.00" fill="#777"/>
<rect x="88.35" y="596.80" width="0.50" height="3.00" fill="#000"/>
<rect x="88.80" y="596.80" width="0.50" height="3.00" fill="#555"/>
<rect x="89.25" y="596.80" width="0.90" height="3.00" fill="#555"/>
<rect x="90.15" y="596.80" width="0.40" height="3.00" fill="#111"/>
<rect x="90.60" y="596.80" width="0.90" height="3.00" fill="#777"/>
<rect x="91.05" y="596.80" width="0.40" height="3.00" fill="#555"/>
<rect x="92.40" y="596.80" width="0.90" height="3.00" fill="#555"/>
<rect x="92.85" y="596.80" width="0.40" height="3.00" fill="#111"/>
<rect x="93.30" y="596.80" width="1.20" height="3.00" fill="#000"/>
<rect x="94.20" y="596.80" width="0.90" height="3.00" fill="#000"/>
<rect x="94.65" y="596.80" width="0.40" height="3.00" fill="#000"/>
<rect x="95.10" y="596.80" width="0.50" height="3.00" fill="#777"/>
<rect x="95.55" y="596.80" width="0.70" height="3.00" fill="#111"/>
<rect x="96.00" y="596.80" width="1.20" height="3.00" fill="#555"/>
<rect x="96.45" y="596.80" width="0.40" height="3.00" fill="#000"/>
<rect x="96.90" y="596.80" width="1.20" height="3.00" fill="#777"/>
<rect x="97.35" y="596.80" width="0.70" height="3.00" fill="#111"/>
<rect x="97.80" y="596.80" width="0.40" height="3.00" fill="#000"/>
<rect x="98.25" y="596.80" width="0.90" height="3.00" fill="#333"/>
<rect x="99.15" y="596.80" width="0.50" height="3.00" fill="#555"/>
<rect x="99.60" y="596.80" width="1.20" height="3.00" fill="#111"/>
<rect x="100.05" y="596.80" width="0.90" height="3.00" fill="#333"/>
<rect x="100.50" y="596.80" width="0.50" height="3.00" fill="#555"/>
<rect x="100.95" y="596.80" width="0.90" height="3.00" fill="#000"/>
<rect x="101.40" y="596.80" width="0.90" height="3.00" fill="#333"/>
<rect x="101.85" y="596.80" width="0.40" height="3.00" fill="#333"/>
<rect x="102.30" y="596.80" width="0.70" height="3.00" fill="#555"/>
<rect x="102.75" y="596.80" width="0.70" height="3.00" fill="#777"/>
<rect x="103.20" y="596.80" width="0.90" height="3.00" fill="#111"/>
<rect x="103.65" y="596.80" width="0.50" height="3.00" fill="#111"/>
<rect x="104.10" y="596.80" width="0.70" height="3.00" fill="#333"/>
<rect x="104.55" y="596.80" width="1.20" height="3.00" fill="#555"/>
<rect x="105.00" y="596.80" width="0.50" height="3.00" fill="#555"/>
<rect x="105.45" y="596.80" width="0.40" height="3.00" fill="#777"/>
<rect x="105.90" y="596.80" width="0.90" height="3.00" fill="#000"/>
<rect x="106.35" y="596.80" width="1.20" height="3.00" fill="#111"/>
<rect x="106.80" y="596.80" width="0.40" height="3.00" fill="#111"/>
<rect x="107.25" y="596.80" width="0.70" height="3.00" fill="#000"/>
<rect x="108.60" y="596.80" width="0.50" height="3.00" fill="#777"/>
<rect x="109.05" y="596.80" width="0.40" height="3.00" fill="#333"/>
<rect x="109.50" y="596.80" width="0.90" height="3.00" fill="#333"/>
<rect x="110.40" y="596.80" width="0.40" height="3.00" fill="#000"/>
<rect x="110.85" y="596.80" width="0.40" height="3.00" fill="#333"/>
<rect x="111.30" y="596.80" width="0.40" height="3.00" fill="#777"/>
<rect x="112.20" y="596.80" width="0.70" height="3.00" fill="#333"/>
<rect x="113.10" y="596.80" width="0.40" height="3.00" fill="#555"/>
<rect x="113.55" y="596.80" width="1.20" height="3.00" fill="#555"/>
<rect x="114.00" y="596.80" width="0.70" height="3.00" fill="#555"/>
<rect x="114.45" y="596.80" width="0.90" height="3.00" fill="#111"/>
<rect x="115.35" y="596.80" width="0.40" height="3.00" fill="#555"/>
<rect x="115.80" y="596.80" width="0.40" height="3.00" fill="#000"/>
<rect x="116.25" y="596.80" width="0.40" height="3.00" fill="#777"/>
<rect x="116.70" y="596.80" width="0.70" height="3.00" fill="#333"/>
<rect x="117.60" y="596.80" width="0.70" height="3.00" fill="#333"/>
<rect x="118.50" y="596.80" width="1.20" height="3.00" fill="#000"/>
<rect x="118.95" y="596.80" width="0.50" height="3.00" fill="#000"/>
<rect x="119.40" y="596.80" width="0.90" height="3.00" fill="#555"/>
<rect x="119.85" y="596.80" width="0.90" height="3.00" fill="#555"/>
<rect x="120.30" y="596.80" width="0.90" height="3.00" fill="#111"/>
<rect x="120.75" y="596.80" width="0.70" height="3.00" fill="#111"/>
<rect x="121.20" y="596.80" width="0.70" height="3.00" fill="#333"/>
<rect x="121.65" y="596.80" width="1.20" height="3.00" fill="#000"/>
<rect x="122.10" y="596.80" width="0.90" height="3.00" fill="#111"/>
<rect x="122.55" y="596.80" width="0.40" height="3.00" fill="#000"/>
<rect x="123.00" y="596.80" width="1.20" height="3.00" fill="#333"/>
<rect x="123.45" y="596.80" width="0.90" height="3.00" fill="#000"/>
<rect x="124.35" y="596.80" width="0.40" height="3.00" fill="#111"/>
<rect x="124.80" y="596.80" width="0.90" height="3.00" fill="#555"/>
<rect x="125.25" y="596.80" width="0.50" height="3.00" fill="#555"/>
<rect x="125.70" y="596.80" width="0.50" height="3.00" fill="#777"/>
<rect x="126.60" y="596.80" width="0.40" height="3.00" fill="#333"/>
<rect x="127.05" y="596.80" width="1.20" height="3.00" fill="#333"/>
<rect x="127.50" y="596.80" width="0.70" height="3.00" fill="#111"/>
<rect x="127.95" y="596.80" width="0.50" height="3.00" fill="#111"/>
<rect x="128.40" y="596.80" width="0.70" height="3.00" fill="#777"/>
<rect x="128.85" y="596.80" width="0.40" height="3.00" fill="#555"/>
<rect x="129.30" y="596.80" width="0.50" height="3.00" fill="#777"/>
<rect x="129.75" y="596.80" width="0.40" height="3.00" fill="#555"/>
<rect x="130.65" y="596.80" width="0.90" height="3.00" fill="#111"/>
<rect x="132.00" y="596.80" width="0.70" height="3.00" fill="#111"/>
<rect x="132.45" y="596.80" width="0.50" height="3.00" fill="#777"/>
<rect x="133.35" y="596.80" width="0.40" height="3.00" fill="#333"/>
<rect x="133.80" y="596.80" width="0.50" height="3.00" fill="#555"/>
<rect x="134.25" y="596.80" width="0.40" height="3.00" fill="#000"/>
<rect x="134.70" y="596.80" width="1.20" height="3.00" fill="#333"/>
<rect x="135.15" y="596.80" width="0.70" height="3.00" fill="#333"/>
<rect x="135.60" y="596.80" width="0.50" height="3.00" fill="#333"/>
<rect x="136.05" y="596.80" width="0.50" height="3.00" fill="#000"/>
<rect x="136.95" y="596.80" width="0.70" height="3.00" fill="#111"/>
<rect x="137.40" y="596.80" width="0.40" height="3.00" fill="#111"/>
<rect x="137.85" y="596.80" width="0.90" height="3.00" fill="#777"/>
<rect x="138.30" y="596.80" width="0.90" height="3.00" fill="#000"/>
<rect x="138.75" y="596.80" width="1.20" height="3.00" fill="#111"/>
<rect x="139.20" y="596.80" width="0.40" height="3.00" fill="#111"/>
<rect x="139.65" y="596.80" width="0.70" height="3.00" fill="#555"/>
<rect x="140.55" y="596.80" width="0.90" height="3.00" fill="#000"/>
<rect x="141.00" y="596.80" width="1.20" height="3.00" fill="#333"/>
<rect x="141.45" y="596.80" width="0.40" height="3.00" fill="#333"/>
<rect x="141.90" y="596.80" width="0.90" height="3.00" fill="#555"/>
<rect x="142.35" y="596.80" width="0.40" height="3.00" fill="#555"/>
<rect x="143.25" y="596.80" width="0.40" height="3.00" fill="#555"/>
<rect x="143.70" y="596.80" width="0.70" height="3.00" fill="#555"/>
<rect x="144.15" y="596.80" width="0.50" height="3.00" fill="#000"/>
<rect x="144.60" y="596.80" width="0.50" height="3.00" fill="#555"/>
<rect x="145.05" y="596.80" width="1.20" height="3.00" fill="#333"/>
<rect x="145.50" y="596.80" width="0.50" height="3.00" fill="#111"/>
<rect x="145.95" y="596.80" width="0.50" height="3.00" fill="#777"/>
<rect x="146.40" y="596.80" width="0.40" height="3.00" fill="#000"/>
<rect x="146.85" y="596.80" width="0.50" height="3.00" fill="#333"/>
<rect x="147.30" y="596.80" width="0.40" height="3.00" fill="#555"/>
<rect x="147.75" y="596.80" width="1.20" height="3.00" fill="#555"/>
<rect x="148.20" y="596.80" width="1.20" height="3.00" fill="#111"/>
<rect x="148.65" y="596.80" width="0.50" height="3.00" fill="#777"/>
<rect x="149.10" y="596.80" width="0.50" height="3.00" fill="#555"/>
<rect x="149.55" y="596.80" width="0.50" height="3.00" fill="#000"/>
<rect x="150.00" y="596.80" width="1.20" height="3.00" fill="#111"/>
<rect x="150.45" y="596.80" width="0.40" height="3.00" fill="#111"/>
<rect x="150.90" y="596.80" width="0.50" height="3.00" fill="#000"/>
<rect x="152.25" y="596.80" width="0.70" height="3.00" fill="#000"/>
<rect x="152.70" y="596.80" width="0.90" height="3.00" fill="#777"/>
<rect x="153.60" y="596.80" width="0.90" height="3.00" fill="#333"/>
<rect x="154.05" y="596.80" width="0.90" height="3.00" fill="#555"/>
<rect x="154.50" y="596.80" width="0.90" height="3.00" fill="#777"/>
<rect x="154.95" y="596.80" width="0.40" height="3.00" fill="#000"/>
<rect x="155.40" y="596.80" width="0.90" height="3.00" fill="#555"/>
<rect x="155.85" y="596.80" width="1.20" height="3.00" fill="#555"/>
<rect x="157.20" y="596.80" width="0.40" height="3.00" fill="#111"/>
<rect x="157.65" y="596.80" width="0.70" height="3.00" fill="#000"/>
<rect x="158.55" y="596.80" width="0.40" height="3.00" fill="#000"/>
<rect x="159.00" y="596.80" width="0.40" height="3.00" fill="#333"/>
<rect x="159.45" y="596.80" width="1.20" height="3.00" fill="#000"/>
<rect x="159.90" y="596.80" width="1.20" height="3.00" fill="#555"/>
<rect x="160.35" y="596.80" width="0.50" height="3.00" fill="#000"/>
<rect x="161.70" y="596.80" width="0.40" height="3.00" fill="#111"/>
<rect x="162.15" y="596.80" width="0.90" height="3.00" fill="#333"/>
<rect x="163.50" y="596.80" width="0.50" height="3.00" fill="#000"/>
<rect x="164.40" y="596.80" width="0.70" height="3.00" fill="#111"/>
<rect x="164.85" y="596.80" width="1.20" height="3.00" fill="#333"/>
<rect x="165.75" y="596.80" width="0.70" height="3.00" fill="#777"/>
<rect x="166.65" y="596.80" width="1.20" height="3.00" fill="#333"/>
<rect x="167.10" y="596.80" width="0.50" height="3.00" fill="#333"/>
<rect x="167.55" y="596.80" width="0.50" height="3.00" fill="#111"/>
<rect x="168.00" y="596.80" width="0.70" height="3.00" fill="#333"/>
<rect x="168.90" y="596.80" width="0.70" height="3.00" fill="#000"/>
<rect x="169.35" y="596.80" width="0.40" height="3.00" fill="#333"/>
<rect x="170.25" y="596.80" width="1.20" height="3.00" fill="#777"/>
<rect x="170.70" y="596.80" width="0.40" height="3.00" fill="#333"/>
<rect x="171.60" y="596.80" width="0.90" height="3.00" fill="#333"/>
<path d="M38.2,626.6 C42,629.6 50,630.5 75,631 L140,631.2 C155,631.3 165,631.4 171.6,631.6 L171.6,637.8 C165,635 155,633.6 140,633.2 L75,632.8 C50,632.4 42,632.1 38.2,631.8 Z" fill="#cdcdcd" stroke="none" stroke-width="0.6"/>
<line x1="37.80" y1="631.60" x2="172.20" y2="631.60" stroke="#b5b5b5" stroke-width="0.5"/>
<polyline fill="none" stroke="#7cc35a" stroke-width="0.85" stroke-linejoin="round" points="38.0,578.3 40.0,567.6 42.0,564.5 44.1,562.2 46.1,555.5 48.8,553.4 50.8,553.4 53.5,550.1 56.2,548.7 59.6,547.4 64.3,550.3 71.0,553.4 80.4,560.8 89.8,567.6 96.6,570.3 100.0,571.5 105.8,573.7 111.5,577.3 115.9,580.9 121.6,584.2 126.0,582.8 129.6,581.9 132.5,584.8 137.5,583.1 141.8,586.7 146.2,590.6 148.3,589.6 151.2,592.5 153.4,590.3 156.3,592.0 159.2,590.0 162.0,591.0 165.7,588.9 168.5,588.1 170.7,585.3 171.6,582.0"/>
<rect x="37.8" y="544.7" width="134.39999999999998" height="104.19999999999993" fill="none" stroke="#2a2a2a" stroke-width="1.1"/>
<line x1="34.70" y1="547.10" x2="37.80" y2="547.10" stroke="#111" stroke-width="0.7"/>
<text x="31.60" y="549.08" font-size="5.5" text-anchor="end" fill="#222" stroke="#222" stroke-width="0.07">0.20</text>
<line x1="34.70" y1="556.60" x2="37.80" y2="556.60" stroke="#111" stroke-width="0.7"/>
<text x="31.60" y="558.58" font-size="5.5" text-anchor="end" fill="#222" stroke="#222" stroke-width="0.07">0.15</text>
<line x1="34.70" y1="566.10" x2="37.80" y2="566.10" stroke="#111" stroke-width="0.7"/>
<text x="31.60" y="568.08" font-size="5.5" text-anchor="end" fill="#222" stroke="#222" stroke-width="0.07">0.10</text>
<line x1="34.70" y1="575.60" x2="37.80" y2="575.60" stroke="#111" stroke-width="0.7"/>
<text x="31.60" y="577.58" font-size="5.5" text-anchor="end" fill="#222" stroke="#222" stroke-width="0.07">0.05</text>
<line x1="34.70" y1="585.00" x2="37.80" y2="585.00" stroke="#111" stroke-width="0.7"/>
<text x="31.60" y="586.98" font-size="5.5" text-anchor="end" fill="#222" stroke="#222" stroke-width="0.07">0.00</text>
<line x1="34.70" y1="594.50" x2="37.80" y2="594.50" stroke="#111" stroke-width="0.7"/>
<text x="31.60" y="596.48" font-size="5.5" text-anchor="end" fill="#222" stroke="#222" stroke-width="0.07">−0.05</text>
<line x1="34.70" y1="622.30" x2="37.80" y2="622.30" stroke="#111" stroke-width="0.7"/>
<text x="31.60" y="624.28" font-size="5.5" text-anchor="end" fill="#222" stroke="#222" stroke-width="0.07">1</text>
<line x1="34.70" y1="631.30" x2="37.80" y2="631.30" stroke="#111" stroke-width="0.7"/>
<text x="31.60" y="633.28" font-size="5.5" text-anchor="end" fill="#222" stroke="#222" stroke-width="0.07">0</text>
<line x1="34.70" y1="640.30" x2="37.80" y2="640.30" stroke="#111" stroke-width="0.7"/>
<text x="31.60" y="642.28" font-size="5.5" text-anchor="end" fill="#222" stroke="#222" stroke-width="0.07">−1</text>
<line x1="79.60" y1="648.90" x2="79.60" y2="651.30" stroke="#111" stroke-width="0.6"/>
<text x="79.60" y="659.84" font-size="5.4" text-anchor="middle" fill="#222" stroke="#222" stroke-width="0.07">2000</text>
<line x1="121.70" y1="648.90" x2="121.70" y2="651.30" stroke="#111" stroke-width="0.6"/>
<text x="121.70" y="659.84" font-size="5.4" text-anchor="middle" fill="#222" stroke="#222" stroke-width="0.07">4000</text>
<line x1="163.90" y1="648.90" x2="163.90" y2="651.30" stroke="#111" stroke-width="0.6"/>
<text x="163.90" y="659.84" font-size="5.4" text-anchor="middle" fill="#222" stroke="#222" stroke-width="0.07">6000</text>
<text x="104.60" y="670.40" font-size="7.4" text-anchor="middle" fill="#333" font-weight="bold" textLength="54.00" lengthAdjust="spacingAndGlyphs">Rank in ordered dataset</text>
<text x="104.50" y="531.72" font-size="7.0" text-anchor="middle" fill="#111" stroke="#111" stroke-width="0.07">Cellular response to oxygen-containing</text>
<text x="104.50" y="540.32" font-size="7.0" text-anchor="middle" fill="#111" stroke="#111" stroke-width="0.07">compound</text>
<text transform="translate(13.7,570.6) rotate(-90)" font-size="6.8" font-weight="bold" text-anchor="middle" fill="#333" textLength="59" lengthAdjust="spacingAndGlyphs">Running enrichment score</text>
<text transform="translate(13.7,631.4) rotate(-90)" font-size="6.8" font-weight="bold" text-anchor="middle" fill="#333" textLength="40.6" lengthAdjust="spacingAndGlyphs">Ranked list metric</text>
<rect x="206.80" y="599.80" width="26.10" height="14.50" fill="#da3530"/>
<rect x="207.66" y="599.8" width="1.18" height="14.5" fill="#ffffff" fill-opacity="0.09"/>
<rect x="212.70" y="599.8" width="1.26" height="14.5" fill="#ffffff" fill-opacity="0.12"/>
<rect x="213.97" y="599.8" width="0.82" height="14.5" fill="#000000" fill-opacity="0.09"/>
<rect x="214.79" y="599.8" width="0.96" height="14.5" fill="#000000" fill-opacity="0.07"/>
<rect x="215.75" y="599.8" width="1.25" height="14.5" fill="#ffffff" fill-opacity="0.10"/>
<rect x="217.91" y="599.8" width="1.13" height="14.5" fill="#000000" fill-opacity="0.10"/>
<rect x="219.85" y="599.8" width="1.07" height="14.5" fill="#ffffff" fill-opacity="0.11"/>
<rect x="220.92" y="599.8" width="1.05" height="14.5" fill="#ffffff" fill-opacity="0.13"/>
<rect x="221.98" y="599.8" width="1.38" height="14.5" fill="#000000" fill-opacity="0.14"/>
<rect x="227.80" y="599.8" width="0.77" height="14.5" fill="#ffffff" fill-opacity="0.10"/>
<rect x="228.57" y="599.8" width="1.01" height="14.5" fill="#ffffff" fill-opacity="0.13"/>
<rect x="230.28" y="599.8" width="1.26" height="14.5" fill="#000000" fill-opacity="0.07"/>
<rect x="232.90" y="599.80" width="29.30" height="14.50" fill="#ee6b50"/>
<rect x="234.14" y="599.8" width="0.77" height="14.5" fill="#000000" fill-opacity="0.11"/>
<rect x="237.59" y="599.8" width="0.98" height="14.5" fill="#000000" fill-opacity="0.06"/>
<rect x="238.56" y="599.8" width="1.26" height="14.5" fill="#ffffff" fill-opacity="0.07"/>
<rect x="239.82" y="599.8" width="1.24" height="14.5" fill="#000000" fill-opacity="0.11"/>
<rect x="242.96" y="599.8" width="1.12" height="14.5" fill="#ffffff" fill-opacity="0.06"/>
<rect x="244.09" y="599.8" width="1.11" height="14.5" fill="#ffffff" fill-opacity="0.13"/>
<rect x="245.20" y="599.8" width="0.80" height="14.5" fill="#000000" fill-opacity="0.07"/>
<rect x="252.00" y="599.8" width="0.61" height="14.5" fill="#ffffff" fill-opacity="0.10"/>
<rect x="252.61" y="599.8" width="0.91" height="14.5" fill="#ffffff" fill-opacity="0.10"/>
<rect x="253.52" y="599.8" width="0.77" height="14.5" fill="#ffffff" fill-opacity="0.06"/>
<rect x="254.29" y="599.8" width="1.53" height="14.5" fill="#ffffff" fill-opacity="0.11"/>
<rect x="255.82" y="599.8" width="0.63" height="14.5" fill="#ffffff" fill-opacity="0.11"/>
<rect x="256.45" y="599.8" width="1.34" height="14.5" fill="#000000" fill-opacity="0.07"/>
<rect x="262.20" y="599.80" width="12.50" height="14.50" fill="#f4a68b"/>
<rect x="262.20" y="599.8" width="0.98" height="14.5" fill="#ffffff" fill-opacity="0.06"/>
<rect x="266.66" y="599.8" width="0.89" height="14.5" fill="#ffffff" fill-opacity="0.12"/>
<rect x="267.54" y="599.8" width="1.25" height="14.5" fill="#000000" fill-opacity="0.09"/>
<rect x="268.79" y="599.8" width="0.62" height="14.5" fill="#000000" fill-opacity="0.05"/>
<rect x="272.14" y="599.8" width="1.08" height="14.5" fill="#ffffff" fill-opacity="0.12"/>
<rect x="274.70" y="599.80" width="15.30" height="14.50" fill="#f6dacf"/>
<rect x="276.66" y="599.8" width="1.17" height="14.5" fill="#000000" fill-opacity="0.05"/>
<rect x="278.64" y="599.8" width="1.58" height="14.5" fill="#000000" fill-opacity="0.06"/>
<rect x="284.64" y="599.8" width="1.18" height="14.5" fill="#ffffff" fill-opacity="0.13"/>
<rect x="285.81" y="599.8" width="0.83" height="14.5" fill="#ffffff" fill-opacity="0.09"/>
<rect x="288.24" y="599.8" width="0.70" height="14.5" fill="#ffffff" fill-opacity="0.09"/>
<rect x="290.00" y="599.80" width="11.20" height="14.50" fill="#e9ebf4"/>
<rect x="290.69" y="599.8" width="0.63" height="14.5" fill="#000000" fill-opacity="0.09"/>
<rect x="291.31" y="599.8" width="1.14" height="14.5" fill="#ffffff" fill-opacity="0.13"/>
<rect x="298.20" y="599.8" width="1.29" height="14.5" fill="#ffffff" fill-opacity="0.06"/>
<rect x="300.55" y="599.8" width="0.65" height="14.5" fill="#000000" fill-opacity="0.12"/>
<rect x="301.20" y="599.80" width="20.90" height="14.50" fill="#bcd4e9"/>
<rect x="305.27" y="599.8" width="0.95" height="14.5" fill="#ffffff" fill-opacity="0.07"/>
<rect x="308.54" y="599.8" width="0.80" height="14.5" fill="#ffffff" fill-opacity="0.12"/>
<rect x="309.34" y="599.8" width="1.33" height="14.5" fill="#ffffff" fill-opacity="0.06"/>
<rect x="310.67" y="599.8" width="1.51" height="14.5" fill="#000000" fill-opacity="0.09"/>
<rect x="312.79" y="599.8" width="1.04" height="14.5" fill="#000000" fill-opacity="0.09"/>
<rect x="315.58" y="599.8" width="1.51" height="14.5" fill="#000000" fill-opacity="0.13"/>
<rect x="319.83" y="599.8" width="1.18" height="14.5" fill="#ffffff" fill-opacity="0.11"/>
<rect x="321.01" y="599.8" width="1.05" height="14.5" fill="#ffffff" fill-opacity="0.13"/>
<rect x="322.10" y="599.80" width="15.40" height="14.50" fill="#78b0dc"/>
<rect x="322.10" y="599.8" width="0.84" height="14.5" fill="#ffffff" fill-opacity="0.07"/>
<rect x="323.97" y="599.8" width="1.22" height="14.5" fill="#ffffff" fill-opacity="0.13"/>
<rect x="325.19" y="599.8" width="0.93" height="14.5" fill="#000000" fill-opacity="0.13"/>
<rect x="326.12" y="599.8" width="0.71" height="14.5" fill="#ffffff" fill-opacity="0.06"/>
<rect x="328.20" y="599.8" width="1.12" height="14.5" fill="#000000" fill-opacity="0.10"/>
<rect x="331.88" y="599.8" width="1.12" height="14.5" fill="#000000" fill-opacity="0.07"/>
<rect x="333.00" y="599.8" width="1.28" height="14.5" fill="#ffffff" fill-opacity="0.12"/>
<rect x="335.50" y="599.8" width="0.85" height="14.5" fill="#ffffff" fill-opacity="0.05"/>
<rect x="336.35" y="599.8" width="1.02" height="14.5" fill="#000000" fill-opacity="0.10"/>
<rect x="337.50" y="599.80" width="8.20" height="14.50" fill="#3c82c4"/>
<rect x="337.50" y="599.8" width="0.71" height="14.5" fill="#000000" fill-opacity="0.13"/>
<rect x="338.21" y="599.8" width="1.13" height="14.5" fill="#000000" fill-opacity="0.09"/>
<rect x="208.75" y="596.80" width="0.50" height="3.00" fill="#333"/>
<rect x="211.00" y="596.80" width="0.70" height="3.00" fill="#333"/>
<rect x="211.45" y="596.80" width="0.70" height="3.00" fill="#333"/>
<rect x="211.90" y="596.80" width="0.90" height="3.00" fill="#777"/>
<rect x="213.25" y="596.80" width="0.70" height="3.00" fill="#555"/>
<rect x="213.70" y="596.80" width="1.20" height="3.00" fill="#333"/>
<rect x="214.60" y="596.80" width="0.70" height="3.00" fill="#777"/>
<rect x="215.05" y="596.80" width="0.40" height="3.00" fill="#111"/>
<rect x="216.40" y="596.80" width="0.40" height="3.00" fill="#777"/>
<rect x="216.85" y="596.80" width="0.50" height="3.00" fill="#111"/>
<rect x="217.75" y="596.80" width="0.50" height="3.00" fill="#111"/>
<rect x="219.10" y="596.80" width="1.20" height="3.00" fill="#000"/>
<rect x="221.35" y="596.80" width="0.50" height="3.00" fill="#777"/>
<rect x="221.80" y="596.80" width="0.90" height="3.00" fill="#000"/>
<rect x="222.70" y="596.80" width="0.50" height="3.00" fill="#111"/>
<rect x="223.15" y="596.80" width="1.20" height="3.00" fill="#000"/>
<rect x="223.60" y="596.80" width="0.50" height="3.00" fill="#555"/>
<rect x="224.05" y="596.80" width="0.50" height="3.00" fill="#777"/>
<rect x="225.40" y="596.80" width="0.70" height="3.00" fill="#555"/>
<rect x="226.30" y="596.80" width="0.70" height="3.00" fill="#555"/>
<rect x="226.75" y="596.80" width="0.90" height="3.00" fill="#000"/>
<rect x="227.20" y="596.80" width="0.70" height="3.00" fill="#000"/>
<rect x="227.65" y="596.80" width="0.40" height="3.00" fill="#333"/>
<rect x="228.55" y="596.80" width="0.90" height="3.00" fill="#555"/>
<rect x="229.45" y="596.80" width="0.50" height="3.00" fill="#555"/>
<rect x="230.35" y="596.80" width="0.70" height="3.00" fill="#333"/>
<rect x="230.80" y="596.80" width="1.20" height="3.00" fill="#777"/>
<rect x="231.70" y="596.80" width="0.90" height="3.00" fill="#333"/>
<rect x="232.15" y="596.80" width="1.20" height="3.00" fill="#000"/>
<rect x="233.05" y="596.80" width="0.90" height="3.00" fill="#555"/>
<rect x="233.50" y="596.80" width="0.70" height="3.00" fill="#777"/>
<rect x="233.95" y="596.80" width="0.50" height="3.00" fill="#555"/>
<rect x="234.85" y="596.80" width="0.70" height="3.00" fill="#333"/>
<rect x="235.30" y="596.80" width="0.40" height="3.00" fill="#000"/>
<rect x="235.75" y="596.80" width="1.20" height="3.00" fill="#555"/>
<rect x="236.20" y="596.80" width="0.40" height="3.00" fill="#555"/>
<rect x="236.65" y="596.80" width="0.40" height="3.00" fill="#000"/>
<rect x="237.10" y="596.80" width="0.90" height="3.00" fill="#777"/>
<rect x="238.00" y="596.80" width="1.20" height="3.00" fill="#777"/>
<rect x="241.15" y="596.80" width="0.90" height="3.00" fill="#111"/>
<rect x="241.60" y="596.80" width="0.50" height="3.00" fill="#000"/>
<rect x="242.05" y="596.80" width="0.40" height="3.00" fill="#000"/>
<rect x="242.50" y="596.80" width="0.50" height="3.00" fill="#333"/>
<rect x="243.40" y="596.80" width="0.70" height="3.00" fill="#111"/>
<rect x="243.85" y="596.80" width="0.70" height="3.00" fill="#000"/>
<rect x="244.30" y="596.80" width="1.20" height="3.00" fill="#000"/>
<rect x="244.75" y="596.80" width="1.20" height="3.00" fill="#000"/>
<rect x="246.10" y="596.80" width="0.90" height="3.00" fill="#555"/>
<rect x="246.55" y="596.80" width="0.90" height="3.00" fill="#777"/>
<rect x="248.35" y="596.80" width="0.90" height="3.00" fill="#777"/>
<rect x="248.80" y="596.80" width="0.90" height="3.00" fill="#111"/>
<rect x="250.15" y="596.80" width="0.40" height="3.00" fill="#000"/>
<rect x="251.50" y="596.80" width="0.40" height="3.00" fill="#111"/>
<rect x="251.95" y="596.80" width="0.70" height="3.00" fill="#777"/>
<rect x="252.40" y="596.80" width="0.50" height="3.00" fill="#000"/>
<rect x="252.85" y="596.80" width="0.50" height="3.00" fill="#000"/>
<rect x="253.30" y="596.80" width="1.20" height="3.00" fill="#555"/>
<rect x="253.75" y="596.80" width="0.70" height="3.00" fill="#000"/>
<rect x="254.65" y="596.80" width="0.40" height="3.00" fill="#777"/>
<rect x="255.10" y="596.80" width="0.70" height="3.00" fill="#333"/>
<rect x="256.00" y="596.80" width="0.90" height="3.00" fill="#777"/>
<rect x="256.45" y="596.80" width="0.70" height="3.00" fill="#777"/>
<rect x="257.35" y="596.80" width="0.50" height="3.00" fill="#111"/>
<rect x="258.25" y="596.80" width="0.50" height="3.00" fill="#555"/>
<rect x="258.70" y="596.80" width="0.90" height="3.00" fill="#333"/>
<rect x="260.05" y="596.80" width="0.40" height="3.00" fill="#777"/>
<rect x="261.85" y="596.80" width="1.20" height="3.00" fill="#000"/>
<rect x="267.25" y="596.80" width="0.70" height="3.00" fill="#333"/>
<rect x="269.50" y="596.80" width="0.50" height="3.00" fill="#777"/>
<rect x="269.95" y="596.80" width="1.20" height="3.00" fill="#555"/>
<rect x="270.85" y="596.80" width="1.20" height="3.00" fill="#555"/>
<rect x="271.75" y="596.80" width="0.50" height="3.00" fill="#333"/>
<rect x="273.55" y="596.80" width="0.70" height="3.00" fill="#777"/>
<rect x="275.35" y="596.80" width="0.70" height="3.00" fill="#000"/>
<rect x="278.95" y="596.80" width="0.50" height="3.00" fill="#000"/>
<rect x="279.40" y="596.80" width="0.70" height="3.00" fill="#333"/>
<rect x="284.35" y="596.80" width="0.70" height="3.00" fill="#777"/>
<rect x="284.80" y="596.80" width="0.70" height="3.00" fill="#777"/>
<rect x="285.70" y="596.80" width="0.50" height="3.00" fill="#777"/>
<rect x="290.65" y="596.80" width="0.50" height="3.00" fill="#111"/>
<rect x="291.55" y="596.80" width="0.40" height="3.00" fill="#777"/>
<rect x="296.05" y="596.80" width="0.70" height="3.00" fill="#777"/>
<rect x="296.95" y="596.80" width="1.20" height="3.00" fill="#555"/>
<rect x="297.40" y="596.80" width="0.50" height="3.00" fill="#333"/>
<rect x="299.20" y="596.80" width="0.70" height="3.00" fill="#333"/>
<rect x="299.65" y="596.80" width="1.20" height="3.00" fill="#000"/>
<rect x="300.55" y="596.80" width="1.20" height="3.00" fill="#555"/>
<rect x="301.00" y="596.80" width="0.50" height="3.00" fill="#333"/>
<rect x="304.15" y="596.80" width="0.70" height="3.00" fill="#333"/>
<rect x="305.05" y="596.80" width="0.90" height="3.00" fill="#555"/>
<rect x="305.50" y="596.80" width="0.50" height="3.00" fill="#111"/>
<rect x="308.20" y="596.80" width="0.50" height="3.00" fill="#000"/>
<rect x="310.00" y="596.80" width="0.90" height="3.00" fill="#000"/>
<rect x="311.35" y="596.80" width="0.40" height="3.00" fill="#555"/>
<rect x="313.15" y="596.80" width="0.70" height="3.00" fill="#111"/>
<rect x="314.50" y="596.80" width="0.90" height="3.00" fill="#777"/>
<rect x="315.85" y="596.80" width="0.90" height="3.00" fill="#555"/>
<rect x="316.75" y="596.80" width="1.20" height="3.00" fill="#333"/>
<rect x="317.65" y="596.80" width="0.90" height="3.00" fill="#000"/>
<rect x="319.00" y="596.80" width="1.20" height="3.00" fill="#000"/>
<rect x="321.70" y="596.80" width="0.50" height="3.00" fill="#333"/>
<rect x="324.85" y="596.80" width="0.70" height="3.00" fill="#111"/>
<rect x="325.75" y="596.80" width="1.20" height="3.00" fill="#333"/>
<rect x="328.90" y="596.80" width="0.90" height="3.00" fill="#111"/>
<rect x="329.80" y="596.80" width="0.50" height="3.00" fill="#777"/>
<rect x="331.15" y="596.80" width="0.40" height="3.00" fill="#000"/>
<rect x="332.95" y="596.80" width="0.50" height="3.00" fill="#777"/>
<rect x="334.30" y="596.80" width="0.70" height="3.00" fill="#111"/>
<rect x="334.75" y="596.80" width="1.20" height="3.00" fill="#555"/>
<rect x="338.35" y="596.80" width="0.90" height="3.00" fill="#555"/>
<rect x="338.80" y="596.80" width="0.70" height="3.00" fill="#111"/>
<rect x="339.25" y="596.80" width="0.70" height="3.00" fill="#000"/>
<rect x="339.70" y="596.80" width="0.70" height="3.00" fill="#777"/>
<rect x="340.60" y="596.80" width="1.20" height="3.00" fill="#555"/>
<rect x="341.50" y="596.80" width="0.70" height="3.00" fill="#111"/>
<rect x="344.65" y="596.80" width="0.40" height="3.00" fill="#555"/>
<path d="M207.2,626.2 C212,629.5 220,630.8 245,631.2 L335,631.4 C340,631.4 342,631 343.5,630.2 L345.2,630.5 L345.2,645 C344.2,641 343,636.5 339,635 L245,633.6 C220,633.2 212,632.5 207.2,631.9 Z" fill="#cdcdcd" stroke="none" stroke-width="0.6"/>
<line x1="206.80" y1="631.60" x2="345.70" y2="631.60" stroke="#b5b5b5" stroke-width="0.5"/>
<polyline fill="none" stroke="#7cc35a" stroke-width="0.85" stroke-linejoin="round" points="207.6,583.2 210.0,568.1 211.5,561.6 213.7,558.0 215.8,553.7 217.3,552.2 219.4,554.4 221.6,550.0 223.0,549.0 225.2,550.0 228.1,552.2 233.1,555.8 237.5,559.4 241.8,561.6 245.4,563.8 251.2,568.1 255.5,568.5 258.4,569.5 262.0,569.8 265.6,568.1 268.5,570.3 270.7,569.2 275.7,575.3 280.0,578.8 283.7,580.2 286.5,582.4 289.4,574.4 295.2,581.4 298.8,582.4 301.0,580.9 305.3,585.3 308.2,584.2 311.8,586.7 316.1,588.4 319.0,586.3 323.3,590.3 327.0,593.5 329.1,590.3 330.6,585.7 334.2,587.4 336.3,585.3 339.2,588.9 341.4,584.8 344.8,586.7"/>
<rect x="206.8" y="544.7" width="138.89999999999998" height="104.19999999999993" fill="none" stroke="#2a2a2a" stroke-width="1.1"/>
<line x1="203.70" y1="553.80" x2="206.80" y2="553.80" stroke="#111" stroke-width="0.7"/>
<text x="200.60" y="555.78" font-size="5.5" text-anchor="end" fill="#222" stroke="#222" stroke-width="0.07">0.20</text>
<line x1="203.70" y1="562.30" x2="206.80" y2="562.30" stroke="#111" stroke-width="0.7"/>
<text x="200.60" y="564.28" font-size="5.5" text-anchor="end" fill="#222" stroke="#222" stroke-width="0.07">0.15</text>
<line x1="203.70" y1="570.70" x2="206.80" y2="570.70" stroke="#111" stroke-width="0.7"/>
<text x="200.60" y="572.68" font-size="5.5" text-anchor="end" fill="#222" stroke="#222" stroke-width="0.07">0.10</text>
<line x1="203.70" y1="578.90" x2="206.80" y2="578.90" stroke="#111" stroke-width="0.7"/>
<text x="200.60" y="580.88" font-size="5.5" text-anchor="end" fill="#222" stroke="#222" stroke-width="0.07">0.05</text>
<line x1="203.70" y1="587.20" x2="206.80" y2="587.20" stroke="#111" stroke-width="0.7"/>
<text x="200.60" y="589.18" font-size="5.5" text-anchor="end" fill="#222" stroke="#222" stroke-width="0.07">0.00</text>
<line x1="203.70" y1="595.60" x2="206.80" y2="595.60" stroke="#111" stroke-width="0.7"/>
<text x="200.60" y="597.58" font-size="5.5" text-anchor="end" fill="#222" stroke="#222" stroke-width="0.07">−0.05</text>
<line x1="203.70" y1="622.30" x2="206.80" y2="622.30" stroke="#111" stroke-width="0.7"/>
<text x="200.60" y="624.28" font-size="5.5" text-anchor="end" fill="#222" stroke="#222" stroke-width="0.07">1</text>
<line x1="203.70" y1="631.30" x2="206.80" y2="631.30" stroke="#111" stroke-width="0.7"/>
<text x="200.60" y="633.28" font-size="5.5" text-anchor="end" fill="#222" stroke="#222" stroke-width="0.07">0</text>
<line x1="203.70" y1="640.30" x2="206.80" y2="640.30" stroke="#111" stroke-width="0.7"/>
<text x="200.60" y="642.28" font-size="5.5" text-anchor="end" fill="#222" stroke="#222" stroke-width="0.07">−1</text>
<line x1="250.50" y1="648.90" x2="250.50" y2="651.30" stroke="#111" stroke-width="0.6"/>
<text x="250.50" y="659.84" font-size="5.4" text-anchor="middle" fill="#222" stroke="#222" stroke-width="0.07">2000</text>
<line x1="293.20" y1="648.90" x2="293.20" y2="651.30" stroke="#111" stroke-width="0.6"/>
<text x="293.20" y="659.84" font-size="5.4" text-anchor="middle" fill="#222" stroke="#222" stroke-width="0.07">4000</text>
<line x1="335.80" y1="648.90" x2="335.80" y2="651.30" stroke="#111" stroke-width="0.6"/>
<text x="335.80" y="659.84" font-size="5.4" text-anchor="middle" fill="#222" stroke="#222" stroke-width="0.07">6000</text>
<text x="273.90" y="670.40" font-size="7.4" text-anchor="middle" fill="#333" font-weight="bold" textLength="54.00" lengthAdjust="spacingAndGlyphs">Rank in ordered dataset</text>
<text x="275.60" y="540.22" font-size="7.0" text-anchor="middle" fill="#111" stroke="#111" stroke-width="0.07">Response to oxygen levels</text>
<rect x="373.90" y="599.80" width="25.40" height="14.50" fill="#da3530"/>
<rect x="374.53" y="599.8" width="0.73" height="14.5" fill="#ffffff" fill-opacity="0.07"/>
<rect x="375.26" y="599.8" width="0.78" height="14.5" fill="#000000" fill-opacity="0.10"/>
<rect x="376.04" y="599.8" width="1.56" height="14.5" fill="#ffffff" fill-opacity="0.07"/>
<rect x="379.04" y="599.8" width="1.06" height="14.5" fill="#000000" fill-opacity="0.06"/>
<rect x="381.57" y="599.8" width="0.65" height="14.5" fill="#000000" fill-opacity="0.10"/>
<rect x="382.21" y="599.8" width="1.36" height="14.5" fill="#ffffff" fill-opacity="0.09"/>
<rect x="384.31" y="599.8" width="1.46" height="14.5" fill="#000000" fill-opacity="0.12"/>
<rect x="386.54" y="599.8" width="1.54" height="14.5" fill="#000000" fill-opacity="0.10"/>
<rect x="388.08" y="599.8" width="1.20" height="14.5" fill="#ffffff" fill-opacity="0.12"/>
<rect x="389.28" y="599.8" width="0.94" height="14.5" fill="#000000" fill-opacity="0.11"/>
<rect x="391.66" y="599.8" width="1.59" height="14.5" fill="#000000" fill-opacity="0.13"/>
<rect x="395.46" y="599.8" width="0.85" height="14.5" fill="#ffffff" fill-opacity="0.08"/>
<rect x="396.31" y="599.8" width="1.13" height="14.5" fill="#000000" fill-opacity="0.07"/>
<rect x="397.44" y="599.8" width="1.27" height="14.5" fill="#000000" fill-opacity="0.14"/>
<rect x="399.30" y="599.80" width="20.90" height="14.50" fill="#ec6a4e"/>
<rect x="407.80" y="599.8" width="0.89" height="14.5" fill="#ffffff" fill-opacity="0.06"/>
<rect x="409.88" y="599.8" width="1.11" height="14.5" fill="#000000" fill-opacity="0.10"/>
<rect x="411.00" y="599.8" width="1.53" height="14.5" fill="#ffffff" fill-opacity="0.13"/>
<rect x="414.92" y="599.8" width="1.34" height="14.5" fill="#000000" fill-opacity="0.10"/>
<rect x="420.20" y="599.80" width="13.90" height="14.50" fill="#f2a28a"/>
<rect x="420.20" y="599.8" width="0.91" height="14.5" fill="#ffffff" fill-opacity="0.07"/>
<rect x="424.02" y="599.8" width="0.92" height="14.5" fill="#000000" fill-opacity="0.08"/>
<rect x="424.94" y="599.8" width="1.59" height="14.5" fill="#ffffff" fill-opacity="0.06"/>
<rect x="427.19" y="599.8" width="1.04" height="14.5" fill="#000000" fill-opacity="0.13"/>
<rect x="432.60" y="599.8" width="0.74" height="14.5" fill="#000000" fill-opacity="0.12"/>
<rect x="434.10" y="599.80" width="23.70" height="14.50" fill="#f6d7cd"/>
<rect x="446.44" y="599.8" width="0.89" height="14.5" fill="#000000" fill-opacity="0.11"/>
<rect x="447.94" y="599.8" width="1.59" height="14.5" fill="#000000" fill-opacity="0.07"/>
<rect x="449.52" y="599.8" width="0.90" height="14.5" fill="#000000" fill-opacity="0.10"/>
<rect x="453.48" y="599.8" width="0.80" height="14.5" fill="#ffffff" fill-opacity="0.05"/>
<rect x="457.80" y="599.80" width="14.00" height="14.50" fill="#eceef6"/>
<rect x="457.80" y="599.8" width="1.33" height="14.5" fill="#000000" fill-opacity="0.08"/>
<rect x="459.13" y="599.8" width="1.19" height="14.5" fill="#ffffff" fill-opacity="0.11"/>
<rect x="460.32" y="599.8" width="1.13" height="14.5" fill="#000000" fill-opacity="0.10"/>
<rect x="462.70" y="599.8" width="0.75" height="14.5" fill="#000000" fill-opacity="0.09"/>
<rect x="464.49" y="599.8" width="1.60" height="14.5" fill="#ffffff" fill-opacity="0.07"/>
<rect x="471.80" y="599.80" width="16.70" height="14.50" fill="#b8d0e6"/>
<rect x="471.80" y="599.8" width="1.02" height="14.5" fill="#000000" fill-opacity="0.12"/>
<rect x="473.63" y="599.8" width="1.01" height="14.5" fill="#ffffff" fill-opacity="0.08"/>
<rect x="476.23" y="599.8" width="0.64" height="14.5" fill="#ffffff" fill-opacity="0.08"/>
<rect x="476.88" y="599.8" width="1.29" height="14.5" fill="#000000" fill-opacity="0.09"/>
<rect x="478.17" y="599.8" width="0.70" height="14.5" fill="#ffffff" fill-opacity="0.07"/>
<rect x="481.96" y="599.8" width="1.17" height="14.5" fill="#ffffff" fill-opacity="0.06"/>
<rect x="484.25" y="599.8" width="0.63" height="14.5" fill="#000000" fill-opacity="0.12"/>
<rect x="486.10" y="599.8" width="0.66" height="14.5" fill="#000000" fill-opacity="0.06"/>
<rect x="486.76" y="599.8" width="0.84" height="14.5" fill="#ffffff" fill-opacity="0.07"/>
<rect x="488.50" y="599.80" width="14.00" height="14.50" fill="#6ea8da"/>
<rect x="488.50" y="599.8" width="1.18" height="14.5" fill="#000000" fill-opacity="0.11"/>
<rect x="489.68" y="599.8" width="0.62" height="14.5" fill="#000000" fill-opacity="0.10"/>
<rect x="490.30" y="599.8" width="1.56" height="14.5" fill="#ffffff" fill-opacity="0.07"/>
<rect x="492.51" y="599.8" width="1.45" height="14.5" fill="#000000" fill-opacity="0.08"/>
<rect x="496.26" y="599.8" width="0.84" height="14.5" fill="#ffffff" fill-opacity="0.09"/>
<rect x="498.72" y="599.8" width="0.69" height="14.5" fill="#000000" fill-opacity="0.07"/>
<rect x="499.41" y="599.8" width="1.57" height="14.5" fill="#000000" fill-opacity="0.06"/>
<rect x="500.98" y="599.8" width="1.13" height="14.5" fill="#000000" fill-opacity="0.11"/>
<rect x="502.50" y="599.80" width="10.30" height="14.50" fill="#3a80c2"/>
<rect x="502.50" y="599.8" width="1.56" height="14.5" fill="#000000" fill-opacity="0.10"/>
<rect x="505.05" y="599.8" width="0.94" height="14.5" fill="#000000" fill-opacity="0.11"/>
<rect x="505.99" y="599.8" width="0.94" height="14.5" fill="#ffffff" fill-opacity="0.06"/>
<rect x="507.80" y="599.8" width="0.73" height="14.5" fill="#ffffff" fill-opacity="0.06"/>
<rect x="511.27" y="599.8" width="1.10" height="14.5" fill="#000000" fill-opacity="0.11"/>
<rect x="375.85" y="596.80" width="0.70" height="3.00" fill="#777"/>
<rect x="376.30" y="596.80" width="1.20" height="3.00" fill="#777"/>
<rect x="376.75" y="596.80" width="0.40" height="3.00" fill="#777"/>
<rect x="377.20" y="596.80" width="0.70" height="3.00" fill="#555"/>
<rect x="377.65" y="596.80" width="1.20" height="3.00" fill="#111"/>
<rect x="378.10" y="596.80" width="0.90" height="3.00" fill="#000"/>
<rect x="379.45" y="596.80" width="0.50" height="3.00" fill="#000"/>
<rect x="379.90" y="596.80" width="0.70" height="3.00" fill="#777"/>
<rect x="380.80" y="596.80" width="0.70" height="3.00" fill="#000"/>
<rect x="381.25" y="596.80" width="0.50" height="3.00" fill="#555"/>
<rect x="381.70" y="596.80" width="0.90" height="3.00" fill="#555"/>
<rect x="383.50" y="596.80" width="0.70" height="3.00" fill="#111"/>
<rect x="383.95" y="596.80" width="0.70" height="3.00" fill="#555"/>
<rect x="384.40" y="596.80" width="0.90" height="3.00" fill="#111"/>
<rect x="385.30" y="596.80" width="0.40" height="3.00" fill="#111"/>
<rect x="385.75" y="596.80" width="0.70" height="3.00" fill="#777"/>
<rect x="387.10" y="596.80" width="0.40" height="3.00" fill="#777"/>
<rect x="387.55" y="596.80" width="0.50" height="3.00" fill="#333"/>
<rect x="388.00" y="596.80" width="0.40" height="3.00" fill="#777"/>
<rect x="388.45" y="596.80" width="0.50" height="3.00" fill="#777"/>
<rect x="390.25" y="596.80" width="0.90" height="3.00" fill="#777"/>
<rect x="390.70" y="596.80" width="0.40" height="3.00" fill="#000"/>
<rect x="392.05" y="596.80" width="0.40" height="3.00" fill="#777"/>
<rect x="392.95" y="596.80" width="0.50" height="3.00" fill="#000"/>
<rect x="393.40" y="596.80" width="0.70" height="3.00" fill="#111"/>
<rect x="394.30" y="596.80" width="0.40" height="3.00" fill="#555"/>
<rect x="395.20" y="596.80" width="1.20" height="3.00" fill="#111"/>
<rect x="395.65" y="596.80" width="0.40" height="3.00" fill="#333"/>
<rect x="396.55" y="596.80" width="0.70" height="3.00" fill="#777"/>
<rect x="398.35" y="596.80" width="0.40" height="3.00" fill="#111"/>
<rect x="398.80" y="596.80" width="1.20" height="3.00" fill="#111"/>
<rect x="399.25" y="596.80" width="0.50" height="3.00" fill="#000"/>
<rect x="401.05" y="596.80" width="0.50" height="3.00" fill="#111"/>
<rect x="401.50" y="596.80" width="0.50" height="3.00" fill="#000"/>
<rect x="401.95" y="596.80" width="0.70" height="3.00" fill="#555"/>
<rect x="402.40" y="596.80" width="0.70" height="3.00" fill="#111"/>
<rect x="402.85" y="596.80" width="0.90" height="3.00" fill="#555"/>
<rect x="403.30" y="596.80" width="0.50" height="3.00" fill="#000"/>
<rect x="403.75" y="596.80" width="0.90" height="3.00" fill="#111"/>
<rect x="404.65" y="596.80" width="0.70" height="3.00" fill="#111"/>
<rect x="405.55" y="596.80" width="1.20" height="3.00" fill="#111"/>
<rect x="406.00" y="596.80" width="0.40" height="3.00" fill="#777"/>
<rect x="406.45" y="596.80" width="0.50" height="3.00" fill="#111"/>
<rect x="407.35" y="596.80" width="0.90" height="3.00" fill="#111"/>
<rect x="407.80" y="596.80" width="0.70" height="3.00" fill="#000"/>
<rect x="408.25" y="596.80" width="0.50" height="3.00" fill="#000"/>
<rect x="408.70" y="596.80" width="0.70" height="3.00" fill="#333"/>
<rect x="409.15" y="596.80" width="0.70" height="3.00" fill="#555"/>
<rect x="410.05" y="596.80" width="0.90" height="3.00" fill="#555"/>
<rect x="410.95" y="596.80" width="1.20" height="3.00" fill="#000"/>
<rect x="411.40" y="596.80" width="0.90" height="3.00" fill="#555"/>
<rect x="411.85" y="596.80" width="0.70" height="3.00" fill="#777"/>
<rect x="412.30" y="596.80" width="0.90" height="3.00" fill="#555"/>
<rect x="412.75" y="596.80" width="1.20" height="3.00" fill="#333"/>
<rect x="413.20" y="596.80" width="0.40" height="3.00" fill="#333"/>
<rect x="415.00" y="596.80" width="0.50" height="3.00" fill="#000"/>
<rect x="415.45" y="596.80" width="0.40" height="3.00" fill="#000"/>
<rect x="416.80" y="596.80" width="0.50" height="3.00" fill="#777"/>
<rect x="418.15" y="596.80" width="0.70" height="3.00" fill="#777"/>
<rect x="418.60" y="596.80" width="0.50" height="3.00" fill="#333"/>
<rect x="419.05" y="596.80" width="0.70" height="3.00" fill="#111"/>
<rect x="419.95" y="596.80" width="0.70" height="3.00" fill="#111"/>
<rect x="420.40" y="596.80" width="0.40" height="3.00" fill="#777"/>
<rect x="422.20" y="596.80" width="0.40" height="3.00" fill="#111"/>
<rect x="422.65" y="596.80" width="0.90" height="3.00" fill="#111"/>
<rect x="424.45" y="596.80" width="0.50" height="3.00" fill="#111"/>
<rect x="424.90" y="596.80" width="0.90" height="3.00" fill="#000"/>
<rect x="426.25" y="596.80" width="0.50" height="3.00" fill="#333"/>
<rect x="426.70" y="596.80" width="1.20" height="3.00" fill="#777"/>
<rect x="427.15" y="596.80" width="0.70" height="3.00" fill="#000"/>
<rect x="428.05" y="596.80" width="0.90" height="3.00" fill="#333"/>
<rect x="428.50" y="596.80" width="0.40" height="3.00" fill="#111"/>
<rect x="429.40" y="596.80" width="0.70" height="3.00" fill="#000"/>
<rect x="431.20" y="596.80" width="0.40" height="3.00" fill="#777"/>
<rect x="435.70" y="596.80" width="0.70" height="3.00" fill="#777"/>
<rect x="438.40" y="596.80" width="0.70" height="3.00" fill="#777"/>
<rect x="439.30" y="596.80" width="0.50" height="3.00" fill="#111"/>
<rect x="440.65" y="596.80" width="1.20" height="3.00" fill="#333"/>
<rect x="444.70" y="596.80" width="0.40" height="3.00" fill="#111"/>
<rect x="446.05" y="596.80" width="1.20" height="3.00" fill="#333"/>
<rect x="451.45" y="596.80" width="1.20" height="3.00" fill="#777"/>
<rect x="456.40" y="596.80" width="0.90" height="3.00" fill="#000"/>
<rect x="456.85" y="596.80" width="1.20" height="3.00" fill="#000"/>
<rect x="457.75" y="596.80" width="0.40" height="3.00" fill="#000"/>
<rect x="459.55" y="596.80" width="0.50" height="3.00" fill="#555"/>
<rect x="460.45" y="596.80" width="0.50" height="3.00" fill="#777"/>
<rect x="460.90" y="596.80" width="0.70" height="3.00" fill="#111"/>
<rect x="463.15" y="596.80" width="0.70" height="3.00" fill="#000"/>
<rect x="468.10" y="596.80" width="0.50" height="3.00" fill="#333"/>
<rect x="469.45" y="596.80" width="1.20" height="3.00" fill="#555"/>
<rect x="469.90" y="596.80" width="0.40" height="3.00" fill="#555"/>
<rect x="470.35" y="596.80" width="0.70" height="3.00" fill="#111"/>
<rect x="470.80" y="596.80" width="0.70" height="3.00" fill="#555"/>
<rect x="474.40" y="596.80" width="0.50" height="3.00" fill="#555"/>
<rect x="476.20" y="596.80" width="0.50" height="3.00" fill="#777"/>
<rect x="478.45" y="596.80" width="0.90" height="3.00" fill="#555"/>
<rect x="481.60" y="596.80" width="1.20" height="3.00" fill="#000"/>
<rect x="482.05" y="596.80" width="0.70" height="3.00" fill="#555"/>
<rect x="487.90" y="596.80" width="0.90" height="3.00" fill="#333"/>
<rect x="488.35" y="596.80" width="0.70" height="3.00" fill="#333"/>
<rect x="490.60" y="596.80" width="1.20" height="3.00" fill="#000"/>
<rect x="499.15" y="596.80" width="0.70" height="3.00" fill="#333"/>
<rect x="502.30" y="596.80" width="0.50" height="3.00" fill="#000"/>
<rect x="505.90" y="596.80" width="0.70" height="3.00" fill="#333"/>
<rect x="509.05" y="596.80" width="0.50" height="3.00" fill="#333"/>
<rect x="512.20" y="596.80" width="0.90" height="3.00" fill="#333"/>
<path d="M374.4,626.2 C379,629.5 387,630.8 412,631.2 L495,631.4 C505,631.4 509,631.4 512.3,631.2 L512.3,638.8 C509,636.5 505,635.2 495,634.8 L412,633.8 C387,633.2 379,632.5 374.4,631.9 Z" fill="#cdcdcd" stroke="none" stroke-width="0.6"/>
<line x1="373.90" y1="631.60" x2="512.80" y2="631.60" stroke="#b5b5b5" stroke-width="0.5"/>
<polyline fill="none" stroke="#7cc35a" stroke-width="0.85" stroke-linejoin="round" points="374.5,581.8 376.5,573.9 377.9,566.6 380.8,559.4 384.4,556.3 386.6,558.0 388.8,555.1 390.9,551.5 395.3,554.4 400.3,557.3 405.4,560.9 411.8,563.8 416.2,566.6 420.5,568.4 425.6,571.7 428.4,571.0 432.0,571.7 436.4,573.9 437.8,573.1 440.0,575.9 446.5,581.6 453.0,585.3 455.9,578.0 462.4,584.5 466.0,585.3 468.9,583.8 473.2,587.4 478.2,588.9 481.8,591.0 486.2,588.1 489.8,591.7 494.1,594.6 495.6,592.5 497.7,586.0 500.6,587.4 503.5,584.2 506.4,588.1 508.5,583.8 510.7,586.7 512.4,584.5"/>
<rect x="373.9" y="544.7" width="138.89999999999998" height="104.19999999999993" fill="none" stroke="#2a2a2a" stroke-width="1.1"/>
<line x1="370.80" y1="554.40" x2="373.90" y2="554.40" stroke="#111" stroke-width="0.7"/>
<text x="367.70" y="556.38" font-size="5.5" text-anchor="end" fill="#222" stroke="#222" stroke-width="0.07">0.2</text>
<line x1="370.80" y1="569.50" x2="373.90" y2="569.50" stroke="#111" stroke-width="0.7"/>
<text x="367.70" y="571.48" font-size="5.5" text-anchor="end" fill="#222" stroke="#222" stroke-width="0.07">0.1</text>
<line x1="370.80" y1="585.40" x2="373.90" y2="585.40" stroke="#111" stroke-width="0.7"/>
<text x="367.70" y="587.38" font-size="5.5" text-anchor="end" fill="#222" stroke="#222" stroke-width="0.07">0.0</text>
<line x1="370.80" y1="622.30" x2="373.90" y2="622.30" stroke="#111" stroke-width="0.7"/>
<text x="367.70" y="624.28" font-size="5.5" text-anchor="end" fill="#222" stroke="#222" stroke-width="0.07">1</text>
<line x1="370.80" y1="631.30" x2="373.90" y2="631.30" stroke="#111" stroke-width="0.7"/>
<text x="367.70" y="633.28" font-size="5.5" text-anchor="end" fill="#222" stroke="#222" stroke-width="0.07">0</text>
<line x1="370.80" y1="640.30" x2="373.90" y2="640.30" stroke="#111" stroke-width="0.7"/>
<text x="367.70" y="642.28" font-size="5.5" text-anchor="end" fill="#222" stroke="#222" stroke-width="0.07">−1</text>
<line x1="416.30" y1="648.90" x2="416.30" y2="651.30" stroke="#111" stroke-width="0.6"/>
<text x="416.30" y="659.84" font-size="5.4" text-anchor="middle" fill="#222" stroke="#222" stroke-width="0.07">2000</text>
<line x1="460.90" y1="648.90" x2="460.90" y2="651.30" stroke="#111" stroke-width="0.6"/>
<text x="460.90" y="659.84" font-size="5.4" text-anchor="middle" fill="#222" stroke="#222" stroke-width="0.07">4000</text>
<line x1="504.30" y1="648.90" x2="504.30" y2="651.30" stroke="#111" stroke-width="0.6"/>
<text x="504.30" y="659.84" font-size="5.4" text-anchor="middle" fill="#222" stroke="#222" stroke-width="0.07">6000</text>
<text x="443.60" y="670.40" font-size="7.4" text-anchor="middle" fill="#333" font-weight="bold" textLength="54.00" lengthAdjust="spacingAndGlyphs">Rank in ordered dataset</text>
<text x="443.20" y="540.22" font-size="7.0" text-anchor="middle" fill="#111" stroke="#111" stroke-width="0.07">Response to hypoxia</text>
</svg></body></html>
